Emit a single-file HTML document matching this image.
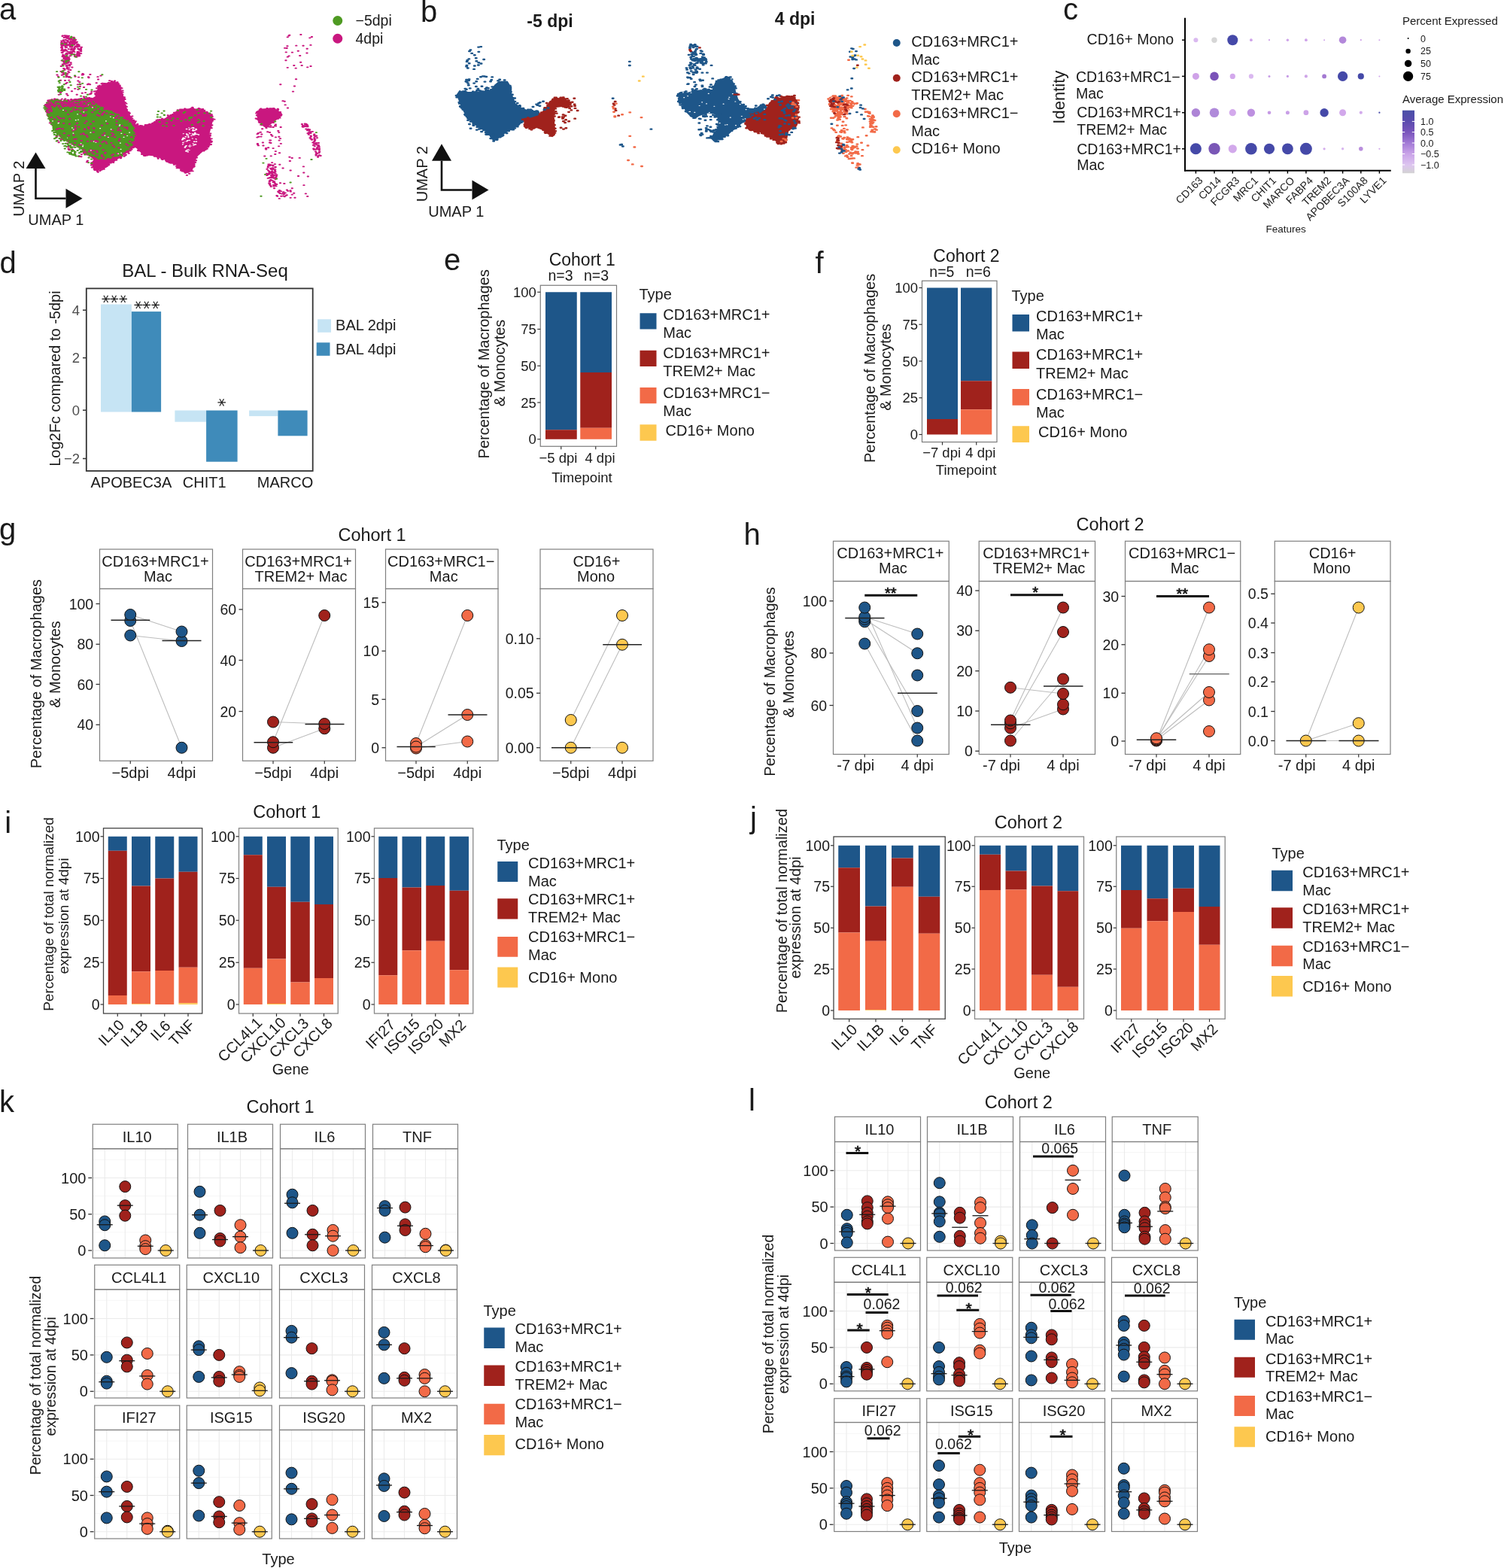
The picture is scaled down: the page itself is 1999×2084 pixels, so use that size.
<!DOCTYPE html>
<html><head><meta charset="utf-8"><title>Figure</title><style>html,body{margin:0;padding:0;background:#fff;}svg{display:block;}</style></head><body>
<svg width="1999" height="2084" viewBox="0 0 1999 2084" font-family='"Liberation Sans", Arial, Helvetica, sans-serif' fill="#1A1A1A">
<text x="-0.4" y="363.3" font-size="40">d</text>
<text x="272.5" y="367.5" font-size="24" text-anchor="middle">BAL - Bulk RNA-Seq</text>
<rect x="134" y="404.5" width="40.9" height="143" fill="#C6E4F4"/>
<rect x="174.9" y="414.1" width="39.2" height="133.4" fill="#3F8BBA"/>
<rect x="232.4" y="545.5" width="41.7" height="15.2" fill="#C6E4F4"/>
<rect x="274.1" y="545.5" width="41.5" height="68.2" fill="#3F8BBA"/>
<rect x="331.1" y="545.5" width="38.3" height="7.6" fill="#C6E4F4"/>
<rect x="369.4" y="545.5" width="39.2" height="33.8" fill="#3F8BBA"/>
<rect x="114.8" y="383.4" width="300.9" height="242.5" fill="none" stroke="#333" stroke-width="1.8"/>
<line x1="110" y1="412.2" x2="114.8" y2="412.2" stroke="#333" stroke-width="1.5"/>
<text x="106" y="418.7" font-size="18.5" text-anchor="end" fill="#4D4D4D">4</text>
<line x1="110" y1="475.6" x2="114.8" y2="475.6" stroke="#333" stroke-width="1.5"/>
<text x="106" y="482.1" font-size="18.5" text-anchor="end" fill="#4D4D4D">2</text>
<line x1="110" y1="545.2" x2="114.8" y2="545.2" stroke="#333" stroke-width="1.5"/>
<text x="106" y="551.7" font-size="18.5" text-anchor="end" fill="#4D4D4D">0</text>
<line x1="110" y1="609.5" x2="114.8" y2="609.5" stroke="#333" stroke-width="1.5"/>
<text x="106" y="616" font-size="18.5" text-anchor="end" fill="#4D4D4D">−2</text>
<text x="135.32" y="409" font-size="22.5" font-family="DejaVu Sans" transform="rotate(90 140.84 397.3)">*</text>
<text x="146.57" y="409" font-size="22.5" font-family="DejaVu Sans" transform="rotate(90 152.09 397.3)">*</text>
<text x="157.82" y="409" font-size="22.5" font-family="DejaVu Sans" transform="rotate(90 163.34 397.3)">*</text>
<text x="178.32" y="417" font-size="22.5" font-family="DejaVu Sans" transform="rotate(90 183.84 405.3)">*</text>
<text x="189.57" y="417" font-size="22.5" font-family="DejaVu Sans" transform="rotate(90 195.09 405.3)">*</text>
<text x="200.82" y="417" font-size="22.5" font-family="DejaVu Sans" transform="rotate(90 206.34 405.3)">*</text>
<text x="289.07" y="546.4" font-size="22.5" font-family="DejaVu Sans" transform="rotate(90 294.59 534.7)">*</text>
<text x="174.4" y="648.1" font-size="20" text-anchor="middle">APOBEC3A</text>
<text x="271.75" y="648.1" font-size="20" text-anchor="middle">CHIT1</text>
<text x="379" y="648.1" font-size="20" text-anchor="middle">MARCO</text>
<text transform="translate(79.6 503.1) rotate(-90)" font-size="20" text-anchor="middle">Log2Fc compared to -5dpi</text>
<rect x="422.1" y="424.3" width="17.9" height="17.5" fill="#C6E4F4"/>
<rect x="420.7" y="455.3" width="17.8" height="17.5" fill="#3F8BBA"/>
<text x="446.1" y="439" font-size="20">BAL 2dpi</text>
<text x="446.1" y="470.5" font-size="20">BAL 4dpi</text>
<text x="590" y="358.75" font-size="40">e</text>
<text x="773.75" y="352.5" font-size="23" text-anchor="middle">Cohort 1</text>
<text x="745" y="372.5" font-size="19.5" text-anchor="middle">n=3</text>
<text x="792.5" y="372.5" font-size="19.5" text-anchor="middle">n=3</text>
<rect x="725" y="388.25" width="41.75" height="183" fill="#1E5689"/>
<rect x="725" y="571.25" width="41.75" height="12.5" fill="#A0221C"/>
<rect x="771.25" y="388.25" width="41.75" height="106.75" fill="#1E5689"/>
<rect x="771.25" y="495" width="41.75" height="73.75" fill="#A0221C"/>
<rect x="771.25" y="568.75" width="41.75" height="15" fill="#F26A47"/>
<rect x="718.25" y="379.25" width="101.25" height="214" fill="none" stroke="#7A7A7A" stroke-width="1.2"/>
<line x1="714.25" y1="388.25" x2="718.25" y2="388.25" stroke="#333" stroke-width="1.2"/>
<text x="712.75" y="394.75" font-size="18.5" text-anchor="end">100</text>
<line x1="714.25" y1="437.5" x2="718.25" y2="437.5" stroke="#333" stroke-width="1.2"/>
<text x="712.75" y="444" font-size="18.5" text-anchor="end">75</text>
<line x1="714.25" y1="486.25" x2="718.25" y2="486.25" stroke="#333" stroke-width="1.2"/>
<text x="712.75" y="492.75" font-size="18.5" text-anchor="end">50</text>
<line x1="714.25" y1="535" x2="718.25" y2="535" stroke="#333" stroke-width="1.2"/>
<text x="712.75" y="541.5" font-size="18.5" text-anchor="end">25</text>
<line x1="714.25" y1="583.75" x2="718.25" y2="583.75" stroke="#333" stroke-width="1.2"/>
<text x="712.75" y="590.25" font-size="18.5" text-anchor="end">0</text>
<line x1="745.75" y1="593.25" x2="745.75" y2="597.25" stroke="#333" stroke-width="1.2"/>
<line x1="791.75" y1="593.25" x2="791.75" y2="597.25" stroke="#333" stroke-width="1.2"/>
<text x="742" y="615" font-size="18.5" text-anchor="middle">−5 dpi</text>
<text x="797.5" y="615" font-size="18.5" text-anchor="middle">4 dpi</text>
<text x="773.4" y="641.25" font-size="18.5" text-anchor="middle">Timepoint</text>
<text transform="translate(650 483.75) rotate(-90)" font-size="20" text-anchor="middle">Percentage of Macrophages</text>
<text transform="translate(671.25 482.5) rotate(-90)" font-size="20" text-anchor="middle">&amp; Monocytes</text>
<text x="849.5" y="397.5" font-size="20">Type</text>
<rect x="850.5" y="416.25" width="22" height="21.25" fill="#1E5689"/>
<rect x="850.5" y="465.75" width="22" height="21.25" fill="#A0221C"/>
<rect x="850.5" y="515" width="22" height="21.25" fill="#F26A47"/>
<rect x="850.5" y="564.25" width="22" height="21.5" fill="#FDC84F"/>
<text x="881.25" y="425" font-size="20">CD163+MRC1+</text>
<text x="881.25" y="448.75" font-size="20">Mac</text>
<text x="881.25" y="476.25" font-size="20">CD163+MRC1+</text>
<text x="881.25" y="500" font-size="20">TREM2+ Mac</text>
<text x="881.25" y="528.75" font-size="20">CD163+MRC1−</text>
<text x="881.25" y="552.5" font-size="20">Mac</text>
<text x="884.5" y="578.75" font-size="20">CD16+ Mono</text>
<text x="1083.5" y="362.5" font-size="40">f</text>
<text x="1284.4" y="347.5" font-size="23" text-anchor="middle">Cohort 2</text>
<text x="1251.9" y="368" font-size="19.5" text-anchor="middle">n=5</text>
<text x="1300.25" y="368" font-size="19.5" text-anchor="middle">n=6</text>
<rect x="1232" y="382.5" width="41" height="174.5" fill="#1E5689"/>
<rect x="1232" y="557" width="41" height="20.5" fill="#A0221C"/>
<rect x="1277" y="382.5" width="41.25" height="123.75" fill="#1E5689"/>
<rect x="1277" y="506.25" width="41.25" height="38" fill="#A0221C"/>
<rect x="1277" y="544.25" width="41.25" height="33.25" fill="#F26A47"/>
<rect x="1225.5" y="373.25" width="99.5" height="214.25" fill="none" stroke="#7A7A7A" stroke-width="1.2"/>
<line x1="1221.5" y1="382.5" x2="1225.5" y2="382.5" stroke="#333" stroke-width="1.2"/>
<text x="1220" y="389" font-size="18.5" text-anchor="end">100</text>
<line x1="1221.5" y1="431.25" x2="1225.5" y2="431.25" stroke="#333" stroke-width="1.2"/>
<text x="1220" y="437.75" font-size="18.5" text-anchor="end">75</text>
<line x1="1221.5" y1="480" x2="1225.5" y2="480" stroke="#333" stroke-width="1.2"/>
<text x="1220" y="486.5" font-size="18.5" text-anchor="end">50</text>
<line x1="1221.5" y1="528.75" x2="1225.5" y2="528.75" stroke="#333" stroke-width="1.2"/>
<text x="1220" y="535.25" font-size="18.5" text-anchor="end">25</text>
<line x1="1221.5" y1="577.5" x2="1225.5" y2="577.5" stroke="#333" stroke-width="1.2"/>
<text x="1220" y="584" font-size="18.5" text-anchor="end">0</text>
<line x1="1252.5" y1="587.5" x2="1252.5" y2="591.5" stroke="#333" stroke-width="1.2"/>
<line x1="1297.75" y1="587.5" x2="1297.75" y2="591.5" stroke="#333" stroke-width="1.2"/>
<text x="1251.6" y="607.5" font-size="18.5" text-anchor="middle">−7 dpi</text>
<text x="1303.4" y="607.5" font-size="18.5" text-anchor="middle">4 dpi</text>
<text x="1284.1" y="631.25" font-size="18.5" text-anchor="middle">Timepoint</text>
<text transform="translate(1162.5 489.4) rotate(-90)" font-size="20" text-anchor="middle">Percentage of Macrophages</text>
<text transform="translate(1183.75 488) rotate(-90)" font-size="20" text-anchor="middle">&amp; Monocytes</text>
<text x="1344.5" y="400" font-size="20">Type</text>
<rect x="1345.5" y="418" width="22.5" height="22.5" fill="#1E5689"/>
<rect x="1345.5" y="467.5" width="22.5" height="22.5" fill="#A0221C"/>
<rect x="1345.5" y="517" width="22.5" height="21.75" fill="#F26A47"/>
<rect x="1345.5" y="566.25" width="22.5" height="21.75" fill="#FDC84F"/>
<text x="1377" y="427" font-size="20">CD163+MRC1+</text>
<text x="1377" y="450.75" font-size="20">Mac</text>
<text x="1377" y="477.5" font-size="20">CD163+MRC1+</text>
<text x="1377" y="502.5" font-size="20">TREM2+ Mac</text>
<text x="1377" y="531.25" font-size="20">CD163+MRC1−</text>
<text x="1377" y="555" font-size="20">Mac</text>
<text x="1380" y="581.25" font-size="20">CD16+ Mono</text>
<text x="-1" y="717.25" font-size="40">g</text>
<text x="494.5" y="718.75" font-size="23.5" text-anchor="middle">Cohort 1</text>
<rect x="132.5" y="730" width="150" height="52.5" fill="#fff" stroke="#7F7F7F" stroke-width="1.2"/>
<rect x="132.5" y="782.5" width="150" height="228.75" fill="none" stroke="#7F7F7F" stroke-width="1.2"/>
<text x="206.5" y="753.3" font-size="20" text-anchor="middle">CD163+MRC1+</text>
<text x="210" y="773.3" font-size="20" text-anchor="middle">Mac</text>
<line x1="127.5" y1="802.5" x2="132.5" y2="802.5" stroke="#333" stroke-width="1.3"/>
<text x="124.2" y="809.7" font-size="19.5" text-anchor="end">100</text>
<line x1="127.5" y1="856.25" x2="132.5" y2="856.25" stroke="#333" stroke-width="1.3"/>
<text x="124.2" y="863.45" font-size="19.5" text-anchor="end">80</text>
<line x1="127.5" y1="909.5" x2="132.5" y2="909.5" stroke="#333" stroke-width="1.3"/>
<text x="124.2" y="916.7" font-size="19.5" text-anchor="end">60</text>
<line x1="127.5" y1="963.25" x2="132.5" y2="963.25" stroke="#333" stroke-width="1.3"/>
<text x="124.2" y="970.45" font-size="19.5" text-anchor="end">40</text>
<line x1="173.25" y1="817" x2="241.5" y2="839.5" stroke="#BDBDBD" stroke-width="1.1"/>
<line x1="173.25" y1="844.5" x2="241.5" y2="852" stroke="#BDBDBD" stroke-width="1.1"/>
<line x1="173.25" y1="825" x2="241.5" y2="993.75" stroke="#BDBDBD" stroke-width="1.1"/>
<circle cx="173.25" cy="844.5" r="7.5" fill="#1E5689" stroke="#111" stroke-width="1"/>
<circle cx="173.25" cy="825" r="7.5" fill="#1E5689" stroke="#111" stroke-width="1"/>
<circle cx="173.25" cy="817" r="7.5" fill="#1E5689" stroke="#111" stroke-width="1"/>
<circle cx="241.5" cy="993.75" r="7.5" fill="#1E5689" stroke="#111" stroke-width="1"/>
<circle cx="241.5" cy="852" r="7.5" fill="#1E5689" stroke="#111" stroke-width="1"/>
<circle cx="241.5" cy="839.5" r="7.5" fill="#1E5689" stroke="#111" stroke-width="1"/>
<line x1="147.5" y1="824.25" x2="199.25" y2="824.25" stroke="#222" stroke-width="1.5"/>
<line x1="215.5" y1="851.5" x2="267.5" y2="851.5" stroke="#222" stroke-width="1.5"/>
<line x1="173.25" y1="1011.25" x2="173.25" y2="1015.25" stroke="#333" stroke-width="1.2"/>
<text x="173.25" y="1033.75" font-size="20" text-anchor="middle">−5dpi</text>
<line x1="241.5" y1="1011.25" x2="241.5" y2="1015.25" stroke="#333" stroke-width="1.2"/>
<text x="241.5" y="1033.75" font-size="20" text-anchor="middle">4dpi</text>
<rect x="322.5" y="730" width="150" height="52.5" fill="#fff" stroke="#7F7F7F" stroke-width="1.2"/>
<rect x="322.5" y="782.5" width="150" height="228.75" fill="none" stroke="#7F7F7F" stroke-width="1.2"/>
<text x="396.5" y="753.3" font-size="20" text-anchor="middle">CD163+MRC1+</text>
<text x="400" y="773.3" font-size="20" text-anchor="middle">TREM2+ Mac</text>
<line x1="317.5" y1="810" x2="322.5" y2="810" stroke="#333" stroke-width="1.3"/>
<text x="314.2" y="817.2" font-size="19.5" text-anchor="end">60</text>
<line x1="317.5" y1="877.5" x2="322.5" y2="877.5" stroke="#333" stroke-width="1.3"/>
<text x="314.2" y="884.7" font-size="19.5" text-anchor="end">40</text>
<line x1="317.5" y1="945.5" x2="322.5" y2="945.5" stroke="#333" stroke-width="1.3"/>
<text x="314.2" y="952.7" font-size="19.5" text-anchor="end">20</text>
<line x1="363" y1="959.5" x2="431.25" y2="962" stroke="#BDBDBD" stroke-width="1.1"/>
<line x1="363" y1="993.75" x2="431.25" y2="968.25" stroke="#BDBDBD" stroke-width="1.1"/>
<line x1="363" y1="986.25" x2="431.25" y2="818" stroke="#BDBDBD" stroke-width="1.1"/>
<circle cx="363" cy="959.5" r="7.5" fill="#A0221C" stroke="#111" stroke-width="1"/>
<circle cx="363" cy="993.75" r="7.5" fill="#A0221C" stroke="#111" stroke-width="1"/>
<circle cx="363" cy="986.25" r="7.5" fill="#A0221C" stroke="#111" stroke-width="1"/>
<circle cx="431.25" cy="818" r="7.5" fill="#A0221C" stroke="#111" stroke-width="1"/>
<circle cx="431.25" cy="968.25" r="7.5" fill="#A0221C" stroke="#111" stroke-width="1"/>
<circle cx="431.25" cy="962" r="7.5" fill="#A0221C" stroke="#111" stroke-width="1"/>
<line x1="337.5" y1="986.75" x2="389.25" y2="986.75" stroke="#222" stroke-width="1.5"/>
<line x1="405.5" y1="962.5" x2="457.5" y2="962.5" stroke="#222" stroke-width="1.5"/>
<line x1="363" y1="1011.25" x2="363" y2="1015.25" stroke="#333" stroke-width="1.2"/>
<text x="363" y="1033.75" font-size="20" text-anchor="middle">−5dpi</text>
<line x1="431.25" y1="1011.25" x2="431.25" y2="1015.25" stroke="#333" stroke-width="1.2"/>
<text x="431.25" y="1033.75" font-size="20" text-anchor="middle">4dpi</text>
<rect x="512.5" y="730" width="149.5" height="52.5" fill="#fff" stroke="#7F7F7F" stroke-width="1.2"/>
<rect x="512.5" y="782.5" width="149.5" height="228.75" fill="none" stroke="#7F7F7F" stroke-width="1.2"/>
<text x="586.25" y="753.3" font-size="20" text-anchor="middle">CD163+MRC1−</text>
<text x="589.75" y="773.3" font-size="20" text-anchor="middle">Mac</text>
<line x1="507.5" y1="800.75" x2="512.5" y2="800.75" stroke="#333" stroke-width="1.3"/>
<text x="504.2" y="807.95" font-size="19.5" text-anchor="end">15</text>
<line x1="507.5" y1="865.25" x2="512.5" y2="865.25" stroke="#333" stroke-width="1.3"/>
<text x="504.2" y="872.45" font-size="19.5" text-anchor="end">10</text>
<line x1="507.5" y1="929.5" x2="512.5" y2="929.5" stroke="#333" stroke-width="1.3"/>
<text x="504.2" y="936.7" font-size="19.5" text-anchor="end">5</text>
<line x1="507.5" y1="993.75" x2="512.5" y2="993.75" stroke="#333" stroke-width="1.3"/>
<text x="504.2" y="1000.95" font-size="19.5" text-anchor="end">0</text>
<line x1="553" y1="988" x2="621.25" y2="818" stroke="#BDBDBD" stroke-width="1.1"/>
<line x1="553" y1="992.5" x2="621.25" y2="950" stroke="#BDBDBD" stroke-width="1.1"/>
<line x1="553" y1="994.5" x2="621.25" y2="985.5" stroke="#BDBDBD" stroke-width="1.1"/>
<circle cx="553" cy="988" r="7.5" fill="#F26A47" stroke="#111" stroke-width="1"/>
<circle cx="553" cy="994.5" r="7.5" fill="#F26A47" stroke="#111" stroke-width="1"/>
<circle cx="553" cy="992.5" r="7.5" fill="#F26A47" stroke="#111" stroke-width="1"/>
<circle cx="621.25" cy="818" r="7.5" fill="#F26A47" stroke="#111" stroke-width="1"/>
<circle cx="621.25" cy="985.5" r="7.5" fill="#F26A47" stroke="#111" stroke-width="1"/>
<circle cx="621.25" cy="950" r="7.5" fill="#F26A47" stroke="#111" stroke-width="1"/>
<line x1="527.5" y1="992.5" x2="578.75" y2="992.5" stroke="#222" stroke-width="1.5"/>
<line x1="595.5" y1="950" x2="647.5" y2="950" stroke="#222" stroke-width="1.5"/>
<line x1="553" y1="1011.25" x2="553" y2="1015.25" stroke="#333" stroke-width="1.2"/>
<text x="553" y="1033.75" font-size="20" text-anchor="middle">−5dpi</text>
<line x1="621.25" y1="1011.25" x2="621.25" y2="1015.25" stroke="#333" stroke-width="1.2"/>
<text x="621.25" y="1033.75" font-size="20" text-anchor="middle">4dpi</text>
<rect x="718" y="730" width="150" height="52.5" fill="#fff" stroke="#7F7F7F" stroke-width="1.2"/>
<rect x="718" y="782.5" width="150" height="228.75" fill="none" stroke="#7F7F7F" stroke-width="1.2"/>
<text x="793" y="753.3" font-size="20" text-anchor="middle">CD16+</text>
<text x="792" y="773.3" font-size="20" text-anchor="middle">Mono</text>
<line x1="713" y1="848.75" x2="718" y2="848.75" stroke="#333" stroke-width="1.3"/>
<text x="709.7" y="855.95" font-size="19.5" text-anchor="end">0.10</text>
<line x1="713" y1="921.25" x2="718" y2="921.25" stroke="#333" stroke-width="1.3"/>
<text x="709.7" y="928.45" font-size="19.5" text-anchor="end">0.05</text>
<line x1="713" y1="993.75" x2="718" y2="993.75" stroke="#333" stroke-width="1.3"/>
<text x="709.7" y="1000.95" font-size="19.5" text-anchor="end">0.00</text>
<line x1="758.75" y1="957" x2="827" y2="818" stroke="#BDBDBD" stroke-width="1.1"/>
<line x1="758.75" y1="993.75" x2="827" y2="856.75" stroke="#BDBDBD" stroke-width="1.1"/>
<line x1="758.75" y1="993.75" x2="827" y2="993.75" stroke="#BDBDBD" stroke-width="1.1"/>
<circle cx="758.75" cy="957" r="7.5" fill="#FDC84F" stroke="#111" stroke-width="1"/>
<circle cx="758.75" cy="993.75" r="7.5" fill="#FDC84F" stroke="#111" stroke-width="1"/>
<circle cx="827" cy="818" r="7.5" fill="#FDC84F" stroke="#111" stroke-width="1"/>
<circle cx="827" cy="856.75" r="7.5" fill="#FDC84F" stroke="#111" stroke-width="1"/>
<circle cx="827" cy="993.75" r="7.5" fill="#FDC84F" stroke="#111" stroke-width="1"/>
<line x1="733" y1="993.75" x2="785" y2="993.75" stroke="#222" stroke-width="1.5"/>
<line x1="801.25" y1="856.75" x2="853" y2="856.75" stroke="#222" stroke-width="1.5"/>
<line x1="758.75" y1="1011.25" x2="758.75" y2="1015.25" stroke="#333" stroke-width="1.2"/>
<text x="758.75" y="1033.75" font-size="20" text-anchor="middle">−5dpi</text>
<line x1="827" y1="1011.25" x2="827" y2="1015.25" stroke="#333" stroke-width="1.2"/>
<text x="827" y="1033.75" font-size="20" text-anchor="middle">4dpi</text>
<text transform="translate(55 895.6) rotate(-90)" font-size="20" text-anchor="middle">Percentage of Macrophages</text>
<text transform="translate(80 883) rotate(-90)" font-size="20" text-anchor="middle">&amp; Monocytes</text>
<text x="988.6" y="723.75" font-size="40">h</text>
<text x="1475.6" y="705" font-size="23.5" text-anchor="middle">Cohort 2</text>
<rect x="1107.5" y="719.25" width="153.75" height="53.25" fill="#fff" stroke="#7F7F7F" stroke-width="1.2"/>
<rect x="1107.5" y="772.5" width="153.75" height="230" fill="none" stroke="#7F7F7F" stroke-width="1.2"/>
<text x="1183.38" y="742.05" font-size="20" text-anchor="middle">CD163+MRC1+</text>
<text x="1186.88" y="762.05" font-size="20" text-anchor="middle">Mac</text>
<line x1="1102.5" y1="798.75" x2="1107.5" y2="798.75" stroke="#333" stroke-width="1.3"/>
<text x="1099.2" y="805.95" font-size="19.5" text-anchor="end">100</text>
<line x1="1102.5" y1="868" x2="1107.5" y2="868" stroke="#333" stroke-width="1.3"/>
<text x="1099.2" y="875.2" font-size="19.5" text-anchor="end">80</text>
<line x1="1102.5" y1="937.5" x2="1107.5" y2="937.5" stroke="#333" stroke-width="1.3"/>
<text x="1099.2" y="944.7" font-size="19.5" text-anchor="end">60</text>
<line x1="1149.25" y1="820" x2="1219.25" y2="842.5" stroke="#BDBDBD" stroke-width="1.1"/>
<line x1="1149.25" y1="823" x2="1219.25" y2="868.25" stroke="#BDBDBD" stroke-width="1.1"/>
<line x1="1149.25" y1="826.25" x2="1219.25" y2="945" stroke="#BDBDBD" stroke-width="1.1"/>
<line x1="1149.25" y1="807.5" x2="1219.25" y2="967.5" stroke="#BDBDBD" stroke-width="1.1"/>
<line x1="1149.25" y1="855.5" x2="1219.25" y2="984.5" stroke="#BDBDBD" stroke-width="1.1"/>
<circle cx="1149.25" cy="855.5" r="7.5" fill="#1E5689" stroke="#111" stroke-width="1"/>
<circle cx="1149.25" cy="826.25" r="7.5" fill="#1E5689" stroke="#111" stroke-width="1"/>
<circle cx="1149.25" cy="823" r="7.5" fill="#1E5689" stroke="#111" stroke-width="1"/>
<circle cx="1149.25" cy="820" r="7.5" fill="#1E5689" stroke="#111" stroke-width="1"/>
<circle cx="1149.25" cy="807.5" r="7.5" fill="#1E5689" stroke="#111" stroke-width="1"/>
<circle cx="1219.25" cy="984.5" r="7.5" fill="#1E5689" stroke="#111" stroke-width="1"/>
<circle cx="1219.25" cy="967.5" r="7.5" fill="#1E5689" stroke="#111" stroke-width="1"/>
<circle cx="1219.25" cy="945" r="7.5" fill="#1E5689" stroke="#111" stroke-width="1"/>
<circle cx="1219.25" cy="897.5" r="7.5" fill="#1E5689" stroke="#111" stroke-width="1"/>
<circle cx="1219.25" cy="868.25" r="7.5" fill="#1E5689" stroke="#111" stroke-width="1"/>
<circle cx="1219.25" cy="842.5" r="7.5" fill="#1E5689" stroke="#111" stroke-width="1"/>
<line x1="1123.25" y1="821.5" x2="1175.5" y2="821.5" stroke="#222" stroke-width="1.5"/>
<line x1="1193" y1="921.25" x2="1245.75" y2="921.25" stroke="#222" stroke-width="1.5"/>
<line x1="1149.25" y1="1002.5" x2="1149.25" y2="1006.5" stroke="#333" stroke-width="1.2"/>
<text x="1137.25" y="1023.75" font-size="20" text-anchor="middle">-7 dpi</text>
<line x1="1219.25" y1="1002.5" x2="1219.25" y2="1006.5" stroke="#333" stroke-width="1.2"/>
<text x="1219.25" y="1023.75" font-size="20" text-anchor="middle">4 dpi</text>
<line x1="1149.25" y1="791.25" x2="1219.25" y2="791.25" stroke="#111" stroke-width="3"/>
<text x="1183.75" y="794.5" font-size="20" text-anchor="middle" stroke="#111" stroke-width="0.7">**</text>
<rect x="1301.25" y="719.25" width="154.25" height="53.25" fill="#fff" stroke="#7F7F7F" stroke-width="1.2"/>
<rect x="1301.25" y="772.5" width="154.25" height="230" fill="none" stroke="#7F7F7F" stroke-width="1.2"/>
<text x="1377.38" y="742.05" font-size="20" text-anchor="middle">CD163+MRC1+</text>
<text x="1380.88" y="762.05" font-size="20" text-anchor="middle">TREM2+ Mac</text>
<line x1="1296.25" y1="785" x2="1301.25" y2="785" stroke="#333" stroke-width="1.3"/>
<text x="1292.95" y="792.2" font-size="19.5" text-anchor="end">40</text>
<line x1="1296.25" y1="838.25" x2="1301.25" y2="838.25" stroke="#333" stroke-width="1.3"/>
<text x="1292.95" y="845.45" font-size="19.5" text-anchor="end">30</text>
<line x1="1296.25" y1="891.75" x2="1301.25" y2="891.75" stroke="#333" stroke-width="1.3"/>
<text x="1292.95" y="898.95" font-size="19.5" text-anchor="end">20</text>
<line x1="1296.25" y1="945" x2="1301.25" y2="945" stroke="#333" stroke-width="1.3"/>
<text x="1292.95" y="952.2" font-size="19.5" text-anchor="end">10</text>
<line x1="1296.25" y1="998.25" x2="1301.25" y2="998.25" stroke="#333" stroke-width="1.3"/>
<text x="1292.95" y="1005.45" font-size="19.5" text-anchor="end">0</text>
<line x1="1343" y1="913.75" x2="1413" y2="922" stroke="#BDBDBD" stroke-width="1.1"/>
<line x1="1343" y1="957.5" x2="1413" y2="807.5" stroke="#BDBDBD" stroke-width="1.1"/>
<line x1="1343" y1="961.25" x2="1413" y2="840" stroke="#BDBDBD" stroke-width="1.1"/>
<line x1="1343" y1="967.5" x2="1413" y2="942.5" stroke="#BDBDBD" stroke-width="1.1"/>
<line x1="1343" y1="984.5" x2="1413" y2="902.5" stroke="#BDBDBD" stroke-width="1.1"/>
<circle cx="1343" cy="984.5" r="7.5" fill="#A0221C" stroke="#111" stroke-width="1"/>
<circle cx="1343" cy="967.5" r="7.5" fill="#A0221C" stroke="#111" stroke-width="1"/>
<circle cx="1343" cy="961.25" r="7.5" fill="#A0221C" stroke="#111" stroke-width="1"/>
<circle cx="1343" cy="957.5" r="7.5" fill="#A0221C" stroke="#111" stroke-width="1"/>
<circle cx="1343" cy="913.75" r="7.5" fill="#A0221C" stroke="#111" stroke-width="1"/>
<circle cx="1413" cy="942.5" r="7.5" fill="#A0221C" stroke="#111" stroke-width="1"/>
<circle cx="1413" cy="936.25" r="7.5" fill="#A0221C" stroke="#111" stroke-width="1"/>
<circle cx="1413" cy="922" r="7.5" fill="#A0221C" stroke="#111" stroke-width="1"/>
<circle cx="1413" cy="902.5" r="7.5" fill="#A0221C" stroke="#111" stroke-width="1"/>
<circle cx="1413" cy="840" r="7.5" fill="#A0221C" stroke="#111" stroke-width="1"/>
<circle cx="1413" cy="807.5" r="7.5" fill="#A0221C" stroke="#111" stroke-width="1"/>
<line x1="1317" y1="963.25" x2="1369.5" y2="963.25" stroke="#222" stroke-width="1.5"/>
<line x1="1387" y1="912" x2="1439.5" y2="912" stroke="#222" stroke-width="1.5"/>
<line x1="1343" y1="1002.5" x2="1343" y2="1006.5" stroke="#333" stroke-width="1.2"/>
<text x="1331" y="1023.75" font-size="20" text-anchor="middle">-7 dpi</text>
<line x1="1413" y1="1002.5" x2="1413" y2="1006.5" stroke="#333" stroke-width="1.2"/>
<text x="1413" y="1023.75" font-size="20" text-anchor="middle">4 dpi</text>
<line x1="1343" y1="790.75" x2="1413" y2="790.75" stroke="#111" stroke-width="3"/>
<text x="1376.25" y="794" font-size="20" text-anchor="middle" stroke="#111" stroke-width="0.7">*</text>
<rect x="1495.5" y="719.25" width="153.25" height="53.25" fill="#fff" stroke="#7F7F7F" stroke-width="1.2"/>
<rect x="1495.5" y="772.5" width="153.25" height="230" fill="none" stroke="#7F7F7F" stroke-width="1.2"/>
<text x="1571.12" y="742.05" font-size="20" text-anchor="middle">CD163+MRC1−</text>
<text x="1574.62" y="762.05" font-size="20" text-anchor="middle">Mac</text>
<line x1="1490.5" y1="792.5" x2="1495.5" y2="792.5" stroke="#333" stroke-width="1.3"/>
<text x="1487.2" y="799.7" font-size="19.5" text-anchor="end">30</text>
<line x1="1490.5" y1="856.75" x2="1495.5" y2="856.75" stroke="#333" stroke-width="1.3"/>
<text x="1487.2" y="863.95" font-size="19.5" text-anchor="end">20</text>
<line x1="1490.5" y1="921.25" x2="1495.5" y2="921.25" stroke="#333" stroke-width="1.3"/>
<text x="1487.2" y="928.45" font-size="19.5" text-anchor="end">10</text>
<line x1="1490.5" y1="985" x2="1495.5" y2="985" stroke="#333" stroke-width="1.3"/>
<text x="1487.2" y="992.2" font-size="19.5" text-anchor="end">0</text>
<line x1="1537" y1="984.5" x2="1607" y2="807.5" stroke="#BDBDBD" stroke-width="1.1"/>
<line x1="1537" y1="983.5" x2="1607" y2="863.25" stroke="#BDBDBD" stroke-width="1.1"/>
<line x1="1537" y1="982.5" x2="1607" y2="872" stroke="#BDBDBD" stroke-width="1.1"/>
<line x1="1537" y1="981.25" x2="1607" y2="920" stroke="#BDBDBD" stroke-width="1.1"/>
<line x1="1537" y1="983.5" x2="1607" y2="930.5" stroke="#BDBDBD" stroke-width="1.1"/>
<circle cx="1537" cy="984.5" r="7.5" fill="#F26A47" stroke="#111" stroke-width="1"/>
<circle cx="1537" cy="983.5" r="7.5" fill="#F26A47" stroke="#111" stroke-width="1"/>
<circle cx="1537" cy="982.5" r="7.5" fill="#F26A47" stroke="#111" stroke-width="1"/>
<circle cx="1537" cy="981.25" r="7.5" fill="#F26A47" stroke="#111" stroke-width="1"/>
<circle cx="1607" cy="972" r="7.5" fill="#F26A47" stroke="#111" stroke-width="1"/>
<circle cx="1607" cy="930.5" r="7.5" fill="#F26A47" stroke="#111" stroke-width="1"/>
<circle cx="1607" cy="920" r="7.5" fill="#F26A47" stroke="#111" stroke-width="1"/>
<circle cx="1607" cy="872" r="7.5" fill="#F26A47" stroke="#111" stroke-width="1"/>
<circle cx="1607" cy="863.25" r="7.5" fill="#F26A47" stroke="#111" stroke-width="1"/>
<circle cx="1607" cy="807.5" r="7.5" fill="#F26A47" stroke="#111" stroke-width="1"/>
<line x1="1510.75" y1="983.25" x2="1563.25" y2="983.25" stroke="#222" stroke-width="1.5"/>
<line x1="1580.75" y1="895.75" x2="1633.75" y2="895.75" stroke="#777" stroke-width="1.5"/>
<line x1="1537" y1="1002.5" x2="1537" y2="1006.5" stroke="#333" stroke-width="1.2"/>
<text x="1525" y="1023.75" font-size="20" text-anchor="middle">-7 dpi</text>
<line x1="1607" y1="1002.5" x2="1607" y2="1006.5" stroke="#333" stroke-width="1.2"/>
<text x="1607" y="1023.75" font-size="20" text-anchor="middle">4 dpi</text>
<line x1="1537" y1="792.5" x2="1607" y2="792.5" stroke="#111" stroke-width="3"/>
<text x="1571.25" y="796" font-size="20" text-anchor="middle" stroke="#111" stroke-width="0.7">**</text>
<rect x="1694.25" y="719.25" width="153.75" height="53.25" fill="#fff" stroke="#7F7F7F" stroke-width="1.2"/>
<rect x="1694.25" y="772.5" width="153.75" height="230" fill="none" stroke="#7F7F7F" stroke-width="1.2"/>
<text x="1771.12" y="742.05" font-size="20" text-anchor="middle">CD16+</text>
<text x="1770.12" y="762.05" font-size="20" text-anchor="middle">Mono</text>
<line x1="1689.25" y1="789.25" x2="1694.25" y2="789.25" stroke="#333" stroke-width="1.3"/>
<text x="1685.95" y="796.45" font-size="19.5" text-anchor="end">0.5</text>
<line x1="1689.25" y1="828" x2="1694.25" y2="828" stroke="#333" stroke-width="1.3"/>
<text x="1685.95" y="835.2" font-size="19.5" text-anchor="end">0.4</text>
<line x1="1689.25" y1="867.5" x2="1694.25" y2="867.5" stroke="#333" stroke-width="1.3"/>
<text x="1685.95" y="874.7" font-size="19.5" text-anchor="end">0.3</text>
<line x1="1689.25" y1="906.25" x2="1694.25" y2="906.25" stroke="#333" stroke-width="1.3"/>
<text x="1685.95" y="913.45" font-size="19.5" text-anchor="end">0.2</text>
<line x1="1689.25" y1="945.5" x2="1694.25" y2="945.5" stroke="#333" stroke-width="1.3"/>
<text x="1685.95" y="952.7" font-size="19.5" text-anchor="end">0.1</text>
<line x1="1689.25" y1="984.5" x2="1694.25" y2="984.5" stroke="#333" stroke-width="1.3"/>
<text x="1685.95" y="991.7" font-size="19.5" text-anchor="end">0.0</text>
<line x1="1735.75" y1="984.5" x2="1805.75" y2="807.5" stroke="#BDBDBD" stroke-width="1.1"/>
<line x1="1735.75" y1="984.5" x2="1805.75" y2="961.25" stroke="#BDBDBD" stroke-width="1.1"/>
<line x1="1735.75" y1="984.5" x2="1805.75" y2="984.5" stroke="#BDBDBD" stroke-width="1.1"/>
<circle cx="1735.75" cy="984.5" r="7.5" fill="#FDC84F" stroke="#111" stroke-width="1"/>
<circle cx="1805.75" cy="984.5" r="7.5" fill="#FDC84F" stroke="#111" stroke-width="1"/>
<circle cx="1805.75" cy="961.25" r="7.5" fill="#FDC84F" stroke="#111" stroke-width="1"/>
<circle cx="1805.75" cy="807.5" r="7.5" fill="#FDC84F" stroke="#111" stroke-width="1"/>
<line x1="1709.5" y1="984.5" x2="1762.5" y2="984.5" stroke="#222" stroke-width="1.5"/>
<line x1="1779.5" y1="984.5" x2="1832.5" y2="984.5" stroke="#222" stroke-width="1.5"/>
<line x1="1735.75" y1="1002.5" x2="1735.75" y2="1006.5" stroke="#333" stroke-width="1.2"/>
<text x="1723.75" y="1023.75" font-size="20" text-anchor="middle">-7 dpi</text>
<line x1="1805.75" y1="1002.5" x2="1805.75" y2="1006.5" stroke="#333" stroke-width="1.2"/>
<text x="1805.75" y="1023.75" font-size="20" text-anchor="middle">4 dpi</text>
<text transform="translate(1030 906) rotate(-90)" font-size="20" text-anchor="middle">Percentage of Macrophages</text>
<text transform="translate(1055 896) rotate(-90)" font-size="20" text-anchor="middle">&amp; Monocytes</text>
<text x="6.3" y="1106.6" font-size="40">i</text>
<text x="381.25" y="1087" font-size="23.5" text-anchor="middle">Cohort 1</text>
<rect x="143.75" y="1111.75" width="25" height="19" fill="#1E5689"/>
<rect x="143.75" y="1130.75" width="25" height="192.25" fill="#A0221C"/>
<rect x="143.75" y="1323" width="25" height="12" fill="#F26A47"/>
<rect x="175" y="1111.75" width="25" height="65.75" fill="#1E5689"/>
<rect x="175" y="1177.5" width="25" height="113.75" fill="#A0221C"/>
<rect x="175" y="1291.25" width="25" height="43.05" fill="#F26A47"/>
<rect x="175" y="1334.3" width="25" height="0.7" fill="#FDC84F"/>
<rect x="206.25" y="1111.75" width="25" height="55.75" fill="#1E5689"/>
<rect x="206.25" y="1167.5" width="25" height="122.5" fill="#A0221C"/>
<rect x="206.25" y="1290" width="25" height="45" fill="#F26A47"/>
<rect x="237.5" y="1111.75" width="25" height="47" fill="#1E5689"/>
<rect x="237.5" y="1158.75" width="25" height="127" fill="#A0221C"/>
<rect x="237.5" y="1285.75" width="25" height="47.55" fill="#F26A47"/>
<rect x="237.5" y="1333.3" width="25" height="1.7" fill="#FDC84F"/>
<rect x="137.5" y="1100.75" width="131.25" height="246.25" fill="none" stroke="#444" stroke-width="1.3"/>
<line x1="133.5" y1="1111.75" x2="137.5" y2="1111.75" stroke="#333" stroke-width="1.2"/>
<text x="132.5" y="1118.55" font-size="19.5" text-anchor="end">100</text>
<line x1="133.5" y1="1167.5" x2="137.5" y2="1167.5" stroke="#333" stroke-width="1.2"/>
<text x="132.5" y="1174.3" font-size="19.5" text-anchor="end">75</text>
<line x1="133.5" y1="1223.25" x2="137.5" y2="1223.25" stroke="#333" stroke-width="1.2"/>
<text x="132.5" y="1230.05" font-size="19.5" text-anchor="end">50</text>
<line x1="133.5" y1="1279.25" x2="137.5" y2="1279.25" stroke="#333" stroke-width="1.2"/>
<text x="132.5" y="1286.05" font-size="19.5" text-anchor="end">25</text>
<line x1="133.5" y1="1335" x2="137.5" y2="1335" stroke="#333" stroke-width="1.2"/>
<text x="132.5" y="1341.8" font-size="19.5" text-anchor="end">0</text>
<line x1="156.25" y1="1347" x2="156.25" y2="1351" stroke="#333" stroke-width="1.2"/>
<text transform="translate(166.43 1363.69) rotate(-45)" font-size="20" text-anchor="end">IL10</text>
<line x1="187.5" y1="1347" x2="187.5" y2="1351" stroke="#333" stroke-width="1.2"/>
<text transform="translate(197.89 1363.49) rotate(-45)" font-size="20" text-anchor="end">IL1B</text>
<line x1="218.75" y1="1347" x2="218.75" y2="1351" stroke="#333" stroke-width="1.2"/>
<text transform="translate(227.91 1364.72) rotate(-45)" font-size="20" text-anchor="end">IL6</text>
<line x1="250" y1="1347" x2="250" y2="1351" stroke="#333" stroke-width="1.2"/>
<text transform="translate(260.18 1363.7) rotate(-45)" font-size="20" text-anchor="end">TNF</text>
<rect x="323.75" y="1111.75" width="25" height="24.5" fill="#1E5689"/>
<rect x="323.75" y="1136.25" width="25" height="150.5" fill="#A0221C"/>
<rect x="323.75" y="1286.75" width="25" height="48.25" fill="#F26A47"/>
<rect x="355" y="1111.75" width="25" height="67" fill="#1E5689"/>
<rect x="355" y="1178.75" width="25" height="95.75" fill="#A0221C"/>
<rect x="355" y="1274.5" width="25" height="59.5" fill="#F26A47"/>
<rect x="355" y="1334" width="25" height="1" fill="#FDC84F"/>
<rect x="386.25" y="1111.75" width="25.5" height="87" fill="#1E5689"/>
<rect x="386.25" y="1198.75" width="25.5" height="106.75" fill="#A0221C"/>
<rect x="386.25" y="1305.5" width="25.5" height="29.5" fill="#F26A47"/>
<rect x="418" y="1111.75" width="25" height="90.25" fill="#1E5689"/>
<rect x="418" y="1202" width="25" height="98" fill="#A0221C"/>
<rect x="418" y="1300" width="25" height="35" fill="#F26A47"/>
<rect x="317.5" y="1100.75" width="131.75" height="246.25" fill="none" stroke="#888" stroke-width="1.3"/>
<line x1="313.5" y1="1111.75" x2="317.5" y2="1111.75" stroke="#333" stroke-width="1.2"/>
<text x="312.5" y="1118.55" font-size="19.5" text-anchor="end">100</text>
<line x1="313.5" y1="1167.5" x2="317.5" y2="1167.5" stroke="#333" stroke-width="1.2"/>
<text x="312.5" y="1174.3" font-size="19.5" text-anchor="end">75</text>
<line x1="313.5" y1="1223.25" x2="317.5" y2="1223.25" stroke="#333" stroke-width="1.2"/>
<text x="312.5" y="1230.05" font-size="19.5" text-anchor="end">50</text>
<line x1="313.5" y1="1279.25" x2="317.5" y2="1279.25" stroke="#333" stroke-width="1.2"/>
<text x="312.5" y="1286.05" font-size="19.5" text-anchor="end">25</text>
<line x1="313.5" y1="1335" x2="317.5" y2="1335" stroke="#333" stroke-width="1.2"/>
<text x="312.5" y="1341.8" font-size="19.5" text-anchor="end">0</text>
<line x1="336.25" y1="1347" x2="336.25" y2="1351" stroke="#333" stroke-width="1.2"/>
<text transform="translate(349.6 1360.53) rotate(-45)" font-size="20" text-anchor="end">CCL4L1</text>
<line x1="367.5" y1="1347" x2="367.5" y2="1351" stroke="#333" stroke-width="1.2"/>
<text transform="translate(381.06 1360.32) rotate(-45)" font-size="20" text-anchor="end">CXCL10</text>
<line x1="399" y1="1347" x2="399" y2="1351" stroke="#333" stroke-width="1.2"/>
<text transform="translate(411.53 1361.35) rotate(-45)" font-size="20" text-anchor="end">CXCL3</text>
<line x1="430.5" y1="1347" x2="430.5" y2="1351" stroke="#333" stroke-width="1.2"/>
<text transform="translate(443.03 1361.35) rotate(-45)" font-size="20" text-anchor="end">CXCL8</text>
<rect x="503.25" y="1111.75" width="25" height="55.25" fill="#1E5689"/>
<rect x="503.25" y="1167" width="25" height="129.25" fill="#A0221C"/>
<rect x="503.25" y="1296.25" width="25" height="38.75" fill="#F26A47"/>
<rect x="534.5" y="1111.75" width="25.5" height="67.75" fill="#1E5689"/>
<rect x="534.5" y="1179.5" width="25.5" height="83.75" fill="#A0221C"/>
<rect x="534.5" y="1263.25" width="25.5" height="71.75" fill="#F26A47"/>
<rect x="566.25" y="1111.75" width="25" height="65.25" fill="#1E5689"/>
<rect x="566.25" y="1177" width="25" height="73.75" fill="#A0221C"/>
<rect x="566.25" y="1250.75" width="25" height="84.25" fill="#F26A47"/>
<rect x="597.5" y="1111.75" width="25.5" height="72" fill="#1E5689"/>
<rect x="597.5" y="1183.75" width="25.5" height="105.5" fill="#A0221C"/>
<rect x="597.5" y="1289.25" width="25.5" height="45.75" fill="#F26A47"/>
<rect x="497.5" y="1100.75" width="131.25" height="246.25" fill="none" stroke="#888" stroke-width="1.3"/>
<line x1="493.5" y1="1111.75" x2="497.5" y2="1111.75" stroke="#333" stroke-width="1.2"/>
<text x="492.5" y="1118.55" font-size="19.5" text-anchor="end">100</text>
<line x1="493.5" y1="1167.5" x2="497.5" y2="1167.5" stroke="#333" stroke-width="1.2"/>
<text x="492.5" y="1174.3" font-size="19.5" text-anchor="end">75</text>
<line x1="493.5" y1="1223.25" x2="497.5" y2="1223.25" stroke="#333" stroke-width="1.2"/>
<text x="492.5" y="1230.05" font-size="19.5" text-anchor="end">50</text>
<line x1="493.5" y1="1279.25" x2="497.5" y2="1279.25" stroke="#333" stroke-width="1.2"/>
<text x="492.5" y="1286.05" font-size="19.5" text-anchor="end">25</text>
<line x1="493.5" y1="1335" x2="497.5" y2="1335" stroke="#333" stroke-width="1.2"/>
<text x="492.5" y="1341.8" font-size="19.5" text-anchor="end">0</text>
<line x1="515.75" y1="1347" x2="515.75" y2="1351" stroke="#333" stroke-width="1.2"/>
<text transform="translate(526.55 1363.08) rotate(-45)" font-size="20" text-anchor="end">IFI27</text>
<line x1="547.25" y1="1347" x2="547.25" y2="1351" stroke="#333" stroke-width="1.2"/>
<text transform="translate(559.07 1362.06) rotate(-45)" font-size="20" text-anchor="end">ISG15</text>
<line x1="578.75" y1="1347" x2="578.75" y2="1351" stroke="#333" stroke-width="1.2"/>
<text transform="translate(590.57 1362.06) rotate(-45)" font-size="20" text-anchor="end">ISG20</text>
<line x1="610.25" y1="1347" x2="610.25" y2="1351" stroke="#333" stroke-width="1.2"/>
<text transform="translate(620.64 1363.49) rotate(-45)" font-size="20" text-anchor="end">MX2</text>
<text x="386.25" y="1428" font-size="20" text-anchor="middle">Gene</text>
<text transform="translate(71.25 1215) rotate(-90)" font-size="19" text-anchor="middle">Percentage of total normalized</text>
<text transform="translate(91.25 1217.5) rotate(-90)" font-size="19" text-anchor="middle">expression at 4dpi</text>
<text x="660.5" y="1129.5" font-size="20">Type</text>
<rect x="661.25" y="1145" width="27" height="27" fill="#1E5689"/>
<rect x="661.25" y="1194.25" width="27" height="27.25" fill="#A0221C"/>
<rect x="661.25" y="1245" width="27" height="26.75" fill="#F26A47"/>
<rect x="661.25" y="1285.5" width="27" height="27" fill="#FDC84F"/>
<text x="702" y="1153.75" font-size="20">CD163+MRC1+</text>
<text x="702" y="1178" font-size="20">Mac</text>
<text x="702" y="1202" font-size="20">CD163+MRC1+</text>
<text x="702" y="1226.25" font-size="20">TREM2+ Mac</text>
<text x="702" y="1252" font-size="20">CD163+MRC1−</text>
<text x="702" y="1276.25" font-size="20">Mac</text>
<text x="702" y="1305.5" font-size="20">CD16+ Mono</text>
<text x="997" y="1101" font-size="40">j</text>
<text x="1366.9" y="1101.25" font-size="23.5" text-anchor="middle">Cohort 2</text>
<rect x="1114.25" y="1123.75" width="28.75" height="29.5" fill="#1E5689"/>
<rect x="1114.25" y="1153.25" width="28.75" height="86.25" fill="#A0221C"/>
<rect x="1114.25" y="1239.5" width="28.75" height="103.5" fill="#F26A47"/>
<rect x="1150" y="1123.75" width="28" height="80.75" fill="#1E5689"/>
<rect x="1150" y="1204.5" width="28" height="46.25" fill="#A0221C"/>
<rect x="1150" y="1250.75" width="28" height="91.55" fill="#F26A47"/>
<rect x="1150" y="1342.3" width="28" height="0.7" fill="#FDC84F"/>
<rect x="1185" y="1123.75" width="28.75" height="16.75" fill="#1E5689"/>
<rect x="1185" y="1140.5" width="28.75" height="38.25" fill="#A0221C"/>
<rect x="1185" y="1178.75" width="28.75" height="164.25" fill="#F26A47"/>
<rect x="1220.75" y="1123.75" width="28.5" height="68" fill="#1E5689"/>
<rect x="1220.75" y="1191.75" width="28.5" height="49" fill="#A0221C"/>
<rect x="1220.75" y="1240.75" width="28.5" height="102.25" fill="#F26A47"/>
<rect x="1108" y="1112" width="148.25" height="242.25" fill="none" stroke="#444" stroke-width="1.3"/>
<line x1="1104" y1="1123.75" x2="1108" y2="1123.75" stroke="#333" stroke-width="1.2"/>
<text x="1103" y="1130.55" font-size="19.5" text-anchor="end">100</text>
<line x1="1104" y1="1178.25" x2="1108" y2="1178.25" stroke="#333" stroke-width="1.2"/>
<text x="1103" y="1185.05" font-size="19.5" text-anchor="end">75</text>
<line x1="1104" y1="1233.25" x2="1108" y2="1233.25" stroke="#333" stroke-width="1.2"/>
<text x="1103" y="1240.05" font-size="19.5" text-anchor="end">50</text>
<line x1="1104" y1="1288" x2="1108" y2="1288" stroke="#333" stroke-width="1.2"/>
<text x="1103" y="1294.8" font-size="19.5" text-anchor="end">25</text>
<line x1="1104" y1="1343" x2="1108" y2="1343" stroke="#333" stroke-width="1.2"/>
<text x="1103" y="1349.8" font-size="19.5" text-anchor="end">0</text>
<line x1="1128.62" y1="1354.25" x2="1128.62" y2="1358.25" stroke="#333" stroke-width="1.2"/>
<text transform="translate(1140.66 1369.55) rotate(-45)" font-size="20" text-anchor="end">IL10</text>
<line x1="1164" y1="1354.25" x2="1164" y2="1358.25" stroke="#333" stroke-width="1.2"/>
<text transform="translate(1176.34 1369.24) rotate(-45)" font-size="20" text-anchor="end">IL1B</text>
<line x1="1199.38" y1="1354.25" x2="1199.38" y2="1358.25" stroke="#333" stroke-width="1.2"/>
<text transform="translate(1209.89 1371.07) rotate(-45)" font-size="20" text-anchor="end">IL6</text>
<line x1="1235" y1="1354.25" x2="1235" y2="1358.25" stroke="#333" stroke-width="1.2"/>
<text transform="translate(1247.03 1369.55) rotate(-45)" font-size="20" text-anchor="end">TNF</text>
<rect x="1302" y="1123.75" width="28" height="12" fill="#1E5689"/>
<rect x="1302" y="1135.75" width="28" height="47.25" fill="#A0221C"/>
<rect x="1302" y="1183" width="28" height="160" fill="#F26A47"/>
<rect x="1336.5" y="1123.75" width="28" height="33.75" fill="#1E5689"/>
<rect x="1336.5" y="1157.5" width="28" height="25" fill="#A0221C"/>
<rect x="1336.5" y="1182.5" width="28" height="160.5" fill="#F26A47"/>
<rect x="1371" y="1123.75" width="28" height="53.75" fill="#1E5689"/>
<rect x="1371" y="1177.5" width="28" height="118.25" fill="#A0221C"/>
<rect x="1371" y="1295.75" width="28" height="47.25" fill="#F26A47"/>
<rect x="1405.5" y="1123.75" width="27.75" height="60.5" fill="#1E5689"/>
<rect x="1405.5" y="1184.25" width="27.75" height="127.5" fill="#A0221C"/>
<rect x="1405.5" y="1311.75" width="27.75" height="31.25" fill="#F26A47"/>
<rect x="1295.5" y="1112" width="145" height="242.25" fill="none" stroke="#888" stroke-width="1.3"/>
<line x1="1291.5" y1="1123.75" x2="1295.5" y2="1123.75" stroke="#333" stroke-width="1.2"/>
<text x="1290.5" y="1130.55" font-size="19.5" text-anchor="end">100</text>
<line x1="1291.5" y1="1178.25" x2="1295.5" y2="1178.25" stroke="#333" stroke-width="1.2"/>
<text x="1290.5" y="1185.05" font-size="19.5" text-anchor="end">75</text>
<line x1="1291.5" y1="1233.25" x2="1295.5" y2="1233.25" stroke="#333" stroke-width="1.2"/>
<text x="1290.5" y="1240.05" font-size="19.5" text-anchor="end">50</text>
<line x1="1291.5" y1="1288" x2="1295.5" y2="1288" stroke="#333" stroke-width="1.2"/>
<text x="1290.5" y="1294.8" font-size="19.5" text-anchor="end">25</text>
<line x1="1291.5" y1="1343" x2="1295.5" y2="1343" stroke="#333" stroke-width="1.2"/>
<text x="1290.5" y="1349.8" font-size="19.5" text-anchor="end">0</text>
<line x1="1316" y1="1354.25" x2="1316" y2="1358.25" stroke="#333" stroke-width="1.2"/>
<text transform="translate(1332.76 1364.82) rotate(-45)" font-size="20" text-anchor="end">CCL4L1</text>
<line x1="1350.5" y1="1354.25" x2="1350.5" y2="1358.25" stroke="#333" stroke-width="1.2"/>
<text transform="translate(1367.57 1364.52) rotate(-45)" font-size="20" text-anchor="end">CXCL10</text>
<line x1="1385" y1="1354.25" x2="1385" y2="1358.25" stroke="#333" stroke-width="1.2"/>
<text transform="translate(1400.54 1366.04) rotate(-45)" font-size="20" text-anchor="end">CXCL3</text>
<line x1="1419.38" y1="1354.25" x2="1419.38" y2="1358.25" stroke="#333" stroke-width="1.2"/>
<text transform="translate(1434.92 1366.04) rotate(-45)" font-size="20" text-anchor="end">CXCL8</text>
<rect x="1490" y="1123.75" width="27.5" height="59.25" fill="#1E5689"/>
<rect x="1490" y="1183" width="27.5" height="50.75" fill="#A0221C"/>
<rect x="1490" y="1233.75" width="27.5" height="109.25" fill="#F26A47"/>
<rect x="1524.5" y="1123.75" width="28" height="70.5" fill="#1E5689"/>
<rect x="1524.5" y="1194.25" width="28" height="30" fill="#A0221C"/>
<rect x="1524.5" y="1224.25" width="28" height="118.75" fill="#F26A47"/>
<rect x="1559" y="1123.75" width="28" height="57" fill="#1E5689"/>
<rect x="1559" y="1180.75" width="28" height="31.25" fill="#A0221C"/>
<rect x="1559" y="1212" width="28" height="131" fill="#F26A47"/>
<rect x="1593.5" y="1123.75" width="28" height="81.25" fill="#1E5689"/>
<rect x="1593.5" y="1205" width="28" height="50.75" fill="#A0221C"/>
<rect x="1593.5" y="1255.75" width="28" height="87.25" fill="#F26A47"/>
<rect x="1483.75" y="1112" width="144.5" height="242.25" fill="none" stroke="#888" stroke-width="1.3"/>
<line x1="1479.75" y1="1123.75" x2="1483.75" y2="1123.75" stroke="#333" stroke-width="1.2"/>
<text x="1478.75" y="1130.55" font-size="19.5" text-anchor="end">100</text>
<line x1="1479.75" y1="1178.25" x2="1483.75" y2="1178.25" stroke="#333" stroke-width="1.2"/>
<text x="1478.75" y="1185.05" font-size="19.5" text-anchor="end">75</text>
<line x1="1479.75" y1="1233.25" x2="1483.75" y2="1233.25" stroke="#333" stroke-width="1.2"/>
<text x="1478.75" y="1240.05" font-size="19.5" text-anchor="end">50</text>
<line x1="1479.75" y1="1288" x2="1483.75" y2="1288" stroke="#333" stroke-width="1.2"/>
<text x="1478.75" y="1294.8" font-size="19.5" text-anchor="end">25</text>
<line x1="1479.75" y1="1343" x2="1483.75" y2="1343" stroke="#333" stroke-width="1.2"/>
<text x="1478.75" y="1349.8" font-size="19.5" text-anchor="end">0</text>
<line x1="1503.75" y1="1354.25" x2="1503.75" y2="1358.25" stroke="#333" stroke-width="1.2"/>
<text transform="translate(1516.7 1368.64) rotate(-45)" font-size="20" text-anchor="end">IFI27</text>
<line x1="1538.5" y1="1354.25" x2="1538.5" y2="1358.25" stroke="#333" stroke-width="1.2"/>
<text transform="translate(1552.98 1367.11) rotate(-45)" font-size="20" text-anchor="end">ISG15</text>
<line x1="1573" y1="1354.25" x2="1573" y2="1358.25" stroke="#333" stroke-width="1.2"/>
<text transform="translate(1587.48 1367.11) rotate(-45)" font-size="20" text-anchor="end">ISG20</text>
<line x1="1607.5" y1="1354.25" x2="1607.5" y2="1358.25" stroke="#333" stroke-width="1.2"/>
<text transform="translate(1619.84 1369.25) rotate(-45)" font-size="20" text-anchor="end">MX2</text>
<text x="1371.75" y="1433" font-size="20" text-anchor="middle">Gene</text>
<text transform="translate(1046.25 1210.6) rotate(-90)" font-size="20" text-anchor="middle">Percentage of total normalized</text>
<text transform="translate(1063.75 1219.4) rotate(-90)" font-size="20" text-anchor="middle">expression at 4dpi</text>
<text x="1690.5" y="1140.5" font-size="20">Type</text>
<rect x="1690" y="1156.75" width="28" height="27.5" fill="#1E5689"/>
<rect x="1690" y="1206.25" width="28" height="27.5" fill="#A0221C"/>
<rect x="1690" y="1256.75" width="28" height="27.5" fill="#F26A47"/>
<rect x="1690" y="1297" width="28" height="27.5" fill="#FDC84F"/>
<text x="1731.25" y="1165.5" font-size="20">CD163+MRC1+</text>
<text x="1731.25" y="1189.5" font-size="20">Mac</text>
<text x="1731.25" y="1214.5" font-size="20">CD163+MRC1+</text>
<text x="1731.25" y="1238.75" font-size="20">TREM2+ Mac</text>
<text x="1731.25" y="1264.5" font-size="20">CD163+MRC1−</text>
<text x="1731.25" y="1288.25" font-size="20">Mac</text>
<text x="1731.25" y="1317.5" font-size="20">CD16+ Mono</text>
<text x="-1" y="1477.5" font-size="40">k</text>
<text x="372.5" y="1478.75" font-size="23.5" text-anchor="middle">Cohort 1</text>
<line x1="123.25" y1="1637.88" x2="236.25" y2="1637.88" stroke="#F4F4F4" stroke-width="0.8"/>
<line x1="123.25" y1="1589.62" x2="236.25" y2="1589.62" stroke="#F4F4F4" stroke-width="0.8"/>
<line x1="123.25" y1="1541.38" x2="236.25" y2="1541.38" stroke="#F4F4F4" stroke-width="0.8"/>
<line x1="123.25" y1="1662" x2="236.25" y2="1662" stroke="#EBEBEB" stroke-width="1.1"/>
<line x1="123.25" y1="1613.75" x2="236.25" y2="1613.75" stroke="#EBEBEB" stroke-width="1.1"/>
<line x1="123.25" y1="1565.5" x2="236.25" y2="1565.5" stroke="#EBEBEB" stroke-width="1.1"/>
<line x1="139.25" y1="1526.75" x2="139.25" y2="1672" stroke="#EBEBEB" stroke-width="1.1"/>
<line x1="166.25" y1="1526.75" x2="166.25" y2="1672" stroke="#EBEBEB" stroke-width="1.1"/>
<line x1="193.25" y1="1526.75" x2="193.25" y2="1672" stroke="#EBEBEB" stroke-width="1.1"/>
<line x1="220.25" y1="1526.75" x2="220.25" y2="1672" stroke="#EBEBEB" stroke-width="1.1"/>
<rect x="123.25" y="1494.25" width="113" height="32.5" fill="#fff" stroke="#7F7F7F" stroke-width="1.2"/>
<text x="182.25" y="1517.5" font-size="20" text-anchor="middle">IL10</text>
<circle cx="139.25" cy="1623.4" r="7.5" fill="#1E5689" stroke="#111" stroke-width="1"/>
<circle cx="139.25" cy="1628.22" r="7.5" fill="#1E5689" stroke="#111" stroke-width="1"/>
<circle cx="139.25" cy="1655.24" r="7.5" fill="#1E5689" stroke="#111" stroke-width="1"/>
<circle cx="166.25" cy="1577.08" r="7.5" fill="#A0221C" stroke="#111" stroke-width="1"/>
<circle cx="166.25" cy="1602.17" r="7.5" fill="#A0221C" stroke="#111" stroke-width="1"/>
<circle cx="166.25" cy="1615.68" r="7.5" fill="#A0221C" stroke="#111" stroke-width="1"/>
<circle cx="193.25" cy="1648.49" r="7.5" fill="#F26A47" stroke="#111" stroke-width="1"/>
<circle cx="193.25" cy="1656.21" r="7.5" fill="#F26A47" stroke="#111" stroke-width="1"/>
<circle cx="193.25" cy="1660.07" r="7.5" fill="#F26A47" stroke="#111" stroke-width="1"/>
<circle cx="220.25" cy="1662" r="7.5" fill="#FDC84F" stroke="#111" stroke-width="1"/>
<line x1="128.75" y1="1627.74" x2="149.75" y2="1627.74" stroke="#1a1a1a" stroke-width="1.3"/>
<line x1="155.75" y1="1602.17" x2="176.75" y2="1602.17" stroke="#1a1a1a" stroke-width="1.3"/>
<line x1="182.75" y1="1656.21" x2="203.75" y2="1656.21" stroke="#1a1a1a" stroke-width="1.3"/>
<line x1="209.75" y1="1662" x2="230.75" y2="1662" stroke="#1a1a1a" stroke-width="1.3"/>
<rect x="123.25" y="1526.75" width="113" height="145.25" fill="none" stroke="#7F7F7F" stroke-width="1.2"/>
<line x1="117.25" y1="1565.5" x2="122.05" y2="1565.5" stroke="#333" stroke-width="1.3"/>
<text x="114.45" y="1572.5" font-size="20" text-anchor="end">100</text>
<line x1="117.25" y1="1613.75" x2="122.05" y2="1613.75" stroke="#333" stroke-width="1.3"/>
<text x="114.45" y="1620.75" font-size="20" text-anchor="end">50</text>
<line x1="117.25" y1="1662" x2="122.05" y2="1662" stroke="#333" stroke-width="1.3"/>
<text x="114.45" y="1669" font-size="20" text-anchor="end">0</text>
<line x1="249.5" y1="1637.88" x2="362.5" y2="1637.88" stroke="#F4F4F4" stroke-width="0.8"/>
<line x1="249.5" y1="1589.62" x2="362.5" y2="1589.62" stroke="#F4F4F4" stroke-width="0.8"/>
<line x1="249.5" y1="1541.38" x2="362.5" y2="1541.38" stroke="#F4F4F4" stroke-width="0.8"/>
<line x1="249.5" y1="1662" x2="362.5" y2="1662" stroke="#EBEBEB" stroke-width="1.1"/>
<line x1="249.5" y1="1613.75" x2="362.5" y2="1613.75" stroke="#EBEBEB" stroke-width="1.1"/>
<line x1="249.5" y1="1565.5" x2="362.5" y2="1565.5" stroke="#EBEBEB" stroke-width="1.1"/>
<line x1="265.5" y1="1526.75" x2="265.5" y2="1672" stroke="#EBEBEB" stroke-width="1.1"/>
<line x1="292.5" y1="1526.75" x2="292.5" y2="1672" stroke="#EBEBEB" stroke-width="1.1"/>
<line x1="319.5" y1="1526.75" x2="319.5" y2="1672" stroke="#EBEBEB" stroke-width="1.1"/>
<line x1="346.5" y1="1526.75" x2="346.5" y2="1672" stroke="#EBEBEB" stroke-width="1.1"/>
<rect x="249.5" y="1494.25" width="113" height="32.5" fill="#fff" stroke="#7F7F7F" stroke-width="1.2"/>
<text x="308.5" y="1517.5" font-size="20" text-anchor="middle">IL1B</text>
<circle cx="265.5" cy="1583.84" r="7.5" fill="#1E5689" stroke="#111" stroke-width="1"/>
<circle cx="265.5" cy="1614.71" r="7.5" fill="#1E5689" stroke="#111" stroke-width="1"/>
<circle cx="265.5" cy="1638.84" r="7.5" fill="#1E5689" stroke="#111" stroke-width="1"/>
<circle cx="292.5" cy="1608.92" r="7.5" fill="#A0221C" stroke="#111" stroke-width="1"/>
<circle cx="292.5" cy="1646.08" r="7.5" fill="#A0221C" stroke="#111" stroke-width="1"/>
<circle cx="292.5" cy="1649.45" r="7.5" fill="#A0221C" stroke="#111" stroke-width="1"/>
<circle cx="319.5" cy="1628.22" r="7.5" fill="#F26A47" stroke="#111" stroke-width="1"/>
<circle cx="319.5" cy="1643.66" r="7.5" fill="#F26A47" stroke="#111" stroke-width="1"/>
<circle cx="319.5" cy="1658.14" r="7.5" fill="#F26A47" stroke="#111" stroke-width="1"/>
<circle cx="346.5" cy="1662" r="7.5" fill="#FDC84F" stroke="#111" stroke-width="1"/>
<line x1="255" y1="1614.71" x2="276" y2="1614.71" stroke="#1a1a1a" stroke-width="1.3"/>
<line x1="282" y1="1647.53" x2="303" y2="1647.53" stroke="#1a1a1a" stroke-width="1.3"/>
<line x1="309" y1="1643.66" x2="330" y2="1643.66" stroke="#1a1a1a" stroke-width="1.3"/>
<line x1="336" y1="1662" x2="357" y2="1662" stroke="#1a1a1a" stroke-width="1.3"/>
<rect x="249.5" y="1526.75" width="113" height="145.25" fill="none" stroke="#7F7F7F" stroke-width="1.2"/>
<line x1="372.5" y1="1637.88" x2="485.5" y2="1637.88" stroke="#F4F4F4" stroke-width="0.8"/>
<line x1="372.5" y1="1589.62" x2="485.5" y2="1589.62" stroke="#F4F4F4" stroke-width="0.8"/>
<line x1="372.5" y1="1541.38" x2="485.5" y2="1541.38" stroke="#F4F4F4" stroke-width="0.8"/>
<line x1="372.5" y1="1662" x2="485.5" y2="1662" stroke="#EBEBEB" stroke-width="1.1"/>
<line x1="372.5" y1="1613.75" x2="485.5" y2="1613.75" stroke="#EBEBEB" stroke-width="1.1"/>
<line x1="372.5" y1="1565.5" x2="485.5" y2="1565.5" stroke="#EBEBEB" stroke-width="1.1"/>
<line x1="388.5" y1="1526.75" x2="388.5" y2="1672" stroke="#EBEBEB" stroke-width="1.1"/>
<line x1="415.5" y1="1526.75" x2="415.5" y2="1672" stroke="#EBEBEB" stroke-width="1.1"/>
<line x1="442.5" y1="1526.75" x2="442.5" y2="1672" stroke="#EBEBEB" stroke-width="1.1"/>
<line x1="469.5" y1="1526.75" x2="469.5" y2="1672" stroke="#EBEBEB" stroke-width="1.1"/>
<rect x="372.5" y="1494.25" width="113" height="32.5" fill="#fff" stroke="#7F7F7F" stroke-width="1.2"/>
<text x="431.5" y="1517.5" font-size="20" text-anchor="middle">IL6</text>
<circle cx="388.5" cy="1587.69" r="7.5" fill="#1E5689" stroke="#111" stroke-width="1"/>
<circle cx="388.5" cy="1598.31" r="7.5" fill="#1E5689" stroke="#111" stroke-width="1"/>
<circle cx="388.5" cy="1638.84" r="7.5" fill="#1E5689" stroke="#111" stroke-width="1"/>
<circle cx="415.5" cy="1608.92" r="7.5" fill="#A0221C" stroke="#111" stroke-width="1"/>
<circle cx="415.5" cy="1640.77" r="7.5" fill="#A0221C" stroke="#111" stroke-width="1"/>
<circle cx="415.5" cy="1655.24" r="7.5" fill="#A0221C" stroke="#111" stroke-width="1"/>
<circle cx="442.5" cy="1634.98" r="7.5" fill="#F26A47" stroke="#111" stroke-width="1"/>
<circle cx="442.5" cy="1642.7" r="7.5" fill="#F26A47" stroke="#111" stroke-width="1"/>
<circle cx="442.5" cy="1662" r="7.5" fill="#F26A47" stroke="#111" stroke-width="1"/>
<circle cx="469.5" cy="1662" r="7.5" fill="#FDC84F" stroke="#111" stroke-width="1"/>
<line x1="378" y1="1599.28" x2="399" y2="1599.28" stroke="#1a1a1a" stroke-width="1.3"/>
<line x1="405" y1="1640.77" x2="426" y2="1640.77" stroke="#1a1a1a" stroke-width="1.3"/>
<line x1="432" y1="1642.7" x2="453" y2="1642.7" stroke="#1a1a1a" stroke-width="1.3"/>
<line x1="459" y1="1662" x2="480" y2="1662" stroke="#1a1a1a" stroke-width="1.3"/>
<rect x="372.5" y="1526.75" width="113" height="145.25" fill="none" stroke="#7F7F7F" stroke-width="1.2"/>
<line x1="495.5" y1="1637.88" x2="608.5" y2="1637.88" stroke="#F4F4F4" stroke-width="0.8"/>
<line x1="495.5" y1="1589.62" x2="608.5" y2="1589.62" stroke="#F4F4F4" stroke-width="0.8"/>
<line x1="495.5" y1="1541.38" x2="608.5" y2="1541.38" stroke="#F4F4F4" stroke-width="0.8"/>
<line x1="495.5" y1="1662" x2="608.5" y2="1662" stroke="#EBEBEB" stroke-width="1.1"/>
<line x1="495.5" y1="1613.75" x2="608.5" y2="1613.75" stroke="#EBEBEB" stroke-width="1.1"/>
<line x1="495.5" y1="1565.5" x2="608.5" y2="1565.5" stroke="#EBEBEB" stroke-width="1.1"/>
<line x1="511.5" y1="1526.75" x2="511.5" y2="1672" stroke="#EBEBEB" stroke-width="1.1"/>
<line x1="538.5" y1="1526.75" x2="538.5" y2="1672" stroke="#EBEBEB" stroke-width="1.1"/>
<line x1="565.5" y1="1526.75" x2="565.5" y2="1672" stroke="#EBEBEB" stroke-width="1.1"/>
<line x1="592.5" y1="1526.75" x2="592.5" y2="1672" stroke="#EBEBEB" stroke-width="1.1"/>
<rect x="495.5" y="1494.25" width="113" height="32.5" fill="#fff" stroke="#7F7F7F" stroke-width="1.2"/>
<text x="554.5" y="1517.5" font-size="20" text-anchor="middle">TNF</text>
<circle cx="511.5" cy="1603.13" r="7.5" fill="#1E5689" stroke="#111" stroke-width="1"/>
<circle cx="511.5" cy="1608.92" r="7.5" fill="#1E5689" stroke="#111" stroke-width="1"/>
<circle cx="511.5" cy="1644.63" r="7.5" fill="#1E5689" stroke="#111" stroke-width="1"/>
<circle cx="538.5" cy="1604.58" r="7.5" fill="#A0221C" stroke="#111" stroke-width="1"/>
<circle cx="538.5" cy="1627.26" r="7.5" fill="#A0221C" stroke="#111" stroke-width="1"/>
<circle cx="538.5" cy="1634.98" r="7.5" fill="#A0221C" stroke="#111" stroke-width="1"/>
<circle cx="565.5" cy="1639.81" r="7.5" fill="#F26A47" stroke="#111" stroke-width="1"/>
<circle cx="565.5" cy="1654.96" r="7.5" fill="#F26A47" stroke="#111" stroke-width="1"/>
<circle cx="565.5" cy="1657.17" r="7.5" fill="#F26A47" stroke="#111" stroke-width="1"/>
<circle cx="592.5" cy="1661.52" r="7.5" fill="#FDC84F" stroke="#111" stroke-width="1"/>
<circle cx="592.5" cy="1662" r="7.5" fill="#FDC84F" stroke="#111" stroke-width="1"/>
<line x1="501" y1="1605.55" x2="522" y2="1605.55" stroke="#1a1a1a" stroke-width="1.3"/>
<line x1="528" y1="1629.19" x2="549" y2="1629.19" stroke="#1a1a1a" stroke-width="1.3"/>
<line x1="555" y1="1655.53" x2="576" y2="1655.53" stroke="#1a1a1a" stroke-width="1.3"/>
<line x1="582" y1="1662" x2="603" y2="1662" stroke="#1a1a1a" stroke-width="1.3"/>
<rect x="495.5" y="1526.75" width="113" height="145.25" fill="none" stroke="#7F7F7F" stroke-width="1.2"/>
<line x1="125.75" y1="1825.06" x2="238.75" y2="1825.06" stroke="#F4F4F4" stroke-width="0.8"/>
<line x1="125.75" y1="1776.69" x2="238.75" y2="1776.69" stroke="#F4F4F4" stroke-width="0.8"/>
<line x1="125.75" y1="1728.31" x2="238.75" y2="1728.31" stroke="#F4F4F4" stroke-width="0.8"/>
<line x1="125.75" y1="1849.25" x2="238.75" y2="1849.25" stroke="#EBEBEB" stroke-width="1.1"/>
<line x1="125.75" y1="1800.88" x2="238.75" y2="1800.88" stroke="#EBEBEB" stroke-width="1.1"/>
<line x1="125.75" y1="1752.5" x2="238.75" y2="1752.5" stroke="#EBEBEB" stroke-width="1.1"/>
<line x1="141.75" y1="1713.75" x2="141.75" y2="1858" stroke="#EBEBEB" stroke-width="1.1"/>
<line x1="168.75" y1="1713.75" x2="168.75" y2="1858" stroke="#EBEBEB" stroke-width="1.1"/>
<line x1="195.75" y1="1713.75" x2="195.75" y2="1858" stroke="#EBEBEB" stroke-width="1.1"/>
<line x1="222.75" y1="1713.75" x2="222.75" y2="1858" stroke="#EBEBEB" stroke-width="1.1"/>
<rect x="125.75" y="1681.25" width="113" height="32.5" fill="#fff" stroke="#7F7F7F" stroke-width="1.2"/>
<text x="184.75" y="1704.5" font-size="20" text-anchor="middle">CCL4L1</text>
<circle cx="141.75" cy="1803.78" r="7.5" fill="#1E5689" stroke="#111" stroke-width="1"/>
<circle cx="141.75" cy="1835.7" r="7.5" fill="#1E5689" stroke="#111" stroke-width="1"/>
<circle cx="141.75" cy="1838.61" r="7.5" fill="#1E5689" stroke="#111" stroke-width="1"/>
<circle cx="168.75" cy="1784.43" r="7.5" fill="#A0221C" stroke="#111" stroke-width="1"/>
<circle cx="168.75" cy="1807.65" r="7.5" fill="#A0221C" stroke="#111" stroke-width="1"/>
<circle cx="168.75" cy="1816.36" r="7.5" fill="#A0221C" stroke="#111" stroke-width="1"/>
<circle cx="195.75" cy="1798.94" r="7.5" fill="#F26A47" stroke="#111" stroke-width="1"/>
<circle cx="195.75" cy="1827.96" r="7.5" fill="#F26A47" stroke="#111" stroke-width="1"/>
<circle cx="195.75" cy="1839.58" r="7.5" fill="#F26A47" stroke="#111" stroke-width="1"/>
<circle cx="222.75" cy="1849.25" r="7.5" fill="#FDC84F" stroke="#111" stroke-width="1"/>
<line x1="131.25" y1="1836.67" x2="152.25" y2="1836.67" stroke="#1a1a1a" stroke-width="1.3"/>
<line x1="158.25" y1="1808.62" x2="179.25" y2="1808.62" stroke="#1a1a1a" stroke-width="1.3"/>
<line x1="185.25" y1="1828.93" x2="206.25" y2="1828.93" stroke="#1a1a1a" stroke-width="1.3"/>
<line x1="212.25" y1="1849.25" x2="233.25" y2="1849.25" stroke="#1a1a1a" stroke-width="1.3"/>
<rect x="125.75" y="1713.75" width="113" height="144.25" fill="none" stroke="#7F7F7F" stroke-width="1.2"/>
<line x1="119.75" y1="1752.5" x2="124.55" y2="1752.5" stroke="#333" stroke-width="1.3"/>
<text x="116.95" y="1759.5" font-size="20" text-anchor="end">100</text>
<line x1="119.75" y1="1800.88" x2="124.55" y2="1800.88" stroke="#333" stroke-width="1.3"/>
<text x="116.95" y="1807.88" font-size="20" text-anchor="end">50</text>
<line x1="119.75" y1="1849.25" x2="124.55" y2="1849.25" stroke="#333" stroke-width="1.3"/>
<text x="116.95" y="1856.25" font-size="20" text-anchor="end">0</text>
<line x1="248.25" y1="1825.06" x2="361.25" y2="1825.06" stroke="#F4F4F4" stroke-width="0.8"/>
<line x1="248.25" y1="1776.69" x2="361.25" y2="1776.69" stroke="#F4F4F4" stroke-width="0.8"/>
<line x1="248.25" y1="1728.31" x2="361.25" y2="1728.31" stroke="#F4F4F4" stroke-width="0.8"/>
<line x1="248.25" y1="1849.25" x2="361.25" y2="1849.25" stroke="#EBEBEB" stroke-width="1.1"/>
<line x1="248.25" y1="1800.88" x2="361.25" y2="1800.88" stroke="#EBEBEB" stroke-width="1.1"/>
<line x1="248.25" y1="1752.5" x2="361.25" y2="1752.5" stroke="#EBEBEB" stroke-width="1.1"/>
<line x1="264.25" y1="1713.75" x2="264.25" y2="1858" stroke="#EBEBEB" stroke-width="1.1"/>
<line x1="291.25" y1="1713.75" x2="291.25" y2="1858" stroke="#EBEBEB" stroke-width="1.1"/>
<line x1="318.25" y1="1713.75" x2="318.25" y2="1858" stroke="#EBEBEB" stroke-width="1.1"/>
<line x1="345.25" y1="1713.75" x2="345.25" y2="1858" stroke="#EBEBEB" stroke-width="1.1"/>
<rect x="248.25" y="1681.25" width="113" height="32.5" fill="#fff" stroke="#7F7F7F" stroke-width="1.2"/>
<text x="307.25" y="1704.5" font-size="20" text-anchor="middle">CXCL10</text>
<circle cx="264.25" cy="1789.27" r="7.5" fill="#1E5689" stroke="#111" stroke-width="1"/>
<circle cx="264.25" cy="1794.1" r="7.5" fill="#1E5689" stroke="#111" stroke-width="1"/>
<circle cx="264.25" cy="1829.9" r="7.5" fill="#1E5689" stroke="#111" stroke-width="1"/>
<circle cx="291.25" cy="1800.88" r="7.5" fill="#A0221C" stroke="#111" stroke-width="1"/>
<circle cx="291.25" cy="1829.9" r="7.5" fill="#A0221C" stroke="#111" stroke-width="1"/>
<circle cx="291.25" cy="1835.7" r="7.5" fill="#A0221C" stroke="#111" stroke-width="1"/>
<circle cx="318.25" cy="1823.13" r="7.5" fill="#F26A47" stroke="#111" stroke-width="1"/>
<circle cx="318.25" cy="1827.96" r="7.5" fill="#F26A47" stroke="#111" stroke-width="1"/>
<circle cx="318.25" cy="1829.9" r="7.5" fill="#F26A47" stroke="#111" stroke-width="1"/>
<circle cx="345.25" cy="1844.41" r="7.5" fill="#FDC84F" stroke="#111" stroke-width="1"/>
<circle cx="345.25" cy="1848.28" r="7.5" fill="#FDC84F" stroke="#111" stroke-width="1"/>
<line x1="253.75" y1="1794.1" x2="274.75" y2="1794.1" stroke="#1a1a1a" stroke-width="1.3"/>
<line x1="280.75" y1="1830.87" x2="301.75" y2="1830.87" stroke="#1a1a1a" stroke-width="1.3"/>
<line x1="307.75" y1="1827" x2="328.75" y2="1827" stroke="#1a1a1a" stroke-width="1.3"/>
<line x1="334.75" y1="1848.28" x2="355.75" y2="1848.28" stroke="#1a1a1a" stroke-width="1.3"/>
<rect x="248.25" y="1713.75" width="113" height="144.25" fill="none" stroke="#7F7F7F" stroke-width="1.2"/>
<line x1="371.5" y1="1825.06" x2="484.5" y2="1825.06" stroke="#F4F4F4" stroke-width="0.8"/>
<line x1="371.5" y1="1776.69" x2="484.5" y2="1776.69" stroke="#F4F4F4" stroke-width="0.8"/>
<line x1="371.5" y1="1728.31" x2="484.5" y2="1728.31" stroke="#F4F4F4" stroke-width="0.8"/>
<line x1="371.5" y1="1849.25" x2="484.5" y2="1849.25" stroke="#EBEBEB" stroke-width="1.1"/>
<line x1="371.5" y1="1800.88" x2="484.5" y2="1800.88" stroke="#EBEBEB" stroke-width="1.1"/>
<line x1="371.5" y1="1752.5" x2="484.5" y2="1752.5" stroke="#EBEBEB" stroke-width="1.1"/>
<line x1="387.5" y1="1713.75" x2="387.5" y2="1858" stroke="#EBEBEB" stroke-width="1.1"/>
<line x1="414.5" y1="1713.75" x2="414.5" y2="1858" stroke="#EBEBEB" stroke-width="1.1"/>
<line x1="441.5" y1="1713.75" x2="441.5" y2="1858" stroke="#EBEBEB" stroke-width="1.1"/>
<line x1="468.5" y1="1713.75" x2="468.5" y2="1858" stroke="#EBEBEB" stroke-width="1.1"/>
<rect x="371.5" y="1681.25" width="113" height="32.5" fill="#fff" stroke="#7F7F7F" stroke-width="1.2"/>
<text x="430.5" y="1704.5" font-size="20" text-anchor="middle">CXCL3</text>
<circle cx="387.5" cy="1768.95" r="7.5" fill="#1E5689" stroke="#111" stroke-width="1"/>
<circle cx="387.5" cy="1777.65" r="7.5" fill="#1E5689" stroke="#111" stroke-width="1"/>
<circle cx="387.5" cy="1825.06" r="7.5" fill="#1E5689" stroke="#111" stroke-width="1"/>
<circle cx="414.5" cy="1792.17" r="7.5" fill="#A0221C" stroke="#111" stroke-width="1"/>
<circle cx="414.5" cy="1835.7" r="7.5" fill="#A0221C" stroke="#111" stroke-width="1"/>
<circle cx="414.5" cy="1839.58" r="7.5" fill="#A0221C" stroke="#111" stroke-width="1"/>
<circle cx="441.5" cy="1834.25" r="7.5" fill="#F26A47" stroke="#111" stroke-width="1"/>
<circle cx="441.5" cy="1835.7" r="7.5" fill="#F26A47" stroke="#111" stroke-width="1"/>
<circle cx="441.5" cy="1847.32" r="7.5" fill="#F26A47" stroke="#111" stroke-width="1"/>
<circle cx="468.5" cy="1849.25" r="7.5" fill="#FDC84F" stroke="#111" stroke-width="1"/>
<line x1="377" y1="1777.65" x2="398" y2="1777.65" stroke="#1a1a1a" stroke-width="1.3"/>
<line x1="404" y1="1835.7" x2="425" y2="1835.7" stroke="#1a1a1a" stroke-width="1.3"/>
<line x1="431" y1="1834.74" x2="452" y2="1834.74" stroke="#1a1a1a" stroke-width="1.3"/>
<line x1="458" y1="1849.25" x2="479" y2="1849.25" stroke="#1a1a1a" stroke-width="1.3"/>
<rect x="371.5" y="1713.75" width="113" height="144.25" fill="none" stroke="#7F7F7F" stroke-width="1.2"/>
<line x1="494.5" y1="1825.06" x2="607.5" y2="1825.06" stroke="#F4F4F4" stroke-width="0.8"/>
<line x1="494.5" y1="1776.69" x2="607.5" y2="1776.69" stroke="#F4F4F4" stroke-width="0.8"/>
<line x1="494.5" y1="1728.31" x2="607.5" y2="1728.31" stroke="#F4F4F4" stroke-width="0.8"/>
<line x1="494.5" y1="1849.25" x2="607.5" y2="1849.25" stroke="#EBEBEB" stroke-width="1.1"/>
<line x1="494.5" y1="1800.88" x2="607.5" y2="1800.88" stroke="#EBEBEB" stroke-width="1.1"/>
<line x1="494.5" y1="1752.5" x2="607.5" y2="1752.5" stroke="#EBEBEB" stroke-width="1.1"/>
<line x1="510.5" y1="1713.75" x2="510.5" y2="1858" stroke="#EBEBEB" stroke-width="1.1"/>
<line x1="537.5" y1="1713.75" x2="537.5" y2="1858" stroke="#EBEBEB" stroke-width="1.1"/>
<line x1="564.5" y1="1713.75" x2="564.5" y2="1858" stroke="#EBEBEB" stroke-width="1.1"/>
<line x1="591.5" y1="1713.75" x2="591.5" y2="1858" stroke="#EBEBEB" stroke-width="1.1"/>
<rect x="494.5" y="1681.25" width="113" height="32.5" fill="#fff" stroke="#7F7F7F" stroke-width="1.2"/>
<text x="553.5" y="1704.5" font-size="20" text-anchor="middle">CXCL8</text>
<circle cx="510.5" cy="1770.88" r="7.5" fill="#1E5689" stroke="#111" stroke-width="1"/>
<circle cx="510.5" cy="1787.33" r="7.5" fill="#1E5689" stroke="#111" stroke-width="1"/>
<circle cx="510.5" cy="1831.84" r="7.5" fill="#1E5689" stroke="#111" stroke-width="1"/>
<circle cx="537.5" cy="1792.17" r="7.5" fill="#A0221C" stroke="#111" stroke-width="1"/>
<circle cx="537.5" cy="1830.87" r="7.5" fill="#A0221C" stroke="#111" stroke-width="1"/>
<circle cx="537.5" cy="1834.74" r="7.5" fill="#A0221C" stroke="#111" stroke-width="1"/>
<circle cx="564.5" cy="1827" r="7.5" fill="#F26A47" stroke="#111" stroke-width="1"/>
<circle cx="564.5" cy="1831.84" r="7.5" fill="#F26A47" stroke="#111" stroke-width="1"/>
<circle cx="564.5" cy="1849.25" r="7.5" fill="#F26A47" stroke="#111" stroke-width="1"/>
<circle cx="591.5" cy="1849.25" r="7.5" fill="#FDC84F" stroke="#111" stroke-width="1"/>
<line x1="500" y1="1787.33" x2="521" y2="1787.33" stroke="#1a1a1a" stroke-width="1.3"/>
<line x1="527" y1="1831.84" x2="548" y2="1831.84" stroke="#1a1a1a" stroke-width="1.3"/>
<line x1="554" y1="1831.84" x2="575" y2="1831.84" stroke="#1a1a1a" stroke-width="1.3"/>
<line x1="581" y1="1849.25" x2="602" y2="1849.25" stroke="#1a1a1a" stroke-width="1.3"/>
<rect x="494.5" y="1713.75" width="113" height="144.25" fill="none" stroke="#7F7F7F" stroke-width="1.2"/>
<line x1="125.75" y1="2011.62" x2="238.75" y2="2011.62" stroke="#F4F4F4" stroke-width="0.8"/>
<line x1="125.75" y1="1963.38" x2="238.75" y2="1963.38" stroke="#F4F4F4" stroke-width="0.8"/>
<line x1="125.75" y1="1915.12" x2="238.75" y2="1915.12" stroke="#F4F4F4" stroke-width="0.8"/>
<line x1="125.75" y1="2035.75" x2="238.75" y2="2035.75" stroke="#EBEBEB" stroke-width="1.1"/>
<line x1="125.75" y1="1987.5" x2="238.75" y2="1987.5" stroke="#EBEBEB" stroke-width="1.1"/>
<line x1="125.75" y1="1939.25" x2="238.75" y2="1939.25" stroke="#EBEBEB" stroke-width="1.1"/>
<line x1="141.75" y1="1900.5" x2="141.75" y2="2045" stroke="#EBEBEB" stroke-width="1.1"/>
<line x1="168.75" y1="1900.5" x2="168.75" y2="2045" stroke="#EBEBEB" stroke-width="1.1"/>
<line x1="195.75" y1="1900.5" x2="195.75" y2="2045" stroke="#EBEBEB" stroke-width="1.1"/>
<line x1="222.75" y1="1900.5" x2="222.75" y2="2045" stroke="#EBEBEB" stroke-width="1.1"/>
<rect x="125.75" y="1868" width="113" height="32.5" fill="#fff" stroke="#7F7F7F" stroke-width="1.2"/>
<text x="184.75" y="1891.25" font-size="20" text-anchor="middle">IFI27</text>
<circle cx="141.75" cy="1962.41" r="7.5" fill="#1E5689" stroke="#111" stroke-width="1"/>
<circle cx="141.75" cy="1982.67" r="7.5" fill="#1E5689" stroke="#111" stroke-width="1"/>
<circle cx="141.75" cy="2017.41" r="7.5" fill="#1E5689" stroke="#111" stroke-width="1"/>
<circle cx="168.75" cy="1975.92" r="7.5" fill="#A0221C" stroke="#111" stroke-width="1"/>
<circle cx="168.75" cy="2001.97" r="7.5" fill="#A0221C" stroke="#111" stroke-width="1"/>
<circle cx="168.75" cy="2016.45" r="7.5" fill="#A0221C" stroke="#111" stroke-width="1"/>
<circle cx="195.75" cy="2017.41" r="7.5" fill="#F26A47" stroke="#111" stroke-width="1"/>
<circle cx="195.75" cy="2025.13" r="7.5" fill="#F26A47" stroke="#111" stroke-width="1"/>
<circle cx="195.75" cy="2031.89" r="7.5" fill="#F26A47" stroke="#111" stroke-width="1"/>
<circle cx="222.75" cy="2034.79" r="7.5" fill="#FDC84F" stroke="#111" stroke-width="1"/>
<circle cx="222.75" cy="2035.75" r="7.5" fill="#FDC84F" stroke="#111" stroke-width="1"/>
<line x1="131.25" y1="1982.67" x2="152.25" y2="1982.67" stroke="#1a1a1a" stroke-width="1.3"/>
<line x1="158.25" y1="2001.97" x2="179.25" y2="2001.97" stroke="#1a1a1a" stroke-width="1.3"/>
<line x1="185.25" y1="2025.13" x2="206.25" y2="2025.13" stroke="#1a1a1a" stroke-width="1.3"/>
<line x1="212.25" y1="2035.75" x2="233.25" y2="2035.75" stroke="#1a1a1a" stroke-width="1.3"/>
<rect x="125.75" y="1900.5" width="113" height="144.5" fill="none" stroke="#7F7F7F" stroke-width="1.2"/>
<line x1="119.75" y1="1939.25" x2="124.55" y2="1939.25" stroke="#333" stroke-width="1.3"/>
<text x="116.95" y="1946.25" font-size="20" text-anchor="end">100</text>
<line x1="119.75" y1="1987.5" x2="124.55" y2="1987.5" stroke="#333" stroke-width="1.3"/>
<text x="116.95" y="1994.5" font-size="20" text-anchor="end">50</text>
<line x1="119.75" y1="2035.75" x2="124.55" y2="2035.75" stroke="#333" stroke-width="1.3"/>
<text x="116.95" y="2042.75" font-size="20" text-anchor="end">0</text>
<line x1="248.25" y1="2011.62" x2="361.25" y2="2011.62" stroke="#F4F4F4" stroke-width="0.8"/>
<line x1="248.25" y1="1963.38" x2="361.25" y2="1963.38" stroke="#F4F4F4" stroke-width="0.8"/>
<line x1="248.25" y1="1915.12" x2="361.25" y2="1915.12" stroke="#F4F4F4" stroke-width="0.8"/>
<line x1="248.25" y1="2035.75" x2="361.25" y2="2035.75" stroke="#EBEBEB" stroke-width="1.1"/>
<line x1="248.25" y1="1987.5" x2="361.25" y2="1987.5" stroke="#EBEBEB" stroke-width="1.1"/>
<line x1="248.25" y1="1939.25" x2="361.25" y2="1939.25" stroke="#EBEBEB" stroke-width="1.1"/>
<line x1="264.25" y1="1900.5" x2="264.25" y2="2045" stroke="#EBEBEB" stroke-width="1.1"/>
<line x1="291.25" y1="1900.5" x2="291.25" y2="2045" stroke="#EBEBEB" stroke-width="1.1"/>
<line x1="318.25" y1="1900.5" x2="318.25" y2="2045" stroke="#EBEBEB" stroke-width="1.1"/>
<line x1="345.25" y1="1900.5" x2="345.25" y2="2045" stroke="#EBEBEB" stroke-width="1.1"/>
<rect x="248.25" y="1868" width="113" height="32.5" fill="#fff" stroke="#7F7F7F" stroke-width="1.2"/>
<text x="307.25" y="1891.25" font-size="20" text-anchor="middle">ISG15</text>
<circle cx="264.25" cy="1954.69" r="7.5" fill="#1E5689" stroke="#111" stroke-width="1"/>
<circle cx="264.25" cy="1971.1" r="7.5" fill="#1E5689" stroke="#111" stroke-width="1"/>
<circle cx="264.25" cy="2014.52" r="7.5" fill="#1E5689" stroke="#111" stroke-width="1"/>
<circle cx="291.25" cy="1996.18" r="7.5" fill="#A0221C" stroke="#111" stroke-width="1"/>
<circle cx="291.25" cy="2015.48" r="7.5" fill="#A0221C" stroke="#111" stroke-width="1"/>
<circle cx="291.25" cy="2023.2" r="7.5" fill="#A0221C" stroke="#111" stroke-width="1"/>
<circle cx="318.25" cy="2001.01" r="7.5" fill="#F26A47" stroke="#111" stroke-width="1"/>
<circle cx="318.25" cy="2024.17" r="7.5" fill="#F26A47" stroke="#111" stroke-width="1"/>
<circle cx="318.25" cy="2032.86" r="7.5" fill="#F26A47" stroke="#111" stroke-width="1"/>
<circle cx="345.25" cy="2035.75" r="7.5" fill="#FDC84F" stroke="#111" stroke-width="1"/>
<line x1="253.75" y1="1971.1" x2="274.75" y2="1971.1" stroke="#1a1a1a" stroke-width="1.3"/>
<line x1="280.75" y1="2015.48" x2="301.75" y2="2015.48" stroke="#1a1a1a" stroke-width="1.3"/>
<line x1="307.75" y1="2024.17" x2="328.75" y2="2024.17" stroke="#1a1a1a" stroke-width="1.3"/>
<line x1="334.75" y1="2035.75" x2="355.75" y2="2035.75" stroke="#1a1a1a" stroke-width="1.3"/>
<rect x="248.25" y="1900.5" width="113" height="144.5" fill="none" stroke="#7F7F7F" stroke-width="1.2"/>
<line x1="371.5" y1="2011.62" x2="484.5" y2="2011.62" stroke="#F4F4F4" stroke-width="0.8"/>
<line x1="371.5" y1="1963.38" x2="484.5" y2="1963.38" stroke="#F4F4F4" stroke-width="0.8"/>
<line x1="371.5" y1="1915.12" x2="484.5" y2="1915.12" stroke="#F4F4F4" stroke-width="0.8"/>
<line x1="371.5" y1="2035.75" x2="484.5" y2="2035.75" stroke="#EBEBEB" stroke-width="1.1"/>
<line x1="371.5" y1="1987.5" x2="484.5" y2="1987.5" stroke="#EBEBEB" stroke-width="1.1"/>
<line x1="371.5" y1="1939.25" x2="484.5" y2="1939.25" stroke="#EBEBEB" stroke-width="1.1"/>
<line x1="387.5" y1="1900.5" x2="387.5" y2="2045" stroke="#EBEBEB" stroke-width="1.1"/>
<line x1="414.5" y1="1900.5" x2="414.5" y2="2045" stroke="#EBEBEB" stroke-width="1.1"/>
<line x1="441.5" y1="1900.5" x2="441.5" y2="2045" stroke="#EBEBEB" stroke-width="1.1"/>
<line x1="468.5" y1="1900.5" x2="468.5" y2="2045" stroke="#EBEBEB" stroke-width="1.1"/>
<rect x="371.5" y="1868" width="113" height="32.5" fill="#fff" stroke="#7F7F7F" stroke-width="1.2"/>
<text x="430.5" y="1891.25" font-size="20" text-anchor="middle">ISG20</text>
<circle cx="387.5" cy="1957.59" r="7.5" fill="#1E5689" stroke="#111" stroke-width="1"/>
<circle cx="387.5" cy="1978.82" r="7.5" fill="#1E5689" stroke="#111" stroke-width="1"/>
<circle cx="387.5" cy="2019.35" r="7.5" fill="#1E5689" stroke="#111" stroke-width="1"/>
<circle cx="414.5" cy="1999.08" r="7.5" fill="#A0221C" stroke="#111" stroke-width="1"/>
<circle cx="414.5" cy="2018.38" r="7.5" fill="#A0221C" stroke="#111" stroke-width="1"/>
<circle cx="414.5" cy="2022.24" r="7.5" fill="#A0221C" stroke="#111" stroke-width="1"/>
<circle cx="441.5" cy="1993.29" r="7.5" fill="#F26A47" stroke="#111" stroke-width="1"/>
<circle cx="441.5" cy="2013.56" r="7.5" fill="#F26A47" stroke="#111" stroke-width="1"/>
<circle cx="441.5" cy="2030.92" r="7.5" fill="#F26A47" stroke="#111" stroke-width="1"/>
<circle cx="468.5" cy="2035.75" r="7.5" fill="#FDC84F" stroke="#111" stroke-width="1"/>
<line x1="377" y1="1978.82" x2="398" y2="1978.82" stroke="#1a1a1a" stroke-width="1.3"/>
<line x1="404" y1="2018.38" x2="425" y2="2018.38" stroke="#1a1a1a" stroke-width="1.3"/>
<line x1="431" y1="2013.56" x2="452" y2="2013.56" stroke="#1a1a1a" stroke-width="1.3"/>
<line x1="458" y1="2035.75" x2="479" y2="2035.75" stroke="#1a1a1a" stroke-width="1.3"/>
<rect x="371.5" y="1900.5" width="113" height="144.5" fill="none" stroke="#7F7F7F" stroke-width="1.2"/>
<line x1="494.5" y1="2011.62" x2="607.5" y2="2011.62" stroke="#F4F4F4" stroke-width="0.8"/>
<line x1="494.5" y1="1963.38" x2="607.5" y2="1963.38" stroke="#F4F4F4" stroke-width="0.8"/>
<line x1="494.5" y1="1915.12" x2="607.5" y2="1915.12" stroke="#F4F4F4" stroke-width="0.8"/>
<line x1="494.5" y1="2035.75" x2="607.5" y2="2035.75" stroke="#EBEBEB" stroke-width="1.1"/>
<line x1="494.5" y1="1987.5" x2="607.5" y2="1987.5" stroke="#EBEBEB" stroke-width="1.1"/>
<line x1="494.5" y1="1939.25" x2="607.5" y2="1939.25" stroke="#EBEBEB" stroke-width="1.1"/>
<line x1="510.5" y1="1900.5" x2="510.5" y2="2045" stroke="#EBEBEB" stroke-width="1.1"/>
<line x1="537.5" y1="1900.5" x2="537.5" y2="2045" stroke="#EBEBEB" stroke-width="1.1"/>
<line x1="564.5" y1="1900.5" x2="564.5" y2="2045" stroke="#EBEBEB" stroke-width="1.1"/>
<line x1="591.5" y1="1900.5" x2="591.5" y2="2045" stroke="#EBEBEB" stroke-width="1.1"/>
<rect x="494.5" y="1868" width="113" height="32.5" fill="#fff" stroke="#7F7F7F" stroke-width="1.2"/>
<text x="553.5" y="1891.25" font-size="20" text-anchor="middle">MX2</text>
<circle cx="510.5" cy="1965.31" r="7.5" fill="#1E5689" stroke="#111" stroke-width="1"/>
<circle cx="510.5" cy="1974.95" r="7.5" fill="#1E5689" stroke="#111" stroke-width="1"/>
<circle cx="510.5" cy="2015" r="7.5" fill="#1E5689" stroke="#111" stroke-width="1"/>
<circle cx="537.5" cy="1983.64" r="7.5" fill="#A0221C" stroke="#111" stroke-width="1"/>
<circle cx="537.5" cy="2008.73" r="7.5" fill="#A0221C" stroke="#111" stroke-width="1"/>
<circle cx="537.5" cy="2013.56" r="7.5" fill="#A0221C" stroke="#111" stroke-width="1"/>
<circle cx="564.5" cy="2012.01" r="7.5" fill="#F26A47" stroke="#111" stroke-width="1"/>
<circle cx="564.5" cy="2026.78" r="7.5" fill="#F26A47" stroke="#111" stroke-width="1"/>
<circle cx="564.5" cy="2031.21" r="7.5" fill="#F26A47" stroke="#111" stroke-width="1"/>
<circle cx="591.5" cy="2035.75" r="7.5" fill="#FDC84F" stroke="#111" stroke-width="1"/>
<line x1="500" y1="1973.99" x2="521" y2="1973.99" stroke="#1a1a1a" stroke-width="1.3"/>
<line x1="527" y1="2009.69" x2="548" y2="2009.69" stroke="#1a1a1a" stroke-width="1.3"/>
<line x1="554" y1="2027.55" x2="575" y2="2027.55" stroke="#1a1a1a" stroke-width="1.3"/>
<line x1="581" y1="2035.75" x2="602" y2="2035.75" stroke="#1a1a1a" stroke-width="1.3"/>
<rect x="494.5" y="1900.5" width="113" height="144.5" fill="none" stroke="#7F7F7F" stroke-width="1.2"/>
<text x="370" y="2078.75" font-size="20" text-anchor="middle">Type</text>
<text transform="translate(53.75 1828) rotate(-90)" font-size="19.5" text-anchor="middle">Percentage of total normalized</text>
<text transform="translate(74.25 1829.4) rotate(-90)" font-size="19.5" text-anchor="middle">expression at 4dpi</text>
<text x="642.5" y="1748.75" font-size="20">Type</text>
<rect x="643.25" y="1764.5" width="27.5" height="27.5" fill="#1E5689"/>
<rect x="643.25" y="1814.5" width="27.5" height="27.5" fill="#A0221C"/>
<rect x="643.25" y="1865.75" width="27.5" height="27.5" fill="#F26A47"/>
<rect x="643.25" y="1907" width="27.5" height="27.25" fill="#FDC84F"/>
<text x="684.5" y="1772.5" font-size="20">CD163+MRC1+</text>
<text x="684.5" y="1797" font-size="20">Mac</text>
<text x="684.5" y="1822.5" font-size="20">CD163+MRC1+</text>
<text x="684.5" y="1846.75" font-size="20">TREM2+ Mac</text>
<text x="684.5" y="1873.25" font-size="20">CD163+MRC1−</text>
<text x="684.5" y="1897" font-size="20">Mac</text>
<text x="684.5" y="1926.25" font-size="20">CD16+ Mono</text>
<text x="995" y="1476.25" font-size="40">l</text>
<text x="1353.75" y="1472.5" font-size="23.5" text-anchor="middle">Cohort 2</text>
<line x1="1109.5" y1="1628.31" x2="1223.5" y2="1628.31" stroke="#F4F4F4" stroke-width="0.8"/>
<line x1="1109.5" y1="1579.94" x2="1223.5" y2="1579.94" stroke="#F4F4F4" stroke-width="0.8"/>
<line x1="1109.5" y1="1531.56" x2="1223.5" y2="1531.56" stroke="#F4F4F4" stroke-width="0.8"/>
<line x1="1109.5" y1="1652.5" x2="1223.5" y2="1652.5" stroke="#EBEBEB" stroke-width="1.1"/>
<line x1="1109.5" y1="1604.12" x2="1223.5" y2="1604.12" stroke="#EBEBEB" stroke-width="1.1"/>
<line x1="1109.5" y1="1555.75" x2="1223.5" y2="1555.75" stroke="#EBEBEB" stroke-width="1.1"/>
<line x1="1125.75" y1="1517.5" x2="1125.75" y2="1662" stroke="#EBEBEB" stroke-width="1.1"/>
<line x1="1152.75" y1="1517.5" x2="1152.75" y2="1662" stroke="#EBEBEB" stroke-width="1.1"/>
<line x1="1180" y1="1517.5" x2="1180" y2="1662" stroke="#EBEBEB" stroke-width="1.1"/>
<line x1="1207" y1="1517.5" x2="1207" y2="1662" stroke="#EBEBEB" stroke-width="1.1"/>
<rect x="1109.5" y="1484.25" width="114" height="33.25" fill="#fff" stroke="#7F7F7F" stroke-width="1.2"/>
<text x="1169" y="1507.88" font-size="20" text-anchor="middle">IL10</text>
<circle cx="1125.75" cy="1614.77" r="7.5" fill="#1E5689" stroke="#111" stroke-width="1"/>
<circle cx="1125.75" cy="1633.15" r="7.5" fill="#1E5689" stroke="#111" stroke-width="1"/>
<circle cx="1125.75" cy="1636.05" r="7.5" fill="#1E5689" stroke="#111" stroke-width="1"/>
<circle cx="1125.75" cy="1638.95" r="7.5" fill="#1E5689" stroke="#111" stroke-width="1"/>
<circle cx="1125.75" cy="1651.53" r="7.5" fill="#1E5689" stroke="#111" stroke-width="1"/>
<circle cx="1152.75" cy="1596.38" r="7.5" fill="#A0221C" stroke="#111" stroke-width="1"/>
<circle cx="1152.75" cy="1605.09" r="7.5" fill="#A0221C" stroke="#111" stroke-width="1"/>
<circle cx="1152.75" cy="1611.87" r="7.5" fill="#A0221C" stroke="#111" stroke-width="1"/>
<circle cx="1152.75" cy="1616.7" r="7.5" fill="#A0221C" stroke="#111" stroke-width="1"/>
<circle cx="1152.75" cy="1623.47" r="7.5" fill="#A0221C" stroke="#111" stroke-width="1"/>
<circle cx="1152.75" cy="1626.38" r="7.5" fill="#A0221C" stroke="#111" stroke-width="1"/>
<circle cx="1180" cy="1597.35" r="7.5" fill="#F26A47" stroke="#111" stroke-width="1"/>
<circle cx="1180" cy="1601.22" r="7.5" fill="#F26A47" stroke="#111" stroke-width="1"/>
<circle cx="1180" cy="1605.09" r="7.5" fill="#F26A47" stroke="#111" stroke-width="1"/>
<circle cx="1180" cy="1619.61" r="7.5" fill="#F26A47" stroke="#111" stroke-width="1"/>
<circle cx="1180" cy="1650.57" r="7.5" fill="#F26A47" stroke="#111" stroke-width="1"/>
<circle cx="1207" cy="1652.5" r="7.5" fill="#FDC84F" stroke="#111" stroke-width="1"/>
<line x1="1115.25" y1="1637.02" x2="1136.25" y2="1637.02" stroke="#1a1a1a" stroke-width="1.3"/>
<line x1="1142.25" y1="1614.28" x2="1163.25" y2="1614.28" stroke="#1a1a1a" stroke-width="1.3"/>
<line x1="1169.5" y1="1603.16" x2="1190.5" y2="1603.16" stroke="#1a1a1a" stroke-width="1.3"/>
<line x1="1196.5" y1="1652.5" x2="1217.5" y2="1652.5" stroke="#1a1a1a" stroke-width="1.3"/>
<rect x="1109.5" y="1517.5" width="114" height="144.5" fill="none" stroke="#7F7F7F" stroke-width="1.2"/>
<line x1="1103.5" y1="1555.75" x2="1108.3" y2="1555.75" stroke="#333" stroke-width="1.3"/>
<text x="1100.7" y="1562.75" font-size="20" text-anchor="end">100</text>
<line x1="1103.5" y1="1604.12" x2="1108.3" y2="1604.12" stroke="#333" stroke-width="1.3"/>
<text x="1100.7" y="1611.12" font-size="20" text-anchor="end">50</text>
<line x1="1103.5" y1="1652.5" x2="1108.3" y2="1652.5" stroke="#333" stroke-width="1.3"/>
<text x="1100.7" y="1659.5" font-size="20" text-anchor="end">0</text>
<line x1="1124.5" y1="1532.5" x2="1154.25" y2="1532.5" stroke="#111" stroke-width="3"/>
<text x="1140" y="1537.35" font-size="21" text-anchor="middle" stroke="#111" stroke-width="0.7">*</text>
<line x1="1232.5" y1="1628.31" x2="1346.5" y2="1628.31" stroke="#F4F4F4" stroke-width="0.8"/>
<line x1="1232.5" y1="1579.94" x2="1346.5" y2="1579.94" stroke="#F4F4F4" stroke-width="0.8"/>
<line x1="1232.5" y1="1531.56" x2="1346.5" y2="1531.56" stroke="#F4F4F4" stroke-width="0.8"/>
<line x1="1232.5" y1="1652.5" x2="1346.5" y2="1652.5" stroke="#EBEBEB" stroke-width="1.1"/>
<line x1="1232.5" y1="1604.12" x2="1346.5" y2="1604.12" stroke="#EBEBEB" stroke-width="1.1"/>
<line x1="1232.5" y1="1555.75" x2="1346.5" y2="1555.75" stroke="#EBEBEB" stroke-width="1.1"/>
<line x1="1248.75" y1="1517.5" x2="1248.75" y2="1662" stroke="#EBEBEB" stroke-width="1.1"/>
<line x1="1275.75" y1="1517.5" x2="1275.75" y2="1662" stroke="#EBEBEB" stroke-width="1.1"/>
<line x1="1303" y1="1517.5" x2="1303" y2="1662" stroke="#EBEBEB" stroke-width="1.1"/>
<line x1="1330" y1="1517.5" x2="1330" y2="1662" stroke="#EBEBEB" stroke-width="1.1"/>
<rect x="1232.5" y="1484.25" width="114" height="33.25" fill="#fff" stroke="#7F7F7F" stroke-width="1.2"/>
<text x="1292" y="1507.88" font-size="20" text-anchor="middle">IL1B</text>
<circle cx="1248.75" cy="1572.2" r="7.5" fill="#1E5689" stroke="#111" stroke-width="1"/>
<circle cx="1248.75" cy="1597.35" r="7.5" fill="#1E5689" stroke="#111" stroke-width="1"/>
<circle cx="1248.75" cy="1611.87" r="7.5" fill="#1E5689" stroke="#111" stroke-width="1"/>
<circle cx="1248.75" cy="1613.8" r="7.5" fill="#1E5689" stroke="#111" stroke-width="1"/>
<circle cx="1248.75" cy="1623.47" r="7.5" fill="#1E5689" stroke="#111" stroke-width="1"/>
<circle cx="1248.75" cy="1643.79" r="7.5" fill="#1E5689" stroke="#111" stroke-width="1"/>
<circle cx="1275.75" cy="1611.87" r="7.5" fill="#A0221C" stroke="#111" stroke-width="1"/>
<circle cx="1275.75" cy="1618.64" r="7.5" fill="#A0221C" stroke="#111" stroke-width="1"/>
<circle cx="1275.75" cy="1642.83" r="7.5" fill="#A0221C" stroke="#111" stroke-width="1"/>
<circle cx="1275.75" cy="1649.6" r="7.5" fill="#A0221C" stroke="#111" stroke-width="1"/>
<circle cx="1303" cy="1598.32" r="7.5" fill="#F26A47" stroke="#111" stroke-width="1"/>
<circle cx="1303" cy="1605.09" r="7.5" fill="#F26A47" stroke="#111" stroke-width="1"/>
<circle cx="1303" cy="1625.41" r="7.5" fill="#F26A47" stroke="#111" stroke-width="1"/>
<circle cx="1303" cy="1638.95" r="7.5" fill="#F26A47" stroke="#111" stroke-width="1"/>
<circle cx="1303" cy="1645.73" r="7.5" fill="#F26A47" stroke="#111" stroke-width="1"/>
<circle cx="1330" cy="1649.6" r="7.5" fill="#FDC84F" stroke="#111" stroke-width="1"/>
<circle cx="1330" cy="1652.5" r="7.5" fill="#FDC84F" stroke="#111" stroke-width="1"/>
<line x1="1238.25" y1="1612.83" x2="1259.25" y2="1612.83" stroke="#1a1a1a" stroke-width="1.3"/>
<line x1="1265.25" y1="1631.21" x2="1286.25" y2="1631.21" stroke="#1a1a1a" stroke-width="1.3"/>
<line x1="1292.5" y1="1615.73" x2="1313.5" y2="1615.73" stroke="#1a1a1a" stroke-width="1.3"/>
<line x1="1319.5" y1="1652.5" x2="1340.5" y2="1652.5" stroke="#1a1a1a" stroke-width="1.3"/>
<rect x="1232.5" y="1517.5" width="114" height="144.5" fill="none" stroke="#7F7F7F" stroke-width="1.2"/>
<line x1="1355.5" y1="1628.31" x2="1469.5" y2="1628.31" stroke="#F4F4F4" stroke-width="0.8"/>
<line x1="1355.5" y1="1579.94" x2="1469.5" y2="1579.94" stroke="#F4F4F4" stroke-width="0.8"/>
<line x1="1355.5" y1="1531.56" x2="1469.5" y2="1531.56" stroke="#F4F4F4" stroke-width="0.8"/>
<line x1="1355.5" y1="1652.5" x2="1469.5" y2="1652.5" stroke="#EBEBEB" stroke-width="1.1"/>
<line x1="1355.5" y1="1604.12" x2="1469.5" y2="1604.12" stroke="#EBEBEB" stroke-width="1.1"/>
<line x1="1355.5" y1="1555.75" x2="1469.5" y2="1555.75" stroke="#EBEBEB" stroke-width="1.1"/>
<line x1="1371.75" y1="1517.5" x2="1371.75" y2="1662" stroke="#EBEBEB" stroke-width="1.1"/>
<line x1="1398.75" y1="1517.5" x2="1398.75" y2="1662" stroke="#EBEBEB" stroke-width="1.1"/>
<line x1="1426" y1="1517.5" x2="1426" y2="1662" stroke="#EBEBEB" stroke-width="1.1"/>
<line x1="1453" y1="1517.5" x2="1453" y2="1662" stroke="#EBEBEB" stroke-width="1.1"/>
<rect x="1355.5" y="1484.25" width="114" height="33.25" fill="#fff" stroke="#7F7F7F" stroke-width="1.2"/>
<text x="1415" y="1507.88" font-size="20" text-anchor="middle">IL6</text>
<circle cx="1371.75" cy="1628.31" r="7.5" fill="#1E5689" stroke="#111" stroke-width="1"/>
<circle cx="1371.75" cy="1641.86" r="7.5" fill="#1E5689" stroke="#111" stroke-width="1"/>
<circle cx="1371.75" cy="1652.5" r="7.5" fill="#1E5689" stroke="#111" stroke-width="1"/>
<circle cx="1398.75" cy="1605.09" r="7.5" fill="#A0221C" stroke="#111" stroke-width="1"/>
<circle cx="1398.75" cy="1652.5" r="7.5" fill="#A0221C" stroke="#111" stroke-width="1"/>
<circle cx="1426" cy="1555.75" r="7.5" fill="#F26A47" stroke="#111" stroke-width="1"/>
<circle cx="1426" cy="1579.94" r="7.5" fill="#F26A47" stroke="#111" stroke-width="1"/>
<circle cx="1426" cy="1614.77" r="7.5" fill="#F26A47" stroke="#111" stroke-width="1"/>
<circle cx="1453" cy="1652.5" r="7.5" fill="#FDC84F" stroke="#111" stroke-width="1"/>
<line x1="1361.25" y1="1646.69" x2="1382.25" y2="1646.69" stroke="#1a1a1a" stroke-width="1.3"/>
<line x1="1388.25" y1="1652.5" x2="1409.25" y2="1652.5" stroke="#1a1a1a" stroke-width="1.3"/>
<line x1="1415.5" y1="1568.33" x2="1436.5" y2="1568.33" stroke="#1a1a1a" stroke-width="1.3"/>
<line x1="1442.5" y1="1652.5" x2="1463.5" y2="1652.5" stroke="#1a1a1a" stroke-width="1.3"/>
<rect x="1355.5" y="1517.5" width="114" height="144.5" fill="none" stroke="#7F7F7F" stroke-width="1.2"/>
<line x1="1373" y1="1537" x2="1427" y2="1537" stroke="#111" stroke-width="3"/>
<text x="1408.75" y="1533" font-size="19.5" text-anchor="middle">0.065</text>
<line x1="1478.25" y1="1628.31" x2="1592.25" y2="1628.31" stroke="#F4F4F4" stroke-width="0.8"/>
<line x1="1478.25" y1="1579.94" x2="1592.25" y2="1579.94" stroke="#F4F4F4" stroke-width="0.8"/>
<line x1="1478.25" y1="1531.56" x2="1592.25" y2="1531.56" stroke="#F4F4F4" stroke-width="0.8"/>
<line x1="1478.25" y1="1652.5" x2="1592.25" y2="1652.5" stroke="#EBEBEB" stroke-width="1.1"/>
<line x1="1478.25" y1="1604.12" x2="1592.25" y2="1604.12" stroke="#EBEBEB" stroke-width="1.1"/>
<line x1="1478.25" y1="1555.75" x2="1592.25" y2="1555.75" stroke="#EBEBEB" stroke-width="1.1"/>
<line x1="1494.5" y1="1517.5" x2="1494.5" y2="1662" stroke="#EBEBEB" stroke-width="1.1"/>
<line x1="1521.5" y1="1517.5" x2="1521.5" y2="1662" stroke="#EBEBEB" stroke-width="1.1"/>
<line x1="1548.75" y1="1517.5" x2="1548.75" y2="1662" stroke="#EBEBEB" stroke-width="1.1"/>
<line x1="1575.75" y1="1517.5" x2="1575.75" y2="1662" stroke="#EBEBEB" stroke-width="1.1"/>
<rect x="1478.25" y="1484.25" width="114" height="33.25" fill="#fff" stroke="#7F7F7F" stroke-width="1.2"/>
<text x="1537.75" y="1507.88" font-size="20" text-anchor="middle">TNF</text>
<circle cx="1494.5" cy="1562.52" r="7.5" fill="#1E5689" stroke="#111" stroke-width="1"/>
<circle cx="1494.5" cy="1614.77" r="7.5" fill="#1E5689" stroke="#111" stroke-width="1"/>
<circle cx="1494.5" cy="1623.47" r="7.5" fill="#1E5689" stroke="#111" stroke-width="1"/>
<circle cx="1494.5" cy="1626.38" r="7.5" fill="#1E5689" stroke="#111" stroke-width="1"/>
<circle cx="1494.5" cy="1628.31" r="7.5" fill="#1E5689" stroke="#111" stroke-width="1"/>
<circle cx="1494.5" cy="1631.21" r="7.5" fill="#1E5689" stroke="#111" stroke-width="1"/>
<circle cx="1521.5" cy="1611.87" r="7.5" fill="#A0221C" stroke="#111" stroke-width="1"/>
<circle cx="1521.5" cy="1623.47" r="7.5" fill="#A0221C" stroke="#111" stroke-width="1"/>
<circle cx="1521.5" cy="1628.31" r="7.5" fill="#A0221C" stroke="#111" stroke-width="1"/>
<circle cx="1521.5" cy="1632.18" r="7.5" fill="#A0221C" stroke="#111" stroke-width="1"/>
<circle cx="1521.5" cy="1643.79" r="7.5" fill="#A0221C" stroke="#111" stroke-width="1"/>
<circle cx="1521.5" cy="1646.69" r="7.5" fill="#A0221C" stroke="#111" stroke-width="1"/>
<circle cx="1548.75" cy="1579.94" r="7.5" fill="#F26A47" stroke="#111" stroke-width="1"/>
<circle cx="1548.75" cy="1591.55" r="7.5" fill="#F26A47" stroke="#111" stroke-width="1"/>
<circle cx="1548.75" cy="1604.12" r="7.5" fill="#F26A47" stroke="#111" stroke-width="1"/>
<circle cx="1548.75" cy="1606.06" r="7.5" fill="#F26A47" stroke="#111" stroke-width="1"/>
<circle cx="1548.75" cy="1635.09" r="7.5" fill="#F26A47" stroke="#111" stroke-width="1"/>
<circle cx="1548.75" cy="1646.69" r="7.5" fill="#F26A47" stroke="#111" stroke-width="1"/>
<circle cx="1575.75" cy="1652.5" r="7.5" fill="#FDC84F" stroke="#111" stroke-width="1"/>
<line x1="1484" y1="1625.41" x2="1505" y2="1625.41" stroke="#1a1a1a" stroke-width="1.3"/>
<line x1="1511" y1="1630.25" x2="1532" y2="1630.25" stroke="#1a1a1a" stroke-width="1.3"/>
<line x1="1538.25" y1="1609.93" x2="1559.25" y2="1609.93" stroke="#1a1a1a" stroke-width="1.3"/>
<line x1="1565.25" y1="1652.5" x2="1586.25" y2="1652.5" stroke="#1a1a1a" stroke-width="1.3"/>
<rect x="1478.25" y="1517.5" width="114" height="144.5" fill="none" stroke="#7F7F7F" stroke-width="1.2"/>
<line x1="1108.75" y1="1815.06" x2="1222.75" y2="1815.06" stroke="#F4F4F4" stroke-width="0.8"/>
<line x1="1108.75" y1="1766.69" x2="1222.75" y2="1766.69" stroke="#F4F4F4" stroke-width="0.8"/>
<line x1="1108.75" y1="1718.31" x2="1222.75" y2="1718.31" stroke="#F4F4F4" stroke-width="0.8"/>
<line x1="1108.75" y1="1839.25" x2="1222.75" y2="1839.25" stroke="#EBEBEB" stroke-width="1.1"/>
<line x1="1108.75" y1="1790.88" x2="1222.75" y2="1790.88" stroke="#EBEBEB" stroke-width="1.1"/>
<line x1="1108.75" y1="1742.5" x2="1222.75" y2="1742.5" stroke="#EBEBEB" stroke-width="1.1"/>
<line x1="1125" y1="1704.25" x2="1125" y2="1848.75" stroke="#EBEBEB" stroke-width="1.1"/>
<line x1="1152" y1="1704.25" x2="1152" y2="1848.75" stroke="#EBEBEB" stroke-width="1.1"/>
<line x1="1179.25" y1="1704.25" x2="1179.25" y2="1848.75" stroke="#EBEBEB" stroke-width="1.1"/>
<line x1="1206.25" y1="1704.25" x2="1206.25" y2="1848.75" stroke="#EBEBEB" stroke-width="1.1"/>
<rect x="1108.75" y="1671.25" width="114" height="33" fill="#fff" stroke="#7F7F7F" stroke-width="1.2"/>
<text x="1168.25" y="1694.75" font-size="20" text-anchor="middle">CCL4L1</text>
<circle cx="1125" cy="1817" r="7.5" fill="#1E5689" stroke="#111" stroke-width="1"/>
<circle cx="1125" cy="1824.74" r="7.5" fill="#1E5689" stroke="#111" stroke-width="1"/>
<circle cx="1125" cy="1829.58" r="7.5" fill="#1E5689" stroke="#111" stroke-width="1"/>
<circle cx="1125" cy="1831.51" r="7.5" fill="#1E5689" stroke="#111" stroke-width="1"/>
<circle cx="1125" cy="1836.35" r="7.5" fill="#1E5689" stroke="#111" stroke-width="1"/>
<circle cx="1152" cy="1790.88" r="7.5" fill="#A0221C" stroke="#111" stroke-width="1"/>
<circle cx="1152" cy="1817.96" r="7.5" fill="#A0221C" stroke="#111" stroke-width="1"/>
<circle cx="1152" cy="1820.87" r="7.5" fill="#A0221C" stroke="#111" stroke-width="1"/>
<circle cx="1152" cy="1823.77" r="7.5" fill="#A0221C" stroke="#111" stroke-width="1"/>
<circle cx="1152" cy="1826.67" r="7.5" fill="#A0221C" stroke="#111" stroke-width="1"/>
<circle cx="1179.25" cy="1761.85" r="7.5" fill="#F26A47" stroke="#111" stroke-width="1"/>
<circle cx="1179.25" cy="1764.75" r="7.5" fill="#F26A47" stroke="#111" stroke-width="1"/>
<circle cx="1179.25" cy="1768.62" r="7.5" fill="#F26A47" stroke="#111" stroke-width="1"/>
<circle cx="1179.25" cy="1772.49" r="7.5" fill="#F26A47" stroke="#111" stroke-width="1"/>
<circle cx="1179.25" cy="1810.22" r="7.5" fill="#F26A47" stroke="#111" stroke-width="1"/>
<circle cx="1206.25" cy="1839.25" r="7.5" fill="#FDC84F" stroke="#111" stroke-width="1"/>
<line x1="1114.5" y1="1829.58" x2="1135.5" y2="1829.58" stroke="#1a1a1a" stroke-width="1.3"/>
<line x1="1141.5" y1="1819.9" x2="1162.5" y2="1819.9" stroke="#1a1a1a" stroke-width="1.3"/>
<line x1="1168.75" y1="1768.62" x2="1189.75" y2="1768.62" stroke="#1a1a1a" stroke-width="1.3"/>
<line x1="1195.75" y1="1839.25" x2="1216.75" y2="1839.25" stroke="#1a1a1a" stroke-width="1.3"/>
<rect x="1108.75" y="1704.25" width="114" height="144.5" fill="none" stroke="#7F7F7F" stroke-width="1.2"/>
<line x1="1102.75" y1="1742.5" x2="1107.55" y2="1742.5" stroke="#333" stroke-width="1.3"/>
<text x="1099.95" y="1749.5" font-size="20" text-anchor="end">100</text>
<line x1="1102.75" y1="1790.88" x2="1107.55" y2="1790.88" stroke="#333" stroke-width="1.3"/>
<text x="1099.95" y="1797.88" font-size="20" text-anchor="end">50</text>
<line x1="1102.75" y1="1839.25" x2="1107.55" y2="1839.25" stroke="#333" stroke-width="1.3"/>
<text x="1099.95" y="1846.25" font-size="20" text-anchor="end">0</text>
<line x1="1125.75" y1="1720.5" x2="1180.75" y2="1720.5" stroke="#111" stroke-width="3"/>
<text x="1153.75" y="1725.35" font-size="21" text-anchor="middle" stroke="#111" stroke-width="0.7">*</text>
<line x1="1150.5" y1="1744.5" x2="1180.5" y2="1744.5" stroke="#111" stroke-width="3"/>
<text x="1172" y="1740" font-size="19.5" text-anchor="middle">0.062</text>
<line x1="1126.25" y1="1768" x2="1155.75" y2="1768" stroke="#111" stroke-width="3"/>
<text x="1142.5" y="1772.85" font-size="21" text-anchor="middle" stroke="#111" stroke-width="0.7">*</text>
<line x1="1231.75" y1="1815.06" x2="1345.75" y2="1815.06" stroke="#F4F4F4" stroke-width="0.8"/>
<line x1="1231.75" y1="1766.69" x2="1345.75" y2="1766.69" stroke="#F4F4F4" stroke-width="0.8"/>
<line x1="1231.75" y1="1718.31" x2="1345.75" y2="1718.31" stroke="#F4F4F4" stroke-width="0.8"/>
<line x1="1231.75" y1="1839.25" x2="1345.75" y2="1839.25" stroke="#EBEBEB" stroke-width="1.1"/>
<line x1="1231.75" y1="1790.88" x2="1345.75" y2="1790.88" stroke="#EBEBEB" stroke-width="1.1"/>
<line x1="1231.75" y1="1742.5" x2="1345.75" y2="1742.5" stroke="#EBEBEB" stroke-width="1.1"/>
<line x1="1248" y1="1704.25" x2="1248" y2="1848.75" stroke="#EBEBEB" stroke-width="1.1"/>
<line x1="1275" y1="1704.25" x2="1275" y2="1848.75" stroke="#EBEBEB" stroke-width="1.1"/>
<line x1="1302.25" y1="1704.25" x2="1302.25" y2="1848.75" stroke="#EBEBEB" stroke-width="1.1"/>
<line x1="1329.25" y1="1704.25" x2="1329.25" y2="1848.75" stroke="#EBEBEB" stroke-width="1.1"/>
<rect x="1231.75" y="1671.25" width="114" height="33" fill="#fff" stroke="#7F7F7F" stroke-width="1.2"/>
<text x="1291.25" y="1694.75" font-size="20" text-anchor="middle">CXCL10</text>
<circle cx="1248" cy="1790.88" r="7.5" fill="#1E5689" stroke="#111" stroke-width="1"/>
<circle cx="1248" cy="1816.03" r="7.5" fill="#1E5689" stroke="#111" stroke-width="1"/>
<circle cx="1248" cy="1823.77" r="7.5" fill="#1E5689" stroke="#111" stroke-width="1"/>
<circle cx="1248" cy="1829.58" r="7.5" fill="#1E5689" stroke="#111" stroke-width="1"/>
<circle cx="1248" cy="1833.44" r="7.5" fill="#1E5689" stroke="#111" stroke-width="1"/>
<circle cx="1275" cy="1811.19" r="7.5" fill="#A0221C" stroke="#111" stroke-width="1"/>
<circle cx="1275" cy="1816.03" r="7.5" fill="#A0221C" stroke="#111" stroke-width="1"/>
<circle cx="1275" cy="1826.67" r="7.5" fill="#A0221C" stroke="#111" stroke-width="1"/>
<circle cx="1275" cy="1831.51" r="7.5" fill="#A0221C" stroke="#111" stroke-width="1"/>
<circle cx="1275" cy="1835.38" r="7.5" fill="#A0221C" stroke="#111" stroke-width="1"/>
<circle cx="1302.25" cy="1759.91" r="7.5" fill="#F26A47" stroke="#111" stroke-width="1"/>
<circle cx="1302.25" cy="1765.72" r="7.5" fill="#F26A47" stroke="#111" stroke-width="1"/>
<circle cx="1302.25" cy="1771.53" r="7.5" fill="#F26A47" stroke="#111" stroke-width="1"/>
<circle cx="1302.25" cy="1794.74" r="7.5" fill="#F26A47" stroke="#111" stroke-width="1"/>
<circle cx="1302.25" cy="1798.62" r="7.5" fill="#F26A47" stroke="#111" stroke-width="1"/>
<circle cx="1329.25" cy="1839.25" r="7.5" fill="#FDC84F" stroke="#111" stroke-width="1"/>
<line x1="1237.5" y1="1825.7" x2="1258.5" y2="1825.7" stroke="#1a1a1a" stroke-width="1.3"/>
<line x1="1264.5" y1="1827.64" x2="1285.5" y2="1827.64" stroke="#1a1a1a" stroke-width="1.3"/>
<line x1="1291.75" y1="1769.59" x2="1312.75" y2="1769.59" stroke="#1a1a1a" stroke-width="1.3"/>
<line x1="1318.75" y1="1839.25" x2="1339.75" y2="1839.25" stroke="#1a1a1a" stroke-width="1.3"/>
<rect x="1231.75" y="1704.25" width="114" height="144.5" fill="none" stroke="#7F7F7F" stroke-width="1.2"/>
<line x1="1245.5" y1="1722" x2="1300" y2="1722" stroke="#111" stroke-width="3"/>
<text x="1281.25" y="1717.5" font-size="19.5" text-anchor="middle">0.062</text>
<line x1="1271.25" y1="1741.25" x2="1301.25" y2="1741.25" stroke="#111" stroke-width="3"/>
<text x="1287.5" y="1746.35" font-size="21" text-anchor="middle" stroke="#111" stroke-width="0.7">*</text>
<line x1="1354.5" y1="1815.06" x2="1468.5" y2="1815.06" stroke="#F4F4F4" stroke-width="0.8"/>
<line x1="1354.5" y1="1766.69" x2="1468.5" y2="1766.69" stroke="#F4F4F4" stroke-width="0.8"/>
<line x1="1354.5" y1="1718.31" x2="1468.5" y2="1718.31" stroke="#F4F4F4" stroke-width="0.8"/>
<line x1="1354.5" y1="1839.25" x2="1468.5" y2="1839.25" stroke="#EBEBEB" stroke-width="1.1"/>
<line x1="1354.5" y1="1790.88" x2="1468.5" y2="1790.88" stroke="#EBEBEB" stroke-width="1.1"/>
<line x1="1354.5" y1="1742.5" x2="1468.5" y2="1742.5" stroke="#EBEBEB" stroke-width="1.1"/>
<line x1="1370.75" y1="1704.25" x2="1370.75" y2="1848.75" stroke="#EBEBEB" stroke-width="1.1"/>
<line x1="1397.75" y1="1704.25" x2="1397.75" y2="1848.75" stroke="#EBEBEB" stroke-width="1.1"/>
<line x1="1425" y1="1704.25" x2="1425" y2="1848.75" stroke="#EBEBEB" stroke-width="1.1"/>
<line x1="1452" y1="1704.25" x2="1452" y2="1848.75" stroke="#EBEBEB" stroke-width="1.1"/>
<rect x="1354.5" y="1671.25" width="114" height="33" fill="#fff" stroke="#7F7F7F" stroke-width="1.2"/>
<text x="1414" y="1694.75" font-size="20" text-anchor="middle">CXCL3</text>
<circle cx="1370.75" cy="1764.75" r="7.5" fill="#1E5689" stroke="#111" stroke-width="1"/>
<circle cx="1370.75" cy="1774.43" r="7.5" fill="#1E5689" stroke="#111" stroke-width="1"/>
<circle cx="1370.75" cy="1778.3" r="7.5" fill="#1E5689" stroke="#111" stroke-width="1"/>
<circle cx="1370.75" cy="1802.48" r="7.5" fill="#1E5689" stroke="#111" stroke-width="1"/>
<circle cx="1370.75" cy="1834.41" r="7.5" fill="#1E5689" stroke="#111" stroke-width="1"/>
<circle cx="1397.75" cy="1774.43" r="7.5" fill="#A0221C" stroke="#111" stroke-width="1"/>
<circle cx="1397.75" cy="1780.23" r="7.5" fill="#A0221C" stroke="#111" stroke-width="1"/>
<circle cx="1397.75" cy="1804.42" r="7.5" fill="#A0221C" stroke="#111" stroke-width="1"/>
<circle cx="1397.75" cy="1810.22" r="7.5" fill="#A0221C" stroke="#111" stroke-width="1"/>
<circle cx="1397.75" cy="1831.51" r="7.5" fill="#A0221C" stroke="#111" stroke-width="1"/>
<circle cx="1425" cy="1813.13" r="7.5" fill="#F26A47" stroke="#111" stroke-width="1"/>
<circle cx="1425" cy="1823.77" r="7.5" fill="#F26A47" stroke="#111" stroke-width="1"/>
<circle cx="1425" cy="1831.51" r="7.5" fill="#F26A47" stroke="#111" stroke-width="1"/>
<circle cx="1425" cy="1837.32" r="7.5" fill="#F26A47" stroke="#111" stroke-width="1"/>
<circle cx="1452" cy="1839.25" r="7.5" fill="#FDC84F" stroke="#111" stroke-width="1"/>
<line x1="1360.25" y1="1777.33" x2="1381.25" y2="1777.33" stroke="#1a1a1a" stroke-width="1.3"/>
<line x1="1387.25" y1="1807.32" x2="1408.25" y2="1807.32" stroke="#1a1a1a" stroke-width="1.3"/>
<line x1="1414.5" y1="1834.41" x2="1435.5" y2="1834.41" stroke="#1a1a1a" stroke-width="1.3"/>
<line x1="1441.5" y1="1839.25" x2="1462.5" y2="1839.25" stroke="#1a1a1a" stroke-width="1.3"/>
<rect x="1354.5" y="1704.25" width="114" height="144.5" fill="none" stroke="#7F7F7F" stroke-width="1.2"/>
<line x1="1369.5" y1="1721.25" x2="1423.75" y2="1721.25" stroke="#111" stroke-width="3"/>
<text x="1405" y="1717.5" font-size="19.5" text-anchor="middle">0.062</text>
<line x1="1396.25" y1="1742.5" x2="1424.5" y2="1742.5" stroke="#111" stroke-width="3"/>
<text x="1418" y="1739.5" font-size="19.5" text-anchor="middle">0.062</text>
<line x1="1477.5" y1="1815.06" x2="1591.5" y2="1815.06" stroke="#F4F4F4" stroke-width="0.8"/>
<line x1="1477.5" y1="1766.69" x2="1591.5" y2="1766.69" stroke="#F4F4F4" stroke-width="0.8"/>
<line x1="1477.5" y1="1718.31" x2="1591.5" y2="1718.31" stroke="#F4F4F4" stroke-width="0.8"/>
<line x1="1477.5" y1="1839.25" x2="1591.5" y2="1839.25" stroke="#EBEBEB" stroke-width="1.1"/>
<line x1="1477.5" y1="1790.88" x2="1591.5" y2="1790.88" stroke="#EBEBEB" stroke-width="1.1"/>
<line x1="1477.5" y1="1742.5" x2="1591.5" y2="1742.5" stroke="#EBEBEB" stroke-width="1.1"/>
<line x1="1493.75" y1="1704.25" x2="1493.75" y2="1848.75" stroke="#EBEBEB" stroke-width="1.1"/>
<line x1="1520.75" y1="1704.25" x2="1520.75" y2="1848.75" stroke="#EBEBEB" stroke-width="1.1"/>
<line x1="1548" y1="1704.25" x2="1548" y2="1848.75" stroke="#EBEBEB" stroke-width="1.1"/>
<line x1="1575" y1="1704.25" x2="1575" y2="1848.75" stroke="#EBEBEB" stroke-width="1.1"/>
<rect x="1477.5" y="1671.25" width="114" height="33" fill="#fff" stroke="#7F7F7F" stroke-width="1.2"/>
<text x="1537" y="1694.75" font-size="20" text-anchor="middle">CXCL8</text>
<circle cx="1493.75" cy="1756.05" r="7.5" fill="#1E5689" stroke="#111" stroke-width="1"/>
<circle cx="1493.75" cy="1761.85" r="7.5" fill="#1E5689" stroke="#111" stroke-width="1"/>
<circle cx="1493.75" cy="1784.1" r="7.5" fill="#1E5689" stroke="#111" stroke-width="1"/>
<circle cx="1493.75" cy="1787.97" r="7.5" fill="#1E5689" stroke="#111" stroke-width="1"/>
<circle cx="1493.75" cy="1792.81" r="7.5" fill="#1E5689" stroke="#111" stroke-width="1"/>
<circle cx="1493.75" cy="1800.55" r="7.5" fill="#1E5689" stroke="#111" stroke-width="1"/>
<circle cx="1493.75" cy="1829.58" r="7.5" fill="#1E5689" stroke="#111" stroke-width="1"/>
<circle cx="1520.75" cy="1761.85" r="7.5" fill="#A0221C" stroke="#111" stroke-width="1"/>
<circle cx="1520.75" cy="1790.88" r="7.5" fill="#A0221C" stroke="#111" stroke-width="1"/>
<circle cx="1520.75" cy="1803.45" r="7.5" fill="#A0221C" stroke="#111" stroke-width="1"/>
<circle cx="1520.75" cy="1808.29" r="7.5" fill="#A0221C" stroke="#111" stroke-width="1"/>
<circle cx="1520.75" cy="1812.16" r="7.5" fill="#A0221C" stroke="#111" stroke-width="1"/>
<circle cx="1520.75" cy="1834.41" r="7.5" fill="#A0221C" stroke="#111" stroke-width="1"/>
<circle cx="1520.75" cy="1837.32" r="7.5" fill="#A0221C" stroke="#111" stroke-width="1"/>
<circle cx="1548" cy="1804.42" r="7.5" fill="#F26A47" stroke="#111" stroke-width="1"/>
<circle cx="1548" cy="1821.84" r="7.5" fill="#F26A47" stroke="#111" stroke-width="1"/>
<circle cx="1548" cy="1826.67" r="7.5" fill="#F26A47" stroke="#111" stroke-width="1"/>
<circle cx="1548" cy="1839.25" r="7.5" fill="#F26A47" stroke="#111" stroke-width="1"/>
<circle cx="1575" cy="1839.25" r="7.5" fill="#FDC84F" stroke="#111" stroke-width="1"/>
<line x1="1483.25" y1="1787.97" x2="1504.25" y2="1787.97" stroke="#1a1a1a" stroke-width="1.3"/>
<line x1="1510.25" y1="1810.22" x2="1531.25" y2="1810.22" stroke="#1a1a1a" stroke-width="1.3"/>
<line x1="1537.5" y1="1826.67" x2="1558.5" y2="1826.67" stroke="#1a1a1a" stroke-width="1.3"/>
<line x1="1564.5" y1="1839.25" x2="1585.5" y2="1839.25" stroke="#1a1a1a" stroke-width="1.3"/>
<rect x="1477.5" y="1704.25" width="114" height="144.5" fill="none" stroke="#7F7F7F" stroke-width="1.2"/>
<line x1="1495" y1="1722" x2="1548.75" y2="1722" stroke="#111" stroke-width="3"/>
<text x="1531.25" y="1718.75" font-size="19.5" text-anchor="middle">0.062</text>
<line x1="1108.75" y1="2002.06" x2="1222.75" y2="2002.06" stroke="#F4F4F4" stroke-width="0.8"/>
<line x1="1108.75" y1="1953.69" x2="1222.75" y2="1953.69" stroke="#F4F4F4" stroke-width="0.8"/>
<line x1="1108.75" y1="1905.31" x2="1222.75" y2="1905.31" stroke="#F4F4F4" stroke-width="0.8"/>
<line x1="1108.75" y1="2026.25" x2="1222.75" y2="2026.25" stroke="#EBEBEB" stroke-width="1.1"/>
<line x1="1108.75" y1="1977.88" x2="1222.75" y2="1977.88" stroke="#EBEBEB" stroke-width="1.1"/>
<line x1="1108.75" y1="1929.5" x2="1222.75" y2="1929.5" stroke="#EBEBEB" stroke-width="1.1"/>
<line x1="1125" y1="1890.5" x2="1125" y2="2035.5" stroke="#EBEBEB" stroke-width="1.1"/>
<line x1="1152" y1="1890.5" x2="1152" y2="2035.5" stroke="#EBEBEB" stroke-width="1.1"/>
<line x1="1179.25" y1="1890.5" x2="1179.25" y2="2035.5" stroke="#EBEBEB" stroke-width="1.1"/>
<line x1="1206.25" y1="1890.5" x2="1206.25" y2="2035.5" stroke="#EBEBEB" stroke-width="1.1"/>
<rect x="1108.75" y="1858.75" width="114" height="31.75" fill="#fff" stroke="#7F7F7F" stroke-width="1.2"/>
<text x="1168.25" y="1881.62" font-size="20" text-anchor="middle">IFI27</text>
<circle cx="1125" cy="1974.97" r="7.5" fill="#1E5689" stroke="#111" stroke-width="1"/>
<circle cx="1125" cy="1983.68" r="7.5" fill="#1E5689" stroke="#111" stroke-width="1"/>
<circle cx="1125" cy="1996.26" r="7.5" fill="#1E5689" stroke="#111" stroke-width="1"/>
<circle cx="1125" cy="1999.16" r="7.5" fill="#1E5689" stroke="#111" stroke-width="1"/>
<circle cx="1125" cy="2002.06" r="7.5" fill="#1E5689" stroke="#111" stroke-width="1"/>
<circle cx="1125" cy="2011.74" r="7.5" fill="#1E5689" stroke="#111" stroke-width="1"/>
<circle cx="1152" cy="1992.39" r="7.5" fill="#A0221C" stroke="#111" stroke-width="1"/>
<circle cx="1152" cy="1998.19" r="7.5" fill="#A0221C" stroke="#111" stroke-width="1"/>
<circle cx="1152" cy="2002.06" r="7.5" fill="#A0221C" stroke="#111" stroke-width="1"/>
<circle cx="1152" cy="2005.93" r="7.5" fill="#A0221C" stroke="#111" stroke-width="1"/>
<circle cx="1152" cy="2009.8" r="7.5" fill="#A0221C" stroke="#111" stroke-width="1"/>
<circle cx="1152" cy="2013.67" r="7.5" fill="#A0221C" stroke="#111" stroke-width="1"/>
<circle cx="1179.25" cy="1971.1" r="7.5" fill="#F26A47" stroke="#111" stroke-width="1"/>
<circle cx="1179.25" cy="1977.88" r="7.5" fill="#F26A47" stroke="#111" stroke-width="1"/>
<circle cx="1179.25" cy="1982.71" r="7.5" fill="#F26A47" stroke="#111" stroke-width="1"/>
<circle cx="1179.25" cy="1987.55" r="7.5" fill="#F26A47" stroke="#111" stroke-width="1"/>
<circle cx="1179.25" cy="1993.36" r="7.5" fill="#F26A47" stroke="#111" stroke-width="1"/>
<circle cx="1179.25" cy="2001.1" r="7.5" fill="#F26A47" stroke="#111" stroke-width="1"/>
<circle cx="1206.25" cy="2026.25" r="7.5" fill="#FDC84F" stroke="#111" stroke-width="1"/>
<line x1="1114.5" y1="1998.19" x2="1135.5" y2="1998.19" stroke="#1a1a1a" stroke-width="1.3"/>
<line x1="1141.5" y1="2002.06" x2="1162.5" y2="2002.06" stroke="#1a1a1a" stroke-width="1.3"/>
<line x1="1168.75" y1="1987.55" x2="1189.75" y2="1987.55" stroke="#1a1a1a" stroke-width="1.3"/>
<line x1="1195.75" y1="2026.25" x2="1216.75" y2="2026.25" stroke="#1a1a1a" stroke-width="1.3"/>
<rect x="1108.75" y="1890.5" width="114" height="145" fill="none" stroke="#7F7F7F" stroke-width="1.2"/>
<line x1="1102.75" y1="1929.5" x2="1107.55" y2="1929.5" stroke="#333" stroke-width="1.3"/>
<text x="1099.95" y="1936.5" font-size="20" text-anchor="end">100</text>
<line x1="1102.75" y1="1977.88" x2="1107.55" y2="1977.88" stroke="#333" stroke-width="1.3"/>
<text x="1099.95" y="1984.88" font-size="20" text-anchor="end">50</text>
<line x1="1102.75" y1="2026.25" x2="1107.55" y2="2026.25" stroke="#333" stroke-width="1.3"/>
<text x="1099.95" y="2033.25" font-size="20" text-anchor="end">0</text>
<line x1="1152.5" y1="1911.75" x2="1182.5" y2="1911.75" stroke="#111" stroke-width="3"/>
<text x="1173.25" y="1907.5" font-size="19.5" text-anchor="middle">0.062</text>
<line x1="1231.75" y1="2002.06" x2="1345.75" y2="2002.06" stroke="#F4F4F4" stroke-width="0.8"/>
<line x1="1231.75" y1="1953.69" x2="1345.75" y2="1953.69" stroke="#F4F4F4" stroke-width="0.8"/>
<line x1="1231.75" y1="1905.31" x2="1345.75" y2="1905.31" stroke="#F4F4F4" stroke-width="0.8"/>
<line x1="1231.75" y1="2026.25" x2="1345.75" y2="2026.25" stroke="#EBEBEB" stroke-width="1.1"/>
<line x1="1231.75" y1="1977.88" x2="1345.75" y2="1977.88" stroke="#EBEBEB" stroke-width="1.1"/>
<line x1="1231.75" y1="1929.5" x2="1345.75" y2="1929.5" stroke="#EBEBEB" stroke-width="1.1"/>
<line x1="1248" y1="1890.5" x2="1248" y2="2035.5" stroke="#EBEBEB" stroke-width="1.1"/>
<line x1="1275" y1="1890.5" x2="1275" y2="2035.5" stroke="#EBEBEB" stroke-width="1.1"/>
<line x1="1302.25" y1="1890.5" x2="1302.25" y2="2035.5" stroke="#EBEBEB" stroke-width="1.1"/>
<line x1="1329.25" y1="1890.5" x2="1329.25" y2="2035.5" stroke="#EBEBEB" stroke-width="1.1"/>
<rect x="1231.75" y="1858.75" width="114" height="31.75" fill="#fff" stroke="#7F7F7F" stroke-width="1.2"/>
<text x="1291.25" y="1881.62" font-size="20" text-anchor="middle">ISG15</text>
<circle cx="1248" cy="1947.88" r="7.5" fill="#1E5689" stroke="#111" stroke-width="1"/>
<circle cx="1248" cy="1973.04" r="7.5" fill="#1E5689" stroke="#111" stroke-width="1"/>
<circle cx="1248" cy="1987.55" r="7.5" fill="#1E5689" stroke="#111" stroke-width="1"/>
<circle cx="1248" cy="1991.42" r="7.5" fill="#1E5689" stroke="#111" stroke-width="1"/>
<circle cx="1248" cy="1997.22" r="7.5" fill="#1E5689" stroke="#111" stroke-width="1"/>
<circle cx="1248" cy="2016.58" r="7.5" fill="#1E5689" stroke="#111" stroke-width="1"/>
<circle cx="1275" cy="2006.9" r="7.5" fill="#A0221C" stroke="#111" stroke-width="1"/>
<circle cx="1275" cy="2011.74" r="7.5" fill="#A0221C" stroke="#111" stroke-width="1"/>
<circle cx="1275" cy="2014.64" r="7.5" fill="#A0221C" stroke="#111" stroke-width="1"/>
<circle cx="1275" cy="2017.54" r="7.5" fill="#A0221C" stroke="#111" stroke-width="1"/>
<circle cx="1275" cy="2019.48" r="7.5" fill="#A0221C" stroke="#111" stroke-width="1"/>
<circle cx="1302.25" cy="1953.69" r="7.5" fill="#F26A47" stroke="#111" stroke-width="1"/>
<circle cx="1302.25" cy="1971.1" r="7.5" fill="#F26A47" stroke="#111" stroke-width="1"/>
<circle cx="1302.25" cy="1977.88" r="7.5" fill="#F26A47" stroke="#111" stroke-width="1"/>
<circle cx="1302.25" cy="1983.68" r="7.5" fill="#F26A47" stroke="#111" stroke-width="1"/>
<circle cx="1302.25" cy="1993.36" r="7.5" fill="#F26A47" stroke="#111" stroke-width="1"/>
<circle cx="1302.25" cy="2016.58" r="7.5" fill="#F26A47" stroke="#111" stroke-width="1"/>
<circle cx="1329.25" cy="2026.25" r="7.5" fill="#FDC84F" stroke="#111" stroke-width="1"/>
<line x1="1237.5" y1="1991.42" x2="1258.5" y2="1991.42" stroke="#1a1a1a" stroke-width="1.3"/>
<line x1="1264.5" y1="2014.16" x2="1285.5" y2="2014.16" stroke="#1a1a1a" stroke-width="1.3"/>
<line x1="1291.75" y1="1980.78" x2="1312.75" y2="1980.78" stroke="#1a1a1a" stroke-width="1.3"/>
<line x1="1318.75" y1="2026.25" x2="1339.75" y2="2026.25" stroke="#1a1a1a" stroke-width="1.3"/>
<rect x="1231.75" y="1890.5" width="114" height="145" fill="none" stroke="#7F7F7F" stroke-width="1.2"/>
<line x1="1273.75" y1="1909.25" x2="1303.25" y2="1909.25" stroke="#111" stroke-width="3"/>
<text x="1290" y="1913.85" font-size="21" text-anchor="middle" stroke="#111" stroke-width="0.7">*</text>
<line x1="1246.25" y1="1931.5" x2="1275.75" y2="1931.5" stroke="#111" stroke-width="3"/>
<text x="1267.5" y="1926.25" font-size="19.5" text-anchor="middle">0.062</text>
<line x1="1354.5" y1="2002.06" x2="1468.5" y2="2002.06" stroke="#F4F4F4" stroke-width="0.8"/>
<line x1="1354.5" y1="1953.69" x2="1468.5" y2="1953.69" stroke="#F4F4F4" stroke-width="0.8"/>
<line x1="1354.5" y1="1905.31" x2="1468.5" y2="1905.31" stroke="#F4F4F4" stroke-width="0.8"/>
<line x1="1354.5" y1="2026.25" x2="1468.5" y2="2026.25" stroke="#EBEBEB" stroke-width="1.1"/>
<line x1="1354.5" y1="1977.88" x2="1468.5" y2="1977.88" stroke="#EBEBEB" stroke-width="1.1"/>
<line x1="1354.5" y1="1929.5" x2="1468.5" y2="1929.5" stroke="#EBEBEB" stroke-width="1.1"/>
<line x1="1370.75" y1="1890.5" x2="1370.75" y2="2035.5" stroke="#EBEBEB" stroke-width="1.1"/>
<line x1="1397.75" y1="1890.5" x2="1397.75" y2="2035.5" stroke="#EBEBEB" stroke-width="1.1"/>
<line x1="1425" y1="1890.5" x2="1425" y2="2035.5" stroke="#EBEBEB" stroke-width="1.1"/>
<line x1="1452" y1="1890.5" x2="1452" y2="2035.5" stroke="#EBEBEB" stroke-width="1.1"/>
<rect x="1354.5" y="1858.75" width="114" height="31.75" fill="#fff" stroke="#7F7F7F" stroke-width="1.2"/>
<text x="1414" y="1881.62" font-size="20" text-anchor="middle">ISG20</text>
<circle cx="1370.75" cy="1957.56" r="7.5" fill="#1E5689" stroke="#111" stroke-width="1"/>
<circle cx="1370.75" cy="1987.55" r="7.5" fill="#1E5689" stroke="#111" stroke-width="1"/>
<circle cx="1370.75" cy="1992.39" r="7.5" fill="#1E5689" stroke="#111" stroke-width="1"/>
<circle cx="1370.75" cy="1996.26" r="7.5" fill="#1E5689" stroke="#111" stroke-width="1"/>
<circle cx="1370.75" cy="2001.1" r="7.5" fill="#1E5689" stroke="#111" stroke-width="1"/>
<circle cx="1370.75" cy="2016.58" r="7.5" fill="#1E5689" stroke="#111" stroke-width="1"/>
<circle cx="1397.75" cy="2006.9" r="7.5" fill="#A0221C" stroke="#111" stroke-width="1"/>
<circle cx="1397.75" cy="2009.8" r="7.5" fill="#A0221C" stroke="#111" stroke-width="1"/>
<circle cx="1397.75" cy="2013.67" r="7.5" fill="#A0221C" stroke="#111" stroke-width="1"/>
<circle cx="1397.75" cy="2016.58" r="7.5" fill="#A0221C" stroke="#111" stroke-width="1"/>
<circle cx="1397.75" cy="2019.48" r="7.5" fill="#A0221C" stroke="#111" stroke-width="1"/>
<circle cx="1425" cy="1960.46" r="7.5" fill="#F26A47" stroke="#111" stroke-width="1"/>
<circle cx="1425" cy="1966.27" r="7.5" fill="#F26A47" stroke="#111" stroke-width="1"/>
<circle cx="1425" cy="1973.04" r="7.5" fill="#F26A47" stroke="#111" stroke-width="1"/>
<circle cx="1425" cy="1981.74" r="7.5" fill="#F26A47" stroke="#111" stroke-width="1"/>
<circle cx="1425" cy="2005.93" r="7.5" fill="#F26A47" stroke="#111" stroke-width="1"/>
<circle cx="1452" cy="2026.25" r="7.5" fill="#FDC84F" stroke="#111" stroke-width="1"/>
<line x1="1360.25" y1="1996.26" x2="1381.25" y2="1996.26" stroke="#1a1a1a" stroke-width="1.3"/>
<line x1="1387.25" y1="2013.67" x2="1408.25" y2="2013.67" stroke="#1a1a1a" stroke-width="1.3"/>
<line x1="1414.5" y1="1972.07" x2="1435.5" y2="1972.07" stroke="#1a1a1a" stroke-width="1.3"/>
<line x1="1441.5" y1="2026.25" x2="1462.5" y2="2026.25" stroke="#1a1a1a" stroke-width="1.3"/>
<rect x="1354.5" y="1890.5" width="114" height="145" fill="none" stroke="#7F7F7F" stroke-width="1.2"/>
<line x1="1395.5" y1="1909.25" x2="1425.5" y2="1909.25" stroke="#111" stroke-width="3"/>
<text x="1412.5" y="1913.85" font-size="21" text-anchor="middle" stroke="#111" stroke-width="0.7">*</text>
<line x1="1477.5" y1="2002.06" x2="1591.5" y2="2002.06" stroke="#F4F4F4" stroke-width="0.8"/>
<line x1="1477.5" y1="1953.69" x2="1591.5" y2="1953.69" stroke="#F4F4F4" stroke-width="0.8"/>
<line x1="1477.5" y1="1905.31" x2="1591.5" y2="1905.31" stroke="#F4F4F4" stroke-width="0.8"/>
<line x1="1477.5" y1="2026.25" x2="1591.5" y2="2026.25" stroke="#EBEBEB" stroke-width="1.1"/>
<line x1="1477.5" y1="1977.88" x2="1591.5" y2="1977.88" stroke="#EBEBEB" stroke-width="1.1"/>
<line x1="1477.5" y1="1929.5" x2="1591.5" y2="1929.5" stroke="#EBEBEB" stroke-width="1.1"/>
<line x1="1493.75" y1="1890.5" x2="1493.75" y2="2035.5" stroke="#EBEBEB" stroke-width="1.1"/>
<line x1="1520.75" y1="1890.5" x2="1520.75" y2="2035.5" stroke="#EBEBEB" stroke-width="1.1"/>
<line x1="1548" y1="1890.5" x2="1548" y2="2035.5" stroke="#EBEBEB" stroke-width="1.1"/>
<line x1="1575" y1="1890.5" x2="1575" y2="2035.5" stroke="#EBEBEB" stroke-width="1.1"/>
<rect x="1477.5" y="1858.75" width="114" height="31.75" fill="#fff" stroke="#7F7F7F" stroke-width="1.2"/>
<text x="1537" y="1881.62" font-size="20" text-anchor="middle">MX2</text>
<circle cx="1493.75" cy="1951.75" r="7.5" fill="#1E5689" stroke="#111" stroke-width="1"/>
<circle cx="1493.75" cy="1974.01" r="7.5" fill="#1E5689" stroke="#111" stroke-width="1"/>
<circle cx="1493.75" cy="1976.91" r="7.5" fill="#1E5689" stroke="#111" stroke-width="1"/>
<circle cx="1493.75" cy="1987.55" r="7.5" fill="#1E5689" stroke="#111" stroke-width="1"/>
<circle cx="1493.75" cy="1997.22" r="7.5" fill="#1E5689" stroke="#111" stroke-width="1"/>
<circle cx="1493.75" cy="2011.74" r="7.5" fill="#1E5689" stroke="#111" stroke-width="1"/>
<circle cx="1520.75" cy="1991.42" r="7.5" fill="#A0221C" stroke="#111" stroke-width="1"/>
<circle cx="1520.75" cy="2004.96" r="7.5" fill="#A0221C" stroke="#111" stroke-width="1"/>
<circle cx="1520.75" cy="2008.84" r="7.5" fill="#A0221C" stroke="#111" stroke-width="1"/>
<circle cx="1520.75" cy="2011.74" r="7.5" fill="#A0221C" stroke="#111" stroke-width="1"/>
<circle cx="1548" cy="1980.78" r="7.5" fill="#F26A47" stroke="#111" stroke-width="1"/>
<circle cx="1548" cy="1983.68" r="7.5" fill="#F26A47" stroke="#111" stroke-width="1"/>
<circle cx="1548" cy="1990.45" r="7.5" fill="#F26A47" stroke="#111" stroke-width="1"/>
<circle cx="1548" cy="1995.29" r="7.5" fill="#F26A47" stroke="#111" stroke-width="1"/>
<circle cx="1548" cy="2018.51" r="7.5" fill="#F26A47" stroke="#111" stroke-width="1"/>
<circle cx="1575" cy="2026.25" r="7.5" fill="#FDC84F" stroke="#111" stroke-width="1"/>
<line x1="1483.25" y1="1982.71" x2="1504.25" y2="1982.71" stroke="#1a1a1a" stroke-width="1.3"/>
<line x1="1510.25" y1="2006.9" x2="1531.25" y2="2006.9" stroke="#1a1a1a" stroke-width="1.3"/>
<line x1="1537.5" y1="1995.29" x2="1558.5" y2="1995.29" stroke="#1a1a1a" stroke-width="1.3"/>
<line x1="1564.5" y1="2026.25" x2="1585.5" y2="2026.25" stroke="#1a1a1a" stroke-width="1.3"/>
<rect x="1477.5" y="1890.5" width="114" height="145" fill="none" stroke="#7F7F7F" stroke-width="1.2"/>
<text x="1349.4" y="2063.75" font-size="20" text-anchor="middle">Type</text>
<text transform="translate(1027.5 1773) rotate(-90)" font-size="19.5" text-anchor="middle">Percentage of total normalized</text>
<text transform="translate(1048 1773) rotate(-90)" font-size="19.5" text-anchor="middle">expression at 4dpi</text>
<text x="1640" y="1737.5" font-size="20">Type</text>
<rect x="1640.5" y="1753.75" width="27.5" height="27" fill="#1E5689"/>
<rect x="1640.5" y="1803.75" width="27.5" height="27" fill="#A0221C"/>
<rect x="1640.5" y="1855" width="27.5" height="27" fill="#F26A47"/>
<rect x="1640.5" y="1896.25" width="27.5" height="27" fill="#FDC84F"/>
<text x="1682" y="1762.5" font-size="20">CD163+MRC1+</text>
<text x="1682" y="1786.25" font-size="20">Mac</text>
<text x="1682" y="1812.5" font-size="20">CD163+MRC1+</text>
<text x="1682" y="1836.25" font-size="20">TREM2+ Mac</text>
<text x="1682" y="1862.5" font-size="20">CD163+MRC1−</text>
<text x="1682" y="1886.25" font-size="20">Mac</text>
<text x="1682" y="1916.25" font-size="20">CD16+ Mono</text>
<text x="1413" y="26.3" font-size="40">c</text>
<circle cx="1589.4" cy="53.2" r="3" fill="#DAB9F0"/>
<circle cx="1614" cy="53.2" r="3.7" fill="#D6D6D6"/>
<circle cx="1638.3" cy="53.2" r="7" fill="#4549A8"/>
<circle cx="1662.9" cy="53.2" r="1.9" fill="#CFA3EA"/>
<circle cx="1687" cy="53.2" r="1.1" fill="#CFA3EA"/>
<circle cx="1711.4" cy="53.2" r="1.7" fill="#CFA3EA"/>
<circle cx="1735.9" cy="53.2" r="1.9" fill="#CFA3EA"/>
<circle cx="1760.1" cy="53.2" r="1" fill="#CFA3EA"/>
<circle cx="1784.6" cy="53.2" r="4.8" fill="#B388DA"/>
<circle cx="1808.8" cy="53.2" r="1.1" fill="#CFA3EA"/>
<circle cx="1833.4" cy="53.2" r="1" fill="#CFA3EA"/>
<circle cx="1589.4" cy="101.4" r="4.5" fill="#CFA2E8"/>
<circle cx="1614" cy="101.4" r="5.8" fill="#7A52B8"/>
<circle cx="1638.3" cy="101.4" r="3.6" fill="#D3A8EC"/>
<circle cx="1662.9" cy="101.4" r="3.1" fill="#DAB8F0"/>
<circle cx="1687" cy="101.4" r="1.5" fill="#C79BE6"/>
<circle cx="1711.4" cy="101.4" r="1.6" fill="#C79BE6"/>
<circle cx="1735.9" cy="101.4" r="2.1" fill="#CFA5E8"/>
<circle cx="1760.1" cy="101.4" r="2.9" fill="#A47AD2"/>
<circle cx="1784.6" cy="101.4" r="6.6" fill="#4549A8"/>
<circle cx="1808.8" cy="101.4" r="4.1" fill="#4549A8"/>
<circle cx="1833.4" cy="101.4" r="1" fill="#CFA3EA"/>
<circle cx="1589.4" cy="149.7" r="5.7" fill="#AD84D6"/>
<circle cx="1614" cy="149.7" r="6.3" fill="#B08ADA"/>
<circle cx="1638.3" cy="149.7" r="4.6" fill="#D3A9EC"/>
<circle cx="1662.9" cy="149.7" r="5.2" fill="#BD90E0"/>
<circle cx="1687" cy="149.7" r="2.3" fill="#C69AE5"/>
<circle cx="1711.4" cy="149.7" r="2.5" fill="#C99FE7"/>
<circle cx="1735.9" cy="149.7" r="3.4" fill="#CDA3E8"/>
<circle cx="1760.1" cy="149.7" r="5.7" fill="#4549A8"/>
<circle cx="1784.6" cy="149.7" r="4.5" fill="#D2A8EB"/>
<circle cx="1808.8" cy="149.7" r="2.1" fill="#D3ABEC"/>
<circle cx="1833.4" cy="149.7" r="1.1" fill="#4549A8"/>
<circle cx="1589.4" cy="197.8" r="7.5" fill="#4549A8"/>
<circle cx="1614" cy="197.8" r="7.7" fill="#7A57B6"/>
<circle cx="1638.3" cy="197.8" r="5.6" fill="#D2A9EB"/>
<circle cx="1662.9" cy="197.8" r="7.8" fill="#4549A8"/>
<circle cx="1687" cy="197.8" r="7.1" fill="#4549A8"/>
<circle cx="1711.4" cy="197.8" r="7.4" fill="#4549A8"/>
<circle cx="1735.9" cy="197.8" r="8" fill="#4549A8"/>
<circle cx="1760.1" cy="197.8" r="1.6" fill="#D3ABEC"/>
<circle cx="1784.6" cy="197.8" r="1.7" fill="#D8B5EF"/>
<circle cx="1808.8" cy="197.8" r="2.8" fill="#B98EDD"/>
<circle cx="1833.4" cy="197.8" r="1.1" fill="#D3ABEC"/>
<line x1="1575" y1="23.75" x2="1575" y2="227.7" stroke="#000" stroke-width="2"/>
<line x1="1574" y1="226.7" x2="1848.8" y2="226.7" stroke="#000" stroke-width="2"/>
<line x1="1571" y1="53.2" x2="1575" y2="53.2" stroke="#000" stroke-width="1.5"/>
<line x1="1571" y1="101.4" x2="1575" y2="101.4" stroke="#000" stroke-width="1.5"/>
<line x1="1571" y1="149.7" x2="1575" y2="149.7" stroke="#000" stroke-width="1.5"/>
<line x1="1571" y1="197.8" x2="1575" y2="197.8" stroke="#000" stroke-width="1.5"/>
<line x1="1589.4" y1="226.7" x2="1589.4" y2="230.6" stroke="#000" stroke-width="1.5"/>
<line x1="1614" y1="226.7" x2="1614" y2="230.6" stroke="#000" stroke-width="1.5"/>
<line x1="1638.3" y1="226.7" x2="1638.3" y2="230.6" stroke="#000" stroke-width="1.5"/>
<line x1="1662.9" y1="226.7" x2="1662.9" y2="230.6" stroke="#000" stroke-width="1.5"/>
<line x1="1687" y1="226.7" x2="1687" y2="230.6" stroke="#000" stroke-width="1.5"/>
<line x1="1711.4" y1="226.7" x2="1711.4" y2="230.6" stroke="#000" stroke-width="1.5"/>
<line x1="1735.9" y1="226.7" x2="1735.9" y2="230.6" stroke="#000" stroke-width="1.5"/>
<line x1="1760.1" y1="226.7" x2="1760.1" y2="230.6" stroke="#000" stroke-width="1.5"/>
<line x1="1784.6" y1="226.7" x2="1784.6" y2="230.6" stroke="#000" stroke-width="1.5"/>
<line x1="1808.8" y1="226.7" x2="1808.8" y2="230.6" stroke="#000" stroke-width="1.5"/>
<line x1="1833.4" y1="226.7" x2="1833.4" y2="230.6" stroke="#000" stroke-width="1.5"/>
<text transform="translate(1599.4 240.8) rotate(-45)" font-size="14" text-anchor="end">CD163</text>
<text transform="translate(1624 240.8) rotate(-45)" font-size="14" text-anchor="end">CD14</text>
<text transform="translate(1648.3 240.8) rotate(-45)" font-size="14" text-anchor="end">FCGR3</text>
<text transform="translate(1672.9 240.8) rotate(-45)" font-size="14" text-anchor="end">MRC1</text>
<text transform="translate(1697 240.8) rotate(-45)" font-size="14" text-anchor="end">CHIT1</text>
<text transform="translate(1721.4 240.8) rotate(-45)" font-size="14" text-anchor="end">MARCO</text>
<text transform="translate(1745.9 240.8) rotate(-45)" font-size="14" text-anchor="end">FABP4</text>
<text transform="translate(1770.1 240.8) rotate(-45)" font-size="14" text-anchor="end">TREM2</text>
<text transform="translate(1794.6 240.8) rotate(-45)" font-size="14" text-anchor="end">APOBEC3A</text>
<text transform="translate(1818.8 240.8) rotate(-45)" font-size="14" text-anchor="end">S100A8</text>
<text transform="translate(1843.4 240.8) rotate(-45)" font-size="14" text-anchor="end">LYVE1</text>
<text x="1709.2" y="308.6" font-size="13.5" text-anchor="middle">Features</text>
<text x="1560" y="58.75" font-size="19.5" text-anchor="end">CD16+ Mono</text>
<text x="1430" y="108.75" font-size="19.5">CD163+MRC1−</text>
<text x="1430" y="131.25" font-size="19.5">Mac</text>
<text x="1431.25" y="156.25" font-size="19.5">CD163+MRC1+</text>
<text x="1431.25" y="178.75" font-size="19.5">TREM2+ Mac</text>
<text x="1431.25" y="205" font-size="19.5">CD163+MRC1+</text>
<text x="1431.25" y="226.25" font-size="19.5">Mac</text>
<text transform="translate(1414.6 129.2) rotate(-90)" font-size="22" text-anchor="middle">Identity</text>
<text x="1864" y="33.2" font-size="15">Percent Expressed</text>
<circle cx="1871.6" cy="51" r="1" fill="#000"/>
<text x="1888" y="55.5" font-size="12.5">0</text>
<circle cx="1871.6" cy="68" r="3.2" fill="#000"/>
<text x="1888" y="72.3" font-size="12.5">25</text>
<circle cx="1871.6" cy="84.4" r="4.7" fill="#000"/>
<text x="1888" y="88.6" font-size="12.5">50</text>
<circle cx="1871.6" cy="101.4" r="6.6" fill="#000"/>
<text x="1888" y="105.6" font-size="12.5">75</text>
<text x="1864" y="137.1" font-size="15">Average Expression</text>
<defs><linearGradient id="cb" x1="0" y1="0" x2="0" y2="1"><stop offset="0" stop-color="#4A4FA8"/><stop offset="0.17" stop-color="#5A4BAE"/><stop offset="0.35" stop-color="#7A55BC"/><stop offset="0.52" stop-color="#A27AD6"/><stop offset="0.69" stop-color="#C9A3E8"/><stop offset="0.87" stop-color="#DDC5F0"/><stop offset="1" stop-color="#D3D3D3"/></linearGradient></defs>
<rect x="1864" y="146.7" width="16" height="83.5" fill="url(#cb)"/>
<line x1="1864" y1="161.4" x2="1867.2" y2="161.4" stroke="#fff" stroke-width="1"/>
<line x1="1876.8" y1="161.4" x2="1880" y2="161.4" stroke="#fff" stroke-width="1"/>
<text x="1888" y="165.8" font-size="12.5">1.0</text>
<line x1="1864" y1="175.6" x2="1867.2" y2="175.6" stroke="#fff" stroke-width="1"/>
<line x1="1876.8" y1="175.6" x2="1880" y2="175.6" stroke="#fff" stroke-width="1"/>
<text x="1888" y="180.1" font-size="12.5">0.5</text>
<line x1="1864" y1="190" x2="1867.2" y2="190" stroke="#fff" stroke-width="1"/>
<line x1="1876.8" y1="190" x2="1880" y2="190" stroke="#fff" stroke-width="1"/>
<text x="1888" y="194.5" font-size="12.5">0.0</text>
<line x1="1864" y1="204.5" x2="1867.2" y2="204.5" stroke="#fff" stroke-width="1"/>
<line x1="1876.8" y1="204.5" x2="1880" y2="204.5" stroke="#fff" stroke-width="1"/>
<text x="1888" y="209.2" font-size="12.5">−0.5</text>
<line x1="1864" y1="219" x2="1867.2" y2="219" stroke="#fff" stroke-width="1"/>
<line x1="1876.8" y1="219" x2="1880" y2="219" stroke="#fff" stroke-width="1"/>
<text x="1888" y="223.5" font-size="12.5">−1.0</text>
<text x="-1" y="26" font-size="40">a</text>
<path d="M267.6 145.54h1.4M195.13 166.3h1.4M256.78 221.75h1.4M274.72 149.63h1.4M257.39 215.32h1.4M114.2 131.16h1.4M279.81 191.89h1.4M159.74 117.2h1.4M222.2 155.93h1.4M165.72 206.56h1.4M110.66 200.12h1.4M116.89 132.24h1.4M253.61 227.37h1.4M270.58 198.21h1.4M129.65 228.86h1.4M165.28 131.96h1.4M157.74 114.1h1.4M69.28 165.38h1.4M62.31 150.65h1.4M166.18 140.83h1.4M211.8 160.61h1.4M107.21 131.54h1.4M139.63 220.32h1.4M196.3 205.6h1.4M93.88 132.44h1.4M234.5 223.21h1.4M162.47 122.63h1.4M258.66 215.83h1.4M66.81 160.67h1.4M188.08 167.22h1.4M61.55 139.06h1.4M157.13 113.12h1.4M115.28 131.25h1.4M139.53 221.46h1.4M170.39 149.1h1.4M214 159.02h1.4M194.77 206.47h1.4M263.6 144.01h1.4M97.74 132.43h1.4M230.67 218.85h1.4M98 193.06h1.4M263.37 204.54h1.4M134.21 225.23h1.4M232.5 149.35h1.4M226.65 216.75h1.4M182.75 197.16h1.4M190.86 206.74h1.4M176.9 159.81h1.4M178.08 161.4h1.4M83.43 181.84h1.4M78.37 178.64h1.4M158.81 116.23h1.4M226.4 152.85h1.4M124.22 209.7h1.4M142.59 219.74h1.4M107.54 130.88h1.4M271 147.02h1.4M275.99 195.22h1.4M208.22 161.27h1.4M138.97 111.96h1.4M231.52 150.81h1.4M119.19 206.4h1.4M258.92 210.46h1.4M270.9 199.49h1.4M265.68 202.21h1.4M147.87 108.59h1.4M206.88 207.8h1.4M124.61 224.79h1.4M280.41 170.31h1.4M133.85 225.81h1.4M93.14 134.99h1.4M117.51 133.18h1.4M201.75 164.18h1.4M280.49 188.15h1.4M165.69 136.08h1.4M247.74 232.92h1.4M62.37 145.8h1.4M259.86 213.28h1.4M145.18 107.41h1.4M65.48 135.53h1.4M150.4 214.15h1.4M177.53 163.83h1.4M165.2 139.61h1.4M204.73 207.81h1.4M114.01 202.49h1.4M76.35 132.34h1.4M234.86 149.13h1.4M269.4 146.86h1.4M198.16 164.84h1.4M172.53 200.25h1.4M254.73 222.78h1.4M224.53 216.28h1.4M72.48 131.9h1.4M187.89 205.05h1.4M72.91 133.47h1.4M257.37 218.83h1.4M136.77 224h1.4M64.78 133.1h1.4M141.36 220.29h1.4M236.47 223.12h1.4M162.95 130h1.4M255.57 143.08h1.4M125.24 226.02h1.4M278.05 189.31h1.4M65.21 155.83h1.4M143.68 109.92h1.4M169.97 201.42h1.4M204.33 162.78h1.4M113.18 132.1h1.4M166.36 205.88h1.4M160.26 209.07h1.4M144.96 107.24h1.4M246.9 145.6h1.4M206.62 162.1h1.4M239.96 226.65h1.4M251.49 145.4h1.4M238.98 145.52h1.4M95.1 190h1.4M284.23 158.67h1.4M167.74 141.83h1.4M276.41 193.41h1.4M244.28 227.66h1.4M117.33 131.54h1.4M181.18 196.04h1.4M144.03 218.72h1.4M209.25 209.06h1.4M247.16 228.94h1.4M72.28 170.31h1.4M205.72 162.3h1.4M277.59 151.18h1.4M117.93 130.05h1.4M280.05 189.06h1.4M179.55 161.19h1.4M87.21 133.36h1.4M137.57 224.87h1.4M128.75 227.71h1.4M241.49 145.38h1.4M69.24 166.65h1.4M280.49 184.36h1.4M166.75 205.63h1.4M228.94 151.88h1.4M164.56 131h1.4M100.74 132.8h1.4M258.51 212.73h1.4M72.39 134.16h1.4M131.62 113.58h1.4M241.66 226.32h1.4M182.83 199.73h1.4M256.29 144.61h1.4M83.46 182.41h1.4M132.19 226.99h1.4M248.76 228.86h1.4M69.38 166.32h1.4M127.52 123.32h1.4M272.73 197.48h1.4M220.76 214.52h1.4M130.61 224.85h1.4M258.2 215.42h1.4M176.09 160.86h1.4M192.36 166.1h1.4M233.87 220.88h1.4M120.7 130.72h1.4M222.45 153.21h1.4M90.07 186.94h1.4M137.06 221.54h1.4M164.6 129.23h1.4M121.6 218.65h1.4M72.92 171.37h1.4M120.72 219.49h1.4M63.53 133.87h1.4M223.38 214.75h1.4M118.37 131.4h1.4M245.49 145.24h1.4M279.08 168.6h1.4M271.6 199.08h1.4M135.63 110.75h1.4M76.59 178.18h1.4M223.21 154.94h1.4M121.66 222.5h1.4M103.62 132.12h1.4M256.56 145.3h1.4M214.76 211.65h1.4M71.84 133.23h1.4M95.8 191.59h1.4M63.14 133.8h1.4M214.33 158.97h1.4M261.18 145.8h1.4M78.28 178.19h1.4M63.34 133.51h1.4M259.77 207.58h1.4M273.38 197.78h1.4M82.27 134.79h1.4M74.22 174.99h1.4M205.7 162.33h1.4M263.22 144.56h1.4M211.46 161.07h1.4M278.65 180.47h1.4M111.72 132.07h1.4M141.24 221.17h1.4M134.81 222.71h1.4M187.94 204.85h1.4M115.02 205.67h1.4M169.15 201.32h1.4M191.56 206.99h1.4M208.91 159.1h1.4M117.86 131.41h1.4M192.34 206.96h1.4M65.87 158.46h1.4M134.38 111.27h1.4M162.36 120.37h1.4M59.94 144.57h1.4M110.44 201.55h1.4M126.7 224.01h1.4M103.99 195.52h1.4M250.98 230.73h1.4M167.91 201.32h1.4M182.63 197.04h1.4M129.65 114.6h1.4M234.41 220.66h1.4M132.01 116.49h1.4M210.98 160.11h1.4M214.97 157.62h1.4M245.46 144.93h1.4M125.98 124.47h1.4M128.01 127.91h1.4M179.91 167.72h1.4M277.11 191.48h1.4M159.79 210.19h1.4M129 225.94h1.4M133.45 224.51h1.4M234.51 148.32h1.4M94.07 131.98h1.4M59.79 142.29h1.4M75.04 131.9h1.4M273.42 197.46h1.4M207.32 159.95h1.4M211.51 158.95h1.4M258.89 215.91h1.4M130.75 115.28h1.4M112.65 201.48h1.4M92.02 189.18h1.4M99.33 190.9h1.4M230.86 153.06h1.4M180.91 194.07h1.4M61.43 148.7h1.4M81.19 183.16h1.4M265.25 144.58h1.4M220.07 213.17h1.4M181.57 166.46h1.4M175.12 157.41h1.4M116.4 205.72h1.4M61.9 145.98h1.4M131.43 116.11h1.4M85.87 183.82h1.4M139.54 222.04h1.4M59.75 140.68h1.4M255.17 222.66h1.4M115.05 204.21h1.4M97.18 191.9h1.4M160.2 121.76h1.4M119.14 205.19h1.4M240.04 225.51h1.4M207.07 206.85h1.4M176.55 196.19h1.4M212.22 159.45h1.4M160.43 123.2h1.4M178.09 162.32h1.4M268.87 145.03h1.4M63.65 134.66h1.4M257.43 221.34h1.4M186.04 167.69h1.4M275.87 150.36h1.4M98.4 133.36h1.4M60.4 138.88h1.4M114.43 204.04h1.4M111.8 130.81h1.4M87.79 183.49h1.4M62.05 136.34h1.4M112.13 200.72h1.4M238.11 223.46h1.4M115.04 203.62h1.4M178.67 163.04h1.4M245 144.46h1.4M124.23 211.54h1.4M89.08 134.17h1.4M164.29 207.7h1.4M59.73 139.25h1.4M217.01 210.65h1.4M103.15 131.91h1.4M90.56 188.3h1.4M279.86 169.79h1.4M128.84 120.96h1.4M279.97 155.03h1.4M115.48 203.14h1.4M174.3 198.51h1.4M64.23 153.31h1.4M121.15 208.47h1.4M180.75 166.12h1.4M185.76 200.54h1.4M176.54 159.64h1.4M140.89 221.13h1.4M208.86 161.49h1.4M245.89 229.82h1.4M121.83 207.33h1.4M170.12 151.26h1.4M138.7 221.38h1.4M230.71 149.76h1.4M71.99 131.35h1.4M278.45 179.67h1.4M161.24 117.21h1.4M194.58 166.51h1.4M280.56 152.25h1.4M78.12 178.73h1.4M88.39 185.54h1.4M113.06 201.15h1.4M274.49 197.78h1.4M241.7 227.43h1.4M66.54 132.87h1.4M129.68 117.21h1.4M122.66 209.15h1.4M120.84 217.19h1.4M95.19 191.51h1.4M89.79 132.62h1.4M73.08 171.51h1.4M277.36 151.55h1.4M126.79 225.91h1.4M202.29 163.64h1.4M162.12 125.52h1.4M235.17 221.79h1.4M115.04 130.3h1.4M100.06 131.94h1.4M137.43 221.58h1.4M87.75 186.28h1.4M65.34 155.29h1.4M65.94 157.59h1.4M96.15 191.79h1.4M177.75 194.1h1.4M213.98 210.8h1.4M186.37 167h1.4M63.19 153.79h1.4M275.49 194.61h1.4M159.88 117.57h1.4M62.63 150.3h1.4M154.34 110.14h1.4M173.23 155.48h1.4M280.51 187.71h1.4M155.31 109.22h1.4M142.88 218.77h1.4M278.92 152.13h1.4M170.49 203.71h1.4M244.54 228.48h1.4M280.46 153.95h1.4M279.02 177.46h1.4M159.49 116.23h1.4M209.3 209.79h1.4M205.52 207.54h1.4M79.74 133.13h1.4M151.72 213.06h1.4M71.49 168.13h1.4M75.44 174.53h1.4M90.38 133.04h1.4M65.81 135.2h1.4M229.86 216.87h1.4M158.57 114.34h1.4M110.67 203.48h1.4M85.7 133.69h1.4M115.11 202.42h1.4M257.19 220.46h1.4M138.16 111.16h1.4M222.24 215.07h1.4M225.68 153.86h1.4M63.09 153.63h1.4M147.99 107.99h1.4M138.36 110.88h1.4M257.11 218.13h1.4M238.65 146.02h1.4M117.89 205.3h1.4M274.21 148.82h1.4M182.13 164.89h1.4M215.45 211.95h1.4M237.44 221.82h1.4M255.73 220.83h1.4M82.35 181.14h1.4M164.71 131.26h1.4M67.51 162.89h1.4M259.76 209.46h1.4M235.5 146.2h1.4M153.92 212.9h1.4M139.44 111.3h1.4M150.01 216.03h1.4M80.1 181.06h1.4M102.26 194.46h1.4M123.28 221.62h1.4M230.63 151.69h1.4M149.29 215.06h1.4M236.55 147.63h1.4M207.89 161.81h1.4M142.61 219.22h1.4M120.83 132.14h1.4M123.86 208.67h1.4M84.48 134.74h1.4M240.18 147.03h1.4M119.71 130.8h1.4M279.11 192.34h1.4M175.14 154.36h1.4M175.38 195.92h1.4M107.89 132.78h1.4M137.9 222.76h1.4M135.79 113.44h1.4M158.46 113.38h1.4M281.67 160.66h1.4M184.68 167.11h1.4M236.4 147.74h1.4M274.29 150.45h1.4M165.38 131.95h1.4M62.44 152.83h1.4M192.83 166.02h1.4M234.51 220.55h1.4M279.49 189.05h1.4M282.23 157.95h1.4M190.42 205.83h1.4M183.53 198.26h1.4M270.2 200.48h1.4M281.92 158.71h1.4M257.93 216.19h1.4M263.2 146.18h1.4M183.2 200.36h1.4M170.81 151.36h1.4M100.24 132.3h1.4M195.79 166.4h1.4M79.49 179.21h1.4M92.12 188.9h1.4M280.41 169.93h1.4M65.68 163.38h1.4M279.32 154h1.4M171.67 150.41h1.4M114 204.39h1.4M95.91 190.92h1.4M102.49 132.14h1.4M224.24 215.75h1.4M167.29 201.75h1.4M89.89 185.81h1.4M188.08 167.76h1.4M253.02 144.32h1.4M274.56 197.52h1.4M149.15 215.03h1.4M125.88 129.99h1.4M281.1 153.98h1.4M126.58 125.39h1.4M187.89 202.7h1.4M125.69 226.04h1.4M167.2 137.63h1.4M255.39 227.41h1.4M124.9 225.19h1.4M104.97 131.45h1.4M118.53 207.33h1.4M81.71 131.58h1.4M198.01 164.88h1.4M78.37 133.61h1.4M179.06 195.26h1.4M205.2 161.9h1.4M129.28 120.16h1.4M94.68 132.87h1.4M272.56 198.75h1.4M68.44 132.16h1.4M156.7 111.28h1.4M280.6 166.79h1.4M281.13 166.29h1.4M143.53 219.39h1.4M146.63 216.48h1.4M262.27 145.13h1.4M214.57 157.87h1.4M123.68 209.68h1.4M258.74 215.53h1.4M222.66 155.81h1.4M86.93 182.87h1.4M260.8 209.54h1.4M196.05 165.75h1.4M139.24 220.56h1.4M169.22 202.34h1.4M70.84 170.52h1.4M236.42 223.2h1.4M281.52 155.34h1.4M64.6 155.13h1.4M192.61 206.67h1.4M127.9 117.27h1.4M167.87 145.62h1.4M151.87 107.34h1.4M85.1 132.96h1.4M84.33 134.38h1.4M209.58 210.84h1.4M85.58 133.47h1.4M255.02 142.76h1.4M205.38 163.34h1.4M271.02 146.64h1.4M121.22 216.27h1.4M173.52 155.61h1.4M277.5 180.04h1.4M127.73 122.83h1.4M134.93 225.36h1.4" stroke="#C9177F" stroke-width="1.9" stroke-linecap="round" fill="none"/>
<polygon points="60.11,140.86 63.94,134.47 71.6,132.56 80.53,134.47 90.75,133.83 100.96,131.92 111.17,131.28 121.39,131.28 126.49,128.09 130.32,116.6 136.71,111.49 144.37,109.58 152.03,107.66 157.13,110.22 160.96,117.88 164.79,129.37 167.35,140.86 171.18,149.79 176.28,158.73 181.39,166.39 189.05,167.67 199.26,165.11 208.2,161.28 218.41,157.45 228.62,152.35 236.28,148.52 243.94,144.69 254.16,144.05 264.37,144.69 272.03,147.24 279.69,152.35 283.52,158.73 280.97,167.67 278.41,177.88 280.97,186.81 278.41,194.47 272.03,199.58 265.65,204.69 260.54,209.79 257.99,218.73 255.43,227.67 247.77,230.22 241.39,226.39 235.01,220.01 226.07,216.18 215.86,211.07 203.09,207.24 190.32,205.96 185.22,200.86 180.11,194.47 175.01,198.3 168.62,203.41 159.69,209.79 148.2,216.18 137.98,222.56 129.05,227.67 123.94,223.84 121.39,216.18 125.85,210.43 118.83,205.71 111.17,200.6 102.24,194.22 93.3,189.11 84.36,182.73 76.7,177.62 70.32,167.41 66.49,157.71 62.02,149.79" fill="#C9177F"/>
<path d="M251.55 182.01h1.2M254.21 191.29h1.2M248.27 199.61h1.2M256.56 178.68h1.2M253.72 169.91h1.2M260.22 172.53h1.2M249.35 179.44h1.2M256.8 170.28h1.2M253.85 180.31h1.2M246.88 193.66h1.2M259.98 171.48h1.2M249.98 182.81h1.2M257.84 192.26h1.2M261.21 178.41h1.2M255.89 191.24h1.2M246.01 194.82h1.2M258.75 177.71h1.2M260.2 179.49h1.2M247.78 187.83h1.2M254.84 184.32h1.2M252.87 199.25h1.2M250 181.58h1.2M263.32 178.9h1.2M256.63 179.14h1.2M259.34 191.91h1.2M251.19 186.61h1.2M243.18 183.37h1.2M250.84 181.97h1.2M242.62 191.97h1.2M247.16 201h1.2M242.28 185.17h1.2M245.34 187.49h1.2M250.01 199.17h1.2M242.46 184.29h1.2M247.42 171.57h1.2M248.87 186.69h1.2M251.07 169.8h1.2M258.75 178.26h1.2M260.29 188.19h1.2M250.87 195.58h1.2M252.73 192.2h1.2M260.24 184.67h1.2M255.24 177.99h1.2M257.56 188.34h1.2M245.21 196.01h1.2M251.16 172.34h1.2M246.63 200.8h1.2M256.89 179.4h1.2M250.85 194.22h1.2M247.52 178.1h1.2M257.93 178.07h1.2M253.91 193.33h1.2M244.82 184.3h1.2M252.96 193.76h1.2M252.72 176.12h1.2M249.2 201.66h1.2M256.41 193.24h1.2M241.63 185.69h1.2M252.38 178.36h1.2M242.83 189.59h1.2M246.17 181.63h1.2M255.92 172.46h1.2M243.51 177.71h1.2M256.02 169.74h1.2M258.64 176.54h1.2M257.96 173.51h1.2M255.36 191.77h1.2M255.48 173.89h1.2M251.49 176.69h1.2M248.22 179.54h1.2" stroke="#fff" stroke-width="1.5" stroke-linecap="round" fill="none"/>
<path d="M261.59 174.32h1.4M249.78 195.61h1.4M261.95 183.93h1.4M252.07 183.86h1.4M252.28 181.82h1.4M252.27 184.25h1.4M252.35 169.13h1.4M255.11 192.6h1.4M259.27 183.16h1.4M253.83 176.27h1.4M253.49 190.93h1.4M253.62 174.65h1.4M250.35 188.33h1.4M248.82 191.59h1.4M249.52 184.47h1.4M245.33 186.7h1.4M245.67 175.56h1.4M250.55 190.43h1.4M252.52 175.81h1.4M253.8 192.78h1.4M260.63 179.9h1.4M253.59 185.12h1.4M252.45 178.9h1.4M244.17 192.63h1.4M252.13 198.06h1.4M244.53 178.39h1.4M258.38 182.75h1.4M253.63 199.35h1.4M262.42 176.23h1.4M252.31 182.96h1.4" stroke="#C9177F" stroke-width="1.9" stroke-linecap="round" fill="none"/>
<path d="M175.08 187.28h1.4M150.95 206.51h1.4M176.1 175.7h1.4M130.42 211.07h1.4M165.08 159.76h1.4M76.21 171.05h1.4M73.49 133.5h1.4M74.32 171.37h1.4M117.36 134.34h1.4M72.55 133.62h1.4M166.66 199.25h1.4M114.71 201.52h1.4M84.82 136.15h1.4M129.15 140.7h1.4M75.72 178.33h1.4M176.62 177.27h1.4M146.41 208.52h1.4M171.31 165.7h1.4M176.22 186.21h1.4M144.92 147.64h1.4M113.25 201.34h1.4M100.32 133.66h1.4M159.34 205.08h1.4M140.73 146.94h1.4M125.78 139.59h1.4M65.09 134.83h1.4M146.43 207.35h1.4M130.46 140.63h1.4M106.28 134.22h1.4M102.36 135.22h1.4M132.19 208.88h1.4M59.31 145.52h1.4M167.58 163.07h1.4M108.84 198.36h1.4M156.26 155.77h1.4M65.1 157.17h1.4M175.32 171.74h1.4M170.01 198.65h1.4M138.8 207.94h1.4M109.86 132.24h1.4M72.37 170.39h1.4M141.94 147.03h1.4M137.64 147.77h1.4M64.8 136.65h1.4M59.81 141.33h1.4M176.19 180.2h1.4M116.64 204.42h1.4M97.21 190.6h1.4M152.85 151.85h1.4M173.09 165.96h1.4M65.05 154.32h1.4M176.43 175.43h1.4M176.38 182.51h1.4M72.51 170.49h1.4M123.38 136.69h1.4M176.87 182.95h1.4M61.69 140.68h1.4M160.96 203.58h1.4M105.85 196.27h1.4M172 164.65h1.4M160.29 156.05h1.4M143.79 208.95h1.4M72.27 171.64h1.4M174.74 183.65h1.4M75.18 132.41h1.4M74.21 133.11h1.4M105.46 194.49h1.4M133.57 209.04h1.4M95.9 134.5h1.4M156.04 152.13h1.4M170.83 194.39h1.4M109.02 200.96h1.4M129.99 207.87h1.4M75.72 133.39h1.4M128.47 208.39h1.4M176.13 175.33h1.4M82.07 136.53h1.4M130.42 141.96h1.4M67.23 160.98h1.4M70.33 167.05h1.4M174.23 167.2h1.4M70.89 169.09h1.4M71.35 169.25h1.4M175.57 169.05h1.4M167.78 161.15h1.4M79.3 179.78h1.4M72.01 168.5h1.4M98.07 134.2h1.4M83.91 184.81h1.4M139.37 208.33h1.4M126.47 207.81h1.4M159.77 202.7h1.4M60.34 140.29h1.4M85.24 133.57h1.4M122.25 136.19h1.4M83 135.69h1.4M75.19 171.13h1.4M165.62 199.43h1.4M171.05 164.61h1.4M162.43 201.84h1.4M109.17 135.43h1.4M59.84 141.99h1.4M152.77 151.43h1.4M149.16 206.22h1.4M67.6 164.96h1.4M116.25 204.13h1.4M72.63 170.62h1.4M150.28 150.24h1.4M116.68 205.35h1.4M106.53 135.42h1.4M130.92 141.14h1.4M147.17 147.88h1.4M85.17 181.82h1.4M102.16 192.76h1.4M71.21 169.61h1.4M61.79 143.24h1.4M71.85 134.19h1.4M123.15 204.1h1.4M140.95 207.94h1.4M170.85 164.28h1.4M133.2 208.8h1.4M72.84 170.58h1.4M76.61 136.54h1.4M155.11 207.27h1.4M148.8 150.58h1.4M116.67 204.45h1.4M70.88 171.74h1.4M72.7 134.52h1.4M117.39 204.78h1.4M165.21 200.41h1.4M171.08 164.09h1.4M133.24 210.08h1.4M176.08 185.13h1.4M174.76 172.15h1.4M72.03 135.49h1.4M156.43 203.78h1.4M62.63 152.54h1.4M79.55 134.28h1.4M63.26 151.83h1.4M132.71 145.99h1.4M126.6 138.56h1.4M135.95 143.46h1.4M134.03 143.44h1.4M76.54 136.16h1.4M100.67 192.14h1.4M169.15 160.72h1.4M103.35 195.3h1.4M109.83 134.71h1.4M133.98 208.68h1.4M110.89 134.06h1.4M59.73 141.7h1.4M113.96 199.4h1.4M156.81 206.29h1.4M94.52 188.51h1.4M58.48 140.66h1.4M127.28 138.48h1.4M123.74 205.72h1.4M123.48 135.19h1.4M60.77 139.63h1.4M122.9 136.91h1.4M176.79 186.35h1.4M84.74 183.52h1.4M98.07 135.62h1.4M147.91 149.17h1.4M161.1 202.89h1.4M138.82 211.42h1.4M171.58 193.22h1.4M170.41 195.02h1.4M89.71 135.97h1.4M78.52 175.89h1.4M174.78 186.89h1.4M98.01 135.65h1.4M173.37 193.36h1.4M174.46 191.75h1.4M70.28 166.01h1.4M129.1 140.93h1.4M81.42 181h1.4M99.62 192.84h1.4M119.32 206.43h1.4M71.28 162.32h1.4M159.73 204.68h1.4M172.94 165.27h1.4M87.2 183.22h1.4M98.24 189.87h1.4M171.16 196.23h1.4M64.67 153.26h1.4M135.81 210.03h1.4M153.21 206.53h1.4M81.87 136.91h1.4M176.45 170.25h1.4M61.78 139.08h1.4M111.29 131.97h1.4M174.92 184.41h1.4M103.3 193.49h1.4M78.3 135.1h1.4M64.15 151.5h1.4M71.01 165.4h1.4M173.4 191.98h1.4M60.64 147.69h1.4M139.75 208.98h1.4M122.84 208.15h1.4M144.61 207.05h1.4M66.99 160.25h1.4M145.11 208.53h1.4M165.18 200.28h1.4M172.39 163.94h1.4M149.83 205.88h1.4M167.74 198.98h1.4M147.69 150.01h1.4M120.75 206.53h1.4M132.57 210.41h1.4M116.99 133.74h1.4M61.72 136.81h1.4M134.23 144.74h1.4M161.37 207.06h1.4M171.23 164.74h1.4M169.66 194.62h1.4M175.56 183.74h1.4M92.57 188.48h1.4M73.47 134.77h1.4M168.29 196.69h1.4M110.26 199.13h1.4M78.31 177.93h1.4M73.69 171.09h1.4M79.97 177.1h1.4M175.23 186.96h1.4M87.76 185.71h1.4M58.05 143.39h1.4M124.29 207.66h1.4M173.82 185.92h1.4M66.76 159.4h1.4M140.19 210.16h1.4M174.13 193.01h1.4M107.4 196.47h1.4M177.16 180.43h1.4M118.13 204.08h1.4M120.41 203.87h1.4M64.02 157.78h1.4M102.8 192.79h1.4M176.05 185.71h1.4M149.95 151.91h1.4M84.03 183.33h1.4M96.02 189.57h1.4M63.96 154.73h1.4M161.53 158.63h1.4M139.33 208.3h1.4M70.15 167.77h1.4M137.15 207.64h1.4M73.35 133.52h1.4M79.21 135.39h1.4M65.26 156.69h1.4M68.74 162.4h1.4M68.22 133.24h1.4M135.49 146.83h1.4M178.52 180.35h1.4M147.65 208.03h1.4M167.87 195.97h1.4M117.08 202.41h1.4M152.28 207.89h1.4M66.05 159.75h1.4M139.38 208.34h1.4M164.39 201.45h1.4M106.16 133.68h1.4M80.88 134.8h1.4M121.78 136.06h1.4M81.64 179.01h1.4M60.53 145.07h1.4M86.25 182.83h1.4M150.66 151.03h1.4M165.87 197.24h1.4M81.21 181.46h1.4M101.87 133.92h1.4M120.09 206.82h1.4M134.01 210.44h1.4M160.74 203.1h1.4M171.37 166.13h1.4M76.71 133.66h1.4M127.17 141.16h1.4M109.67 198.38h1.4M124.77 135.32h1.4M108.43 196.98h1.4M100.14 135.67h1.4M146.33 210.03h1.4M112.07 200.11h1.4M175.22 183.69h1.4M87.38 135.43h1.4M74.27 134.35h1.4M75.92 177.4h1.4M136.95 146.89h1.4M134.24 142.71h1.4M69.01 160.2h1.4M66.08 156.34h1.4M64.82 137.86h1.4M130.4 208.92h1.4M97.24 191.75h1.4M177.01 170.81h1.4M61.56 144.42h1.4M142.08 208.94h1.4M70.93 169.45h1.4M166.45 161.89h1.4M87.77 134.3h1.4M60.86 147.83h1.4M66.53 161.61h1.4M72.27 171.91h1.4M156.81 153.39h1.4M169.27 164.25h1.4M60.38 139.96h1.4M121.35 136.68h1.4M153.93 204.68h1.4M127.72 208.97h1.4M155.98 207.4h1.4M148.71 207.16h1.4M170.65 194.75h1.4M81.77 138.03h1.4M87.81 134.16h1.4M124.12 207.56h1.4M139.54 147.44h1.4M129.77 209.38h1.4M71.68 134.83h1.4M160.49 205.3h1.4M69.37 159.19h1.4M162.44 160.5h1.4M109.19 133.27h1.4M147.5 148.52h1.4M116.79 135.84h1.4M171.45 163.18h1.4M92.58 186.84h1.4M156.23 155.91h1.4M173.02 185.34h1.4M158.71 156.17h1.4M156.14 203.92h1.4M177.51 177.32h1.4M137.74 148.02h1.4M121.12 204.01h1.4M135.7 146.6h1.4M171.37 165.36h1.4M68.9 161.32h1.4M163.65 159.11h1.4M164.7 159.09h1.4M161.99 156.08h1.4M116.78 136.06h1.4M104.88 132.94h1.4M160.78 158.22h1.4M114.27 134.18h1.4M83.93 179.83h1.4M154.88 206.85h1.4M72.33 168.35h1.4M74.11 172.15h1.4M71.38 166.63h1.4M156.09 203.83h1.4" stroke="#4E9A22" stroke-width="1.9" stroke-linecap="round" fill="none"/>
<polygon points="60.36,140.86 63.94,135.49 71.6,133.83 80.53,135.75 90.75,135.75 100.96,134.47 111.17,134.47 121.39,135.11 126.49,137.66 130.32,142.13 137.98,145.96 146.92,148.52 155.86,153.62 163.52,158.73 169.9,162.56 176.28,168.94 177.56,176.6 176.28,185.54 173.73,191.92 168.62,198.3 162.24,203.41 154.58,205.96 144.37,208.52 134.15,209.79 126.49,208.52 118.83,204.69 111.17,199.58 102.24,193.2 93.3,188.09 84.36,181.71 76.7,176.6 70.32,166.39 66.49,157.2 62.15,149.54" fill="#4E9A22"/>
<path d="M165.03 169.39h1.4M161.67 167.31h1.4M111.76 171.39h1.4M168.26 169.31h1.4M104.66 192.75h1.4M83.96 163.89h1.4M79.99 157.19h1.4M174.1 182.25h1.4M97.85 141.1h1.4M152.5 156.99h1.4M82.62 171.21h1.4M77.44 161.54h1.4M117.44 170.83h1.4M165.07 178.66h1.4M119.64 199.27h1.4M128.56 202.18h1.4M135.23 188.88h1.4M121.61 142.47h1.4M128.14 200.48h1.4M148.02 206.55h1.4M64.15 149.56h1.4M119.36 200.22h1.4M102.1 145.21h1.4M93.4 148.42h1.4M149.71 205.13h1.4M123.63 175.8h1.4M125.72 186.83h1.4M157.14 196.51h1.4M111.91 171.96h1.4M114.17 146.24h1.4M111.38 146.96h1.4M64.4 135.65h1.4M110.06 177.25h1.4M167.14 191.47h1.4M106.94 178.34h1.4M62.05 146.09h1.4M111.12 178.68h1.4M139.16 203.72h1.4M101.84 163.76h1.4M76.17 155.12h1.4M132.64 193.71h1.4M136.23 150.63h1.4M122.26 136.91h1.4M135.5 179.55h1.4M123.63 161.41h1.4M121.01 187.54h1.4M117.54 201.52h1.4M78.97 170.7h1.4M76.53 170.97h1.4M122.58 200.13h1.4M134.99 151.7h1.4M78.77 157.56h1.4M97.27 179.5h1.4M110.6 199.22h1.4M136.69 199.24h1.4M159.55 173.78h1.4M91.91 157.93h1.4M121.52 202.56h1.4M89.89 151.9h1.4M154.47 165.47h1.4M96.39 173.54h1.4M151.85 182.15h1.4M86.64 147.39h1.4M138.1 176.88h1.4M123.58 204.42h1.4M99.96 167.56h1.4M157.23 157.24h1.4M149.23 193.17h1.4M136.61 179.57h1.4M134.63 207.83h1.4M77.98 157.06h1.4M105.96 146.43h1.4M119.59 164.83h1.4M107.59 187.06h1.4M141.98 164.2h1.4M71.77 158.43h1.4M94.94 147.43h1.4M128.38 206.44h1.4M112.87 154.17h1.4M139.38 202.78h1.4M128.31 187.55h1.4M98.93 189.89h1.4M131.56 182.72h1.4M96.66 144.28h1.4M141.17 190.65h1.4M91.81 164.81h1.4M141.14 150.63h1.4M74.63 172.01h1.4M84.71 177.13h1.4M109.86 153.94h1.4M155.36 153.95h1.4M137.07 209.25h1.4M137.14 187.65h1.4M129.44 153.26h1.4M148.11 176.89h1.4M135.31 152.75h1.4M100.58 184.59h1.4M134.67 166.67h1.4M86.51 141.13h1.4M140.17 188.6h1.4M142.41 181.63h1.4M99.07 172.3h1.4M109.63 144.77h1.4M149.66 152.13h1.4M98.97 146.16h1.4M124.39 170.83h1.4M125.54 142.15h1.4M125.96 187.91h1.4M168.42 171.29h1.4M90.6 180.27h1.4M105.87 137.72h1.4M114.18 161.23h1.4M154.48 161.27h1.4M98.96 168.12h1.4M129.72 144.8h1.4M98.11 185.02h1.4M169.25 193.18h1.4M99.83 170.69h1.4M150.02 178.72h1.4M122.4 138.32h1.4M79.48 143.95h1.4M123.92 170.21h1.4M124.81 146.28h1.4M122.05 149.27h1.4M150.99 195.21h1.4M115.69 187.83h1.4M172.08 188h1.4M146.28 152.03h1.4M109.59 152.76h1.4M104.23 168.64h1.4M134.82 206.23h1.4M132.21 148.17h1.4M67.57 156.01h1.4M124.18 199.86h1.4M155.41 203.85h1.4M148.97 172.89h1.4M101.72 145.47h1.4M131.47 154.08h1.4M73.76 135.51h1.4M113.53 152.31h1.4M116.81 169h1.4M137.76 149.02h1.4M128.7 152.62h1.4M106.51 150.9h1.4M156.16 172.93h1.4M158.34 184.69h1.4M147.26 189.9h1.4M157.48 186.96h1.4M148.29 180.75h1.4M156.94 170.52h1.4M129.12 188.22h1.4M62 145.93h1.4M153.85 155.66h1.4M107.47 192.33h1.4M106.21 151.07h1.4M112.06 163.58h1.4M102.4 193.08h1.4M115.42 181.77h1.4M83.86 157.22h1.4M114.4 179.6h1.4" stroke="#C9177F" stroke-width="1.9" stroke-linecap="round" fill="none"/>
<path d="M109.93 193.01h0.8M102.69 151.84h0.8M95.48 169.93h0.8M159.54 190.21h0.8M164.14 182.47h0.8M120.44 199.94h0.8M138.99 180.15h0.8M158.94 165.8h0.8M109.63 194.65h0.8M110.88 148.8h0.8M122.62 142.86h0.8M108.29 135.07h0.8M160.17 198.4h0.8M69.59 160.84h0.8M88.85 183.29h0.8M120.02 176.18h0.8M160.96 177.41h0.8M127.04 189.23h0.8M168.78 180.52h0.8M97.01 177.04h0.8M99.47 135.13h0.8M100.33 159.7h0.8M132.77 170.66h0.8M140.49 160.93h0.8M143.5 182.49h0.8M150.49 156.59h0.8M117.45 139.37h0.8M97.32 172.01h0.8M156.92 204.28h0.8M146.48 155.25h0.8M107.12 190.95h0.8M103.53 159.1h0.8M147.27 171.91h0.8M158.39 167.05h0.8M77.56 163.42h0.8M124.25 188.11h0.8M76.98 163.81h0.8M83.63 146.29h0.8M160.77 203.32h0.8M171.72 176.21h0.8" stroke="#fff" stroke-width="1.2" stroke-linecap="round" fill="none"/>
<path d="M77.29 141.74h1.4M83.13 141.69h1.4M112.02 139.88h1.4M99.16 138.4h1.4M106.67 135.27h1.4M83.87 137.1h1.4M69.87 139.02h1.4M97.18 135.1h1.4M117.31 134.53h1.4M85.99 135.48h1.4M110.67 135.37h1.4M66.2 140.61h1.4M85.31 140.04h1.4M107.52 141.05h1.4M84.12 140.49h1.4M95.19 140.65h1.4M102.72 141.44h1.4M81.62 138.46h1.4M98.96 134.51h1.4M101.41 140.35h1.4M83.65 137.28h1.4M100.4 135.31h1.4M65.08 141.22h1.4M97.3 137.4h1.4M111.76 134.57h1.4M105.62 140.78h1.4M87.2 137.17h1.4M120.84 135.13h1.4M102.57 137.95h1.4M93.9 139.14h1.4M98.92 139.4h1.4M77.92 140.13h1.4M90.39 135.94h1.4M72.2 140.08h1.4M120.78 141.09h1.4M112.33 141.82h1.4M124.05 138.29h1.4M108.39 134.51h1.4M101.88 141.71h1.4M92.23 141.43h1.4M74.5 139.61h1.4M102.73 134.96h1.4M81.73 139.78h1.4M95.69 139.67h1.4M94.07 140.69h1.4M99.63 138.6h1.4M115.16 140.94h1.4M103.28 142.07h1.4M102.68 141.07h1.4M95.81 140.61h1.4M84.82 137.33h1.4M105.42 141.39h1.4M116.27 141.11h1.4M103.25 141.42h1.4M125.3 135.13h1.4M80.07 136.52h1.4M92.2 140.7h1.4M118.42 139.07h1.4M65.99 137.07h1.4M106.04 141.03h1.4M71.18 141.02h1.4M113.22 140.45h1.4M103.44 142.09h1.4M108.92 137.48h1.4M124.74 138.15h1.4M124 138.54h1.4M111.49 139.66h1.4M118.53 134.27h1.4M89.81 138.37h1.4M116.84 135.65h1.4M83.33 140.87h1.4M89.56 140h1.4M70.99 139.73h1.4M93.17 141.77h1.4M89.09 137h1.4M81.65 135.52h1.4M102.22 135.14h1.4M82.17 138h1.4M116.47 135.62h1.4M71.93 141.49h1.4M107.52 136.97h1.4M67.08 136.47h1.4M82.87 137.04h1.4M108.55 141.87h1.4M78.78 135.8h1.4M75.63 135.32h1.4M107.87 138.52h1.4M72.79 137.36h1.4M86.98 137.86h1.4M110.04 140.81h1.4M114.24 137.98h1.4M109.71 142.01h1.4M122.45 138.15h1.4M116.08 135.05h1.4M93.37 137.79h1.4M91.3 138.61h1.4M121.69 136.62h1.4M87.84 140.72h1.4M94.9 138.36h1.4M90.13 140.48h1.4M95.14 136.68h1.4M68.7 139.49h1.4M100.94 134.92h1.4M62.03 138.2h1.4M97.43 140.22h1.4M106.73 136.55h1.4M107.12 139.34h1.4M113.33 136.14h1.4M89.78 137.33h1.4M91.43 136.67h1.4" stroke="#C9177F" stroke-width="1.9" stroke-linecap="round" fill="none"/>
<path d="M60 139.75h1.4M63.15 139.99h1.4M64.47 141.53h1.4M65.15 139.7h1.4M64.56 144.41h1.4M67.81 146.69h1.4M67.25 143.77h1.4M63.84 142.74h1.4M63.76 143.09h1.4M68.33 138.06h1.4M64.14 141h1.4M62.41 142.6h1.4M67.44 148.16h1.4M60.9 140.8h1.4M64.78 145.86h1.4M64.8 140.39h1.4M65.47 143.15h1.4M63.55 148.74h1.4M61.82 147.93h1.4M65.56 145.79h1.4M62.55 141h1.4M65.58 144.25h1.4M63.75 138.44h1.4M65.55 140.82h1.4M64.95 141.67h1.4" stroke="#C9177F" stroke-width="1.9" stroke-linecap="round" fill="none"/>
<path d="M103.88 207.7h1.4M100.49 207.52h1.4M80.55 185.56h1.4M75.47 180.84h1.4M117.39 209.52h1.4M92.21 189.25h1.4M85.25 186.77h1.4M116.89 216.11h1.4M85.83 181.55h1.4M112.08 205.54h1.4M71.01 176.45h1.4M107.46 201.98h1.4M121.14 216.99h1.4M85.58 197.47h1.4M92.73 193.12h1.4M88.29 195.17h1.4M86.4 183.82h1.4M91.51 198.66h1.4M99.41 195.75h1.4M110.76 200.92h1.4M80.21 185.36h1.4M104.25 207.3h1.4M90.77 193.69h1.4M90.16 185.26h1.4M83.25 180.23h1.4M75.82 176.42h1.4M95.69 199.28h1.4M86.34 193.9h1.4M102.49 200.07h1.4M91.63 203.37h1.4M98.1 206.34h1.4M95.12 199.47h1.4M99.05 206.39h1.4M120.96 211.56h1.4M105.36 198.32h1.4M74.45 182.64h1.4M86.38 190.69h1.4M119.05 206.12h1.4M78.69 177.31h1.4M84.88 184.97h1.4M81.98 185.55h1.4M93.21 202.95h1.4M81.54 183.21h1.4M99.34 201.98h1.4M106.82 201.69h1.4" stroke="#4E9A22" stroke-width="1.9" stroke-linecap="round" fill="none"/>
<path d="M105.07 207.89h1.4M114.83 215.35h1.4M77.43 189.3h1.4M107.18 208.25h1.4M89.18 190.35h1.4M124.6 209.96h1.4M91.32 199.29h1.4M115.7 213.82h1.4M98.99 204.65h1.4M107.72 205.28h1.4M81.1 185.16h1.4M79.21 180.8h1.4M95.38 198.56h1.4M90.34 197.8h1.4M74.46 181.07h1.4M111.73 203.9h1.4M123.33 208.68h1.4M75.69 187.01h1.4M90.23 195.3h1.4M112.29 201.5h1.4" stroke="#C9177F" stroke-width="1.9" stroke-linecap="round" fill="none"/>
<path d="M240.18 160.84h1.4M279.9 147.62h1.4M217.57 152.76h1.4M220.9 163.47h1.4M271.21 150.35h1.4M212.36 155.63h1.4M222.01 159.12h1.4M280.13 156.07h1.4M251.17 159.72h1.4M216.02 167.14h1.4M217.73 153.03h1.4M252.77 156.91h1.4M208.76 152.35h1.4M258.68 153.18h1.4M211.56 161.94h1.4M214.45 150.42h1.4M220.74 167.58h1.4M251.74 156.04h1.4M263.32 158.91h1.4M278.2 150.52h1.4M229.31 157.18h1.4M227.2 160.32h1.4M235.77 146.89h1.4M245.16 148.63h1.4M264.4 161.62h1.4M263.25 150.18h1.4M243.54 149.93h1.4M261.52 145.96h1.4M269.35 167.21h1.4M270.37 161.06h1.4M254.12 155.83h1.4M250.77 156.95h1.4M235.49 157.75h1.4M217.38 147.55h1.4M230.26 166.85h1.4M254.69 165.95h1.4M262.5 162.69h1.4M246.11 159.24h1.4M209.8 148.07h1.4M208.64 155.45h1.4" stroke="#4E9A22" stroke-width="1.9" stroke-linecap="round" fill="none"/>
<path d="M69.03 173.93h1.4M102.65 194.02h1.4M71.77 184.28h1.4M95.66 195.37h1.4M73.06 173.18h1.4M80.14 187.16h1.4M74.61 187.45h1.4M98.92 202.59h1.4M101.46 192.9h1.4M92.23 204.8h1.4M92.26 202.77h1.4M89.25 202.42h1.4M88.75 187.67h1.4M104.78 203.28h1.4M87.12 183.21h1.4M74.9 175.17h1.4M82.74 180.59h1.4M70.39 173.06h1.4M79.99 178.65h1.4M73.47 183.18h1.4M70.25 170.06h1.4M71.73 179.05h1.4M94.86 199.91h1.4M75.36 176.78h1.4M93.76 203.45h1.4M74.6 179.83h1.4M91.92 189.06h1.4M85.03 194.12h1.4M71.92 175.52h1.4M92.88 194.25h1.4M74.97 174.16h1.4M98.3 205.73h1.4M84.6 186.75h1.4M94.48 196.66h1.4M75.18 174.32h1.4M82.99 191.09h1.4M98.33 204.38h1.4M90.19 192.86h1.4M76.68 174.17h1.4M93.39 195.87h1.4M75.56 177.85h1.4M93.07 189.5h1.4M97.98 195.56h1.4M107.4 200.84h1.4M93.31 196.56h1.4M98.92 205.87h1.4M80.15 181.62h1.4M72.72 176.02h1.4M112.62 204.58h1.4M75.88 178.63h1.4M77.9 174.69h1.4M97.68 200.51h1.4M78.28 184.06h1.4M89.18 191.32h1.4M96.33 205.91h1.4M92.16 190.22h1.4M96.68 191.22h1.4M84.82 181.41h1.4M95.02 201.03h1.4M94.93 205.21h1.4" stroke="#4E9A22" stroke-width="1.9" stroke-linecap="round" fill="none"/>
<path d="M104.51 61.51h1.4M86.15 49.38h1.4M84.71 55.15h1.4M104.24 59.75h1.4M101.9 72.41h1.4M85.09 76.37h1.4M98.06 50.76h1.4M92.44 57.94h1.4M94.16 55.41h1.4M98.93 57.92h1.4M89.35 70.88h1.4M100.76 62.38h1.4M87.31 76.65h1.4M92.23 52.39h1.4M101.78 61.35h1.4M95.71 57.77h1.4M104.12 60.57h1.4M83.99 82.2h1.4M102.62 58.76h1.4M92.76 62.45h1.4M85.79 76.83h1.4M85.81 60.66h1.4M101.75 59.61h1.4M80.93 59.79h1.4M89.67 50.97h1.4M91.41 50.35h1.4M102.8 61.8h1.4M106.73 65.71h1.4M94.13 65.05h1.4M105.35 66.18h1.4M92.09 57.91h1.4M94.72 69.39h1.4M81.72 63.48h1.4M83.36 60.62h1.4M90.11 70.65h1.4M87.15 48.38h1.4M81.6 69.75h1.4M82.84 74.99h1.4M87.47 77.16h1.4M85.71 60.28h1.4M94.8 62.83h1.4M98.81 52.87h1.4M93.34 60.29h1.4M85.92 74.88h1.4M92.95 74.3h1.4M88.02 50.68h1.4M85.6 57.18h1.4M96.2 50.35h1.4M106.8 64.46h1.4M87.88 47.52h1.4M104.45 70.24h1.4M85.76 78.15h1.4M98.55 72.37h1.4M94.02 61.94h1.4M102.28 74.23h1.4M92.94 56.34h1.4M83.13 66.35h1.4M88.99 79.57h1.4M85.05 67.46h1.4M90.69 47.79h1.4M83.57 68.36h1.4M86.23 77.71h1.4M98.6 72.79h1.4M95.69 55.95h1.4M82.02 67.12h1.4M83.21 59.23h1.4M101.74 62.64h1.4M99.51 56.55h1.4M97.91 54.57h1.4M92.15 58.07h1.4M99.04 53.84h1.4M82.97 72.93h1.4M92.27 60.28h1.4M86.42 75.18h1.4M81.47 57.71h1.4M86.16 65.69h1.4M89.27 55.31h1.4M101.63 55.76h1.4M98.17 69.13h1.4M84.11 74.85h1.4M90.84 76.57h1.4M89.11 50.15h1.4M86.01 49.17h1.4M87.43 56.81h1.4M102.48 73.05h1.4M87.06 72.67h1.4M96.08 52.99h1.4M101.1 75.84h1.4M85.79 60.7h1.4M103.24 65.16h1.4M90.87 51.77h1.4M92.47 60.96h1.4M84.32 77.55h1.4M102.73 73.36h1.4M102.85 68.73h1.4M103.65 69.03h1.4M82.3 70.18h1.4M81.51 61.65h1.4M97.01 56.43h1.4M89.05 77.53h1.4M87.72 53.61h1.4M89.31 54.06h1.4M87.19 79.24h1.4M104.41 61.89h1.4M88.49 72.68h1.4M106.98 68.33h1.4M87.78 67.43h1.4M96.63 64.98h1.4M86.63 47.51h1.4M99.73 57.58h1.4M89.31 48.59h1.4M96.5 54.22h1.4M84.87 67.04h1.4M91.34 58.89h1.4M87.77 63.17h1.4M94.97 59.1h1.4M86.01 74.78h1.4M86.38 52.88h1.4M97.11 65.43h1.4M81.03 56.88h1.4M92.73 68.99h1.4M85.96 79.05h1.4M88.04 74.98h1.4M93.3 58.98h1.4M106.92 71.14h1.4M83.11 57.55h1.4M98.45 54.84h1.4M92.24 51.4h1.4M81.1 66.95h1.4M92.07 59.97h1.4M104.42 72.26h1.4M92.22 74.33h1.4M86.54 49.54h1.4M80.95 63.39h1.4M88.25 60.77h1.4M99.68 61.36h1.4M81.96 65.41h1.4M87.02 81.72h1.4M87.78 60.91h1.4M99.56 53.18h1.4M92.6 71.55h1.4M89.43 49.8h1.4M101.93 73.84h1.4M86.94 60.27h1.4M86.68 66.79h1.4M104.45 71.99h1.4M102.18 70.98h1.4M91.87 56.56h1.4M83.45 73.07h1.4M90.25 47.93h1.4M98.4 62.82h1.4M82.45 75.15h1.4M96.35 52.8h1.4M86.45 82.4h1.4M87.75 70.75h1.4M95.28 52.81h1.4M84.43 50.06h1.4M81.98 63.51h1.4M97.31 67.97h1.4M97.14 72.06h1.4M88.74 75.64h1.4M93.4 55.01h1.4M100.97 56.51h1.4M96.1 68.18h1.4M83.79 73.36h1.4M94.16 51.01h1.4M97.91 57.1h1.4M84.16 78.34h1.4M83.59 74.1h1.4M82.63 59.76h1.4M83.82 53.11h1.4M97.42 49.74h1.4M81.21 62.88h1.4M88.32 78.47h1.4M80.99 56.62h1.4M85.07 55.44h1.4M87 72.07h1.4M103.31 64.9h1.4M93.93 65.94h1.4M107.67 62.68h1.4M92.76 52.75h1.4M91.34 78.11h1.4M99.38 75.18h1.4M96.66 67.13h1.4M81.45 56.5h1.4M95.15 61.79h1.4M99.72 52.58h1.4M97.73 65.72h1.4M102.45 70.87h1.4M99.74 57.59h1.4M97.85 59.38h1.4M104.31 74.45h1.4M88.15 58.98h1.4M87.63 57.57h1.4M83.84 75.75h1.4M91.15 79.29h1.4M81.15 58.27h1.4M105.33 71.19h1.4M93.52 68.38h1.4M102.39 68.97h1.4M86.39 79.78h1.4M94.86 71.14h1.4M98.11 64.51h1.4M98.63 64.75h1.4M81.26 62.99h1.4M89.73 76.31h1.4M89.69 59.99h1.4M106.87 67.93h1.4M90.06 55.77h1.4M81.15 54.54h1.4M86.41 75.04h1.4M82.63 47.49h1.4M105.02 73.93h1.4M94.84 58.99h1.4M90.55 65.22h1.4M86.39 62.82h1.4M106.91 66.47h1.4M95.15 65.11h1.4M98.75 74.68h1.4M92.3 69.95h1.4M88.14 79.87h1.4M103.43 64.75h1.4M89.62 68.6h1.4M104.98 66.21h1.4M83.11 54.25h1.4M83.31 60.63h1.4M82.63 74.75h1.4M85.62 47.19h1.4M82.29 48.12h1.4M91.16 78.71h1.4" stroke="#C9177F" stroke-width="1.9" stroke-linecap="round" fill="none"/>
<path d="M99.93 75.47h1.4M97.9 72.41h1.4M98 51.2h1.4M87.72 74.26h1.4M86.08 58.63h1.4M85.25 82.9h1.4M94.19 48.7h1.4M95.15 60.16h1.4M81.74 57.88h1.4M95.95 60.13h1.4M94.47 72.74h1.4M93.57 50.13h1.4" stroke="#4E9A22" stroke-width="1.9" stroke-linecap="round" fill="none"/>
<path d="M87.71 81.38h1.4M84.2 98.06h1.4M82.57 85.52h1.4M81.51 80.51h1.4M88.11 84.37h1.4M90.73 81.65h1.4M80.33 95.03h1.4M88.77 86.82h1.4M88.82 91.41h1.4M80.6 88.02h1.4M88.78 83.52h1.4M87.8 100.75h1.4M85.21 92.92h1.4M85.3 82.92h1.4M87.6 81.99h1.4M82.49 94.46h1.4M91 90.42h1.4M90.14 95.21h1.4M90.54 92.6h1.4M91.84 101.92h1.4M91.1 96.31h1.4M83.97 90.99h1.4M83.27 99.22h1.4M95.19 89.44h1.4M91.97 87.53h1.4M91.6 86.27h1.4M84.24 84.66h1.4M87.35 87.41h1.4M93.41 83.14h1.4M93.55 85.23h1.4M82 96.52h1.4M89.87 83.5h1.4M88.48 88.83h1.4M88.63 90.15h1.4M86.61 82.4h1.4M83.52 96.4h1.4M85.32 91.75h1.4M82.61 86.94h1.4M91.66 86h1.4M81.7 99.75h1.4M85.64 85.22h1.4M87.51 102.27h1.4M93.05 93.01h1.4M87.64 97.58h1.4M84.06 80.93h1.4" stroke="#C9177F" stroke-width="1.9" stroke-linecap="round" fill="none"/>
<path d="M87.09 82.66h1.4M83.14 87.45h1.4M87.41 81.06h1.4M82.29 80.27h1.4M90.34 80.47h1.4M86.38 97.01h1.4M84.31 102.12h1.4M83.41 94.19h1.4" stroke="#4E9A22" stroke-width="1.9" stroke-linecap="round" fill="none"/>
<path d="M103.13 107.52h1.4M89.33 126.82h1.4M120.57 123.9h1.4M110.86 115.96h1.4M91.02 102.92h1.4M121.11 121.76h1.4M87.94 124.72h1.4M103.82 102.58h1.4M91.04 106.64h1.4M112.86 123.11h1.4M106.06 112.23h1.4M117.15 111.36h1.4M82.42 118.25h1.4M119.71 124.92h1.4M115.77 112.25h1.4M98.98 117.87h1.4M101.52 125.73h1.4M108.57 123.71h1.4" stroke="#C9177F" stroke-width="1.9" stroke-linecap="round" fill="none"/>
<path d="M82.07 114.23h1.4M76.52 115.74h1.4M81.86 121.05h1.4M84.99 118.64h1.4M78.47 118.6h1.4M78.23 118.02h1.4M80.82 121.46h1.4M84.22 118.7h1.4M81.93 117.42h1.4M84.95 120.15h1.4M77.2 116.58h1.4M78.31 115.54h1.4M77.84 119.27h1.4M79.52 115.76h1.4M79.11 120.71h1.4M77.23 120.92h1.4M81.95 117.67h1.4M77.4 121.98h1.4M84.32 118.85h1.4M81.25 118.78h1.4M77.64 116.5h1.4M76.77 120h1.4M81.44 120.67h1.4M84.9 118.55h1.4M82.57 115.52h1.4" stroke="#4E9A22" stroke-width="1.9" stroke-linecap="round" fill="none"/>
<path d="M80.09 122.69h1.4M129.29 102.15h1.4M127.51 110.28h1.4M110.72 128.55h1.4M126.28 121.18h1.4M126.54 125.88h1.4M90.4 116.46h1.4M76.71 101.62h1.4M133.3 100.66h1.4M99.28 101.71h1.4M88.4 109.92h1.4M79.42 122.96h1.4M87.5 99.5h1.4M102.69 112.38h1.4M99.26 131.97h1.4M110.06 98.82h1.4M117.26 103.28h1.4M108.59 99.5h1.4M116.91 102.17h1.4M109.25 97.99h1.4M86.76 111.14h1.4M118.89 112.24h1.4M130.36 115.66h1.4M89.95 101.73h1.4M77.57 125.86h1.4M105.05 109.26h1.4M111.46 130.56h1.4M86.04 131.35h1.4M119.18 99.03h1.4M75.29 99.54h1.4M129.85 105.47h1.4M124.78 121.54h1.4M85.86 106.98h1.4M89.05 98.19h1.4M94.79 121.27h1.4M105.64 115.06h1.4M103.16 118.8h1.4M109.27 99.51h1.4M79.82 106.76h1.4M118.51 125.24h1.4" stroke="#C9177F" stroke-width="1.9" stroke-linecap="round" fill="none"/>
<path d="M106.87 127.65h1.4M115.72 125.78h1.4M113.72 128.59h1.4M93.61 103.37h1.4M113.87 118.92h1.4M108.63 103.35h1.4M121.32 119.51h1.4M102.84 115.62h1.4M92.23 109.01h1.4M135.15 99.21h1.4M104.87 117.71h1.4M105.39 111.73h1.4M79.81 125.2h1.4M77.54 107.98h1.4M98.84 100.35h1.4M74.91 95.14h1.4M77.25 102.86h1.4M84.56 112.32h1.4M81.56 95.26h1.4M78.35 107.23h1.4M86.34 99.33h1.4M108.94 110.84h1.4M93.53 113.18h1.4M104.16 95.29h1.4M78.5 110.12h1.4" stroke="#4E9A22" stroke-width="1.9" stroke-linecap="round" fill="none"/>
<path d="M353.75 168.02h1.4M342.31 148.09h1.4M362.65 144.58h1.4M362.61 144.64h1.4M349.76 166.58h1.4M368.56 144.78h1.4M339.54 157.54h1.4M371.74 149.35h1.4M359.13 166.9h1.4M368.87 145.69h1.4M371.81 148.83h1.4M368.8 157.85h1.4M344.1 148.54h1.4M342.03 148.61h1.4M346.1 144.34h1.4M372.55 153.76h1.4M346.95 164.11h1.4M351.93 167.97h1.4M370.16 156.31h1.4M351.12 167.63h1.4M361.14 162.06h1.4M341.65 152.91h1.4M362.51 144.6h1.4M356.09 168.21h1.4M360.62 144.19h1.4M345.38 162.71h1.4M344.49 163.13h1.4M345.2 146.69h1.4M340.7 153.13h1.4M344.63 145.87h1.4M371.33 154.49h1.4M354.43 143.83h1.4M367.91 146.22h1.4M343.57 147.4h1.4M340.05 150.45h1.4M367.16 146.18h1.4M363.12 143.85h1.4M340.64 158.01h1.4M354.58 167.09h1.4M372.58 151.22h1.4M364.32 144.97h1.4M361.96 144.74h1.4M370.1 148.83h1.4M371.26 156.67h1.4M358.17 144.26h1.4M341.6 153.73h1.4M368 147.78h1.4M352.91 168.73h1.4M342.39 148.06h1.4M368.58 155.46h1.4M371.67 153.87h1.4M354.58 167.3h1.4M343.68 162h1.4M353.35 170.03h1.4M373.25 152.43h1.4M368.15 146.4h1.4M345.59 145.05h1.4M340.97 148.81h1.4M362.52 162.21h1.4M362.71 162.95h1.4" stroke="#C9177F" stroke-width="1.9" stroke-linecap="round" fill="none"/>
<polygon points="341.74,149.15 347.61,144.46 359.34,143.87 368.73,146.22 373.43,149.74 372.25,156.2 365.21,160.89 358.17,166.76 353.47,169.11 347.61,164.41 341.74,159.72" fill="#C9177F"/>
<path d="M416.94 179.52h1.4M401.84 166.98h1.4M419.8 189.99h1.4M423.6 199.21h1.4M415.71 192.92h1.4M421.35 192.76h1.4M421.74 192.89h1.4M420.86 198.19h1.4M414.7 174.87h1.4M406.97 166.65h1.4M416.84 190.78h1.4M417.59 194.3h1.4M408.24 168.31h1.4M417.08 178.42h1.4M421.9 208.81h1.4M401.59 167.43h1.4M400.73 164.98h1.4M416.07 197.64h1.4M405 165.88h1.4M409.64 177.37h1.4M418.19 181.34h1.4M410.32 173.77h1.4M422.11 195.14h1.4M422.49 192.6h1.4M417.16 180.38h1.4M412.25 177.04h1.4M416.69 198.79h1.4M420.55 196.9h1.4M422.07 195.01h1.4M421.49 192.72h1.4M416.63 188.66h1.4M412.53 180.45h1.4M407.32 165.63h1.4M401.61 168.62h1.4M417.07 198.75h1.4M423.82 201.88h1.4M419.34 205.31h1.4M412.62 181.45h1.4M424.04 201.81h1.4M418.05 185.28h1.4M409.01 171.78h1.4M419.95 180.83h1.4M405.07 168.06h1.4M415.2 189.45h1.4M417.12 183.24h1.4M411.43 183.2h1.4M418.73 201.41h1.4M422.76 193.44h1.4M423.7 199.55h1.4M422.68 189.94h1.4M423.75 206.21h1.4M422.2 207.11h1.4M416.23 197.47h1.4M412.52 184.63h1.4M407.55 168.2h1.4M410.81 172.13h1.4M410.96 175.83h1.4M419.81 180.48h1.4M418.85 190.73h1.4M423.54 195.2h1.4M423.4 198.69h1.4M417.08 188.02h1.4M413.81 185.78h1.4M409.77 176.08h1.4M421.43 195.56h1.4M420.53 192.18h1.4M423.13 203.4h1.4M417.33 185.15h1.4M408.08 166.97h1.4M409.61 178.76h1.4M406.14 171.57h1.4M402.74 167.52h1.4M420.04 203.82h1.4M417.84 186.79h1.4M413.29 184.77h1.4M409.82 173.18h1.4M406.09 164.58h1.4M419.74 203.1h1.4M420.39 204.24h1.4M419.43 206.67h1.4M418.63 198.74h1.4M404.67 164.46h1.4M418.42 191.89h1.4M412.46 175.27h1.4M423.76 197.42h1.4M425.41 206.94h1.4M402.31 168.9h1.4M407.91 173.35h1.4M408.4 177.13h1.4M420.77 183.2h1.4" stroke="#C9177F" stroke-width="1.9" stroke-linecap="round" fill="none"/>
<path d="M364.73 243.63h1.4M357.92 240.09h1.4M360.46 230.33h1.4M365.76 245.18h1.4M365.39 246.58h1.4M355.93 226.62h1.4M366.69 234.07h1.4M358.98 230.24h1.4M361.32 231.88h1.4M356.27 218.53h1.4M353.8 230.61h1.4M362.1 233.17h1.4M362.2 219.69h1.4M366.69 244.65h1.4M366.25 236.1h1.4M359.25 239h1.4M362.07 235.64h1.4M358.96 223.6h1.4M365.37 230.64h1.4M357.63 241.22h1.4M354.29 224.82h1.4M360.88 227.54h1.4M359.98 236.42h1.4M356.93 231.43h1.4M364.99 225.53h1.4M362.7 245.89h1.4M357.46 228.69h1.4M363.24 236.82h1.4M363.59 241.18h1.4M361.57 225.34h1.4M364.08 232.77h1.4M357.3 227.91h1.4M358.79 228.85h1.4M363.96 241.91h1.4M367.11 232.37h1.4M360.52 229.17h1.4M358.92 246.42h1.4M365.38 235.89h1.4M359.98 225.08h1.4M356.77 230.5h1.4M364.78 226.75h1.4M361.42 231.79h1.4M363.17 247.67h1.4M359.55 248.1h1.4M355.78 220.64h1.4M360.91 216.12h1.4M360.35 234.57h1.4M355.42 222.43h1.4M357.92 243.76h1.4M362.89 233.79h1.4M360.95 219.45h1.4M357.58 229.73h1.4M354.07 233.06h1.4M365.21 228.28h1.4M363.89 246.19h1.4M358.44 219.06h1.4M356.98 236.49h1.4M365.59 221.89h1.4M366.14 235.33h1.4M366.32 247.35h1.4M365.06 222.6h1.4M359.81 232.89h1.4M357.34 219.83h1.4M356.76 218.92h1.4M357.27 218.38h1.4M359.22 223.69h1.4M362.42 224.31h1.4M355.57 231.46h1.4M364.03 229.71h1.4M362.43 220.54h1.4M361.73 223.13h1.4M357.56 241.02h1.4M361.96 220.36h1.4M362.44 229.61h1.4M356.96 243.5h1.4M367.09 245.05h1.4M357.83 220.35h1.4M364.69 218.08h1.4M358.18 240.3h1.4M362.49 242.27h1.4M365.41 238.18h1.4M358.26 235.87h1.4M362.35 228.88h1.4M355.58 236.91h1.4M362.84 241.81h1.4M357.99 245.44h1.4M362.27 233.57h1.4M354.99 232.34h1.4M361.31 239.92h1.4M364.94 246.59h1.4" stroke="#C9177F" stroke-width="1.9" stroke-linecap="round" fill="none"/>
<path d="M347.95 171.22h1.4M369.13 174.02h1.4M347.54 163.33h1.4M358.83 186.46h1.4M345.63 175.78h1.4M347.12 178.53h1.4M345.41 175.81h1.4M341.95 192.17h1.4M362.41 197.09h1.4M357.42 168.61h1.4M351.08 207.46h1.4M352.66 197.83h1.4M365.67 201.11h1.4M359.78 178.95h1.4M370.06 176.11h1.4M372.64 190.89h1.4M351.28 167.38h1.4M357.86 176.02h1.4M348.76 164.34h1.4M352.08 162.74h1.4M370.18 181.74h1.4M371.8 184.17h1.4M359.31 168.92h1.4M365.78 182.39h1.4M341.21 182.62h1.4M359.22 190.07h1.4M365.78 167.44h1.4M370.5 186.6h1.4M364.8 167.13h1.4M355.06 175.27h1.4M347.25 163.3h1.4M352.87 197.06h1.4M341.68 191.02h1.4M365.76 165.41h1.4M369.92 194.35h1.4M365.06 205.05h1.4M362.5 169.07h1.4M361.21 180.76h1.4M353 198.45h1.4M341.41 178.13h1.4M343.02 181.8h1.4M349.27 193.57h1.4M355.96 196.2h1.4M347.52 166.37h1.4M348.7 189.51h1.4M359.53 207.33h1.4M370.83 203.24h1.4M342.76 193.42h1.4M346.25 181.62h1.4M353.26 165.49h1.4M357.81 189.54h1.4M345.98 165.74h1.4M342.59 177.07h1.4M372.45 168.96h1.4M358.12 186.52h1.4" stroke="#C9177F" stroke-width="1.9" stroke-linecap="round" fill="none"/>
<path d="M370.58 263.92h1.4M369.06 254.43h1.4M387.58 250.28h1.4M380.5 259.25h1.4M376.82 257.44h1.4M370.82 252.88h1.4M376.14 255.17h1.4M377.55 261.23h1.4M376.62 257.96h1.4M371.2 253.83h1.4M369.54 255.44h1.4M376.13 260.39h1.4M379.66 259.73h1.4M380.77 252.47h1.4M385.46 262.83h1.4M363.85 250.25h1.4M371.17 256.54h1.4M367.27 260h1.4M387.58 258.63h1.4M371.53 257.03h1.4M374.31 257.64h1.4M367.95 260.8h1.4M372.7 254.16h1.4M373.12 260.79h1.4M378.45 256.4h1.4" stroke="#C9177F" stroke-width="1.9" stroke-linecap="round" fill="none"/>
<path d="M413.78 48.93h1.4M393.08 60.66h1.4M412.34 88.07h1.4M392.47 90.66h1.4M407.49 64.78h1.4M398.97 82.7h1.4M383.39 74.41h1.4M379.26 80.25h1.4M402.37 60.8h1.4M398 74.06h1.4M395.61 67.75h1.4M381.55 89.84h1.4M407.28 70.55h1.4M381.57 49.35h1.4M408.01 89.34h1.4M399.14 45.97h1.4M387.72 69.64h1.4M383.2 47.46h1.4M400.47 86.94h1.4M380.44 64.02h1.4M411.14 50.35h1.4M384.06 46.72h1.4M412.23 59.9h1.4M377.85 63.84h1.4M390.1 86.94h1.4M381.24 61.23h1.4M381.65 75.66h1.4M379.57 69.42h1.4" stroke="#C9177F" stroke-width="1.9" stroke-linecap="round" fill="none"/>
<path d="M389.99 256.78h1.4M403.08 229.43h1.4M371.77 243.32h1.4M381.97 253.85h1.4M384.68 214.04h1.4M391.31 262.75h1.4M405.67 257.41h1.4M397.55 209.88h1.4M385.32 253.13h1.4M377.15 243.94h1.4M408.65 234.53h1.4M387.51 209.96h1.4M402.71 221.38h1.4M375.37 223.52h1.4M384.23 208.82h1.4M408.02 260.95h1.4M385.57 254.64h1.4M385.46 226.45h1.4M375.59 255.88h1.4M371.09 218.74h1.4M395.83 233.97h1.4M403.24 246.17h1.4" stroke="#C9177F" stroke-width="1.9" stroke-linecap="round" fill="none"/>
<path d="M381.78 143.53h1.4M388.81 121.63h1.4M390.77 114.5h1.4M375.32 134.17h1.4M378.48 139.42h1.4M372.11 112.28h1.4M392.84 105.27h1.4M377.53 134.71h1.4" stroke="#C9177F" stroke-width="1.9" stroke-linecap="round" fill="none"/>
<path d="M385.42 242.53h1.4M413.31 212.02h1.4M351.87 231.89h1.4M366.92 237.66h1.4M349.24 216.58h1.4M364.95 161.53h1.4M353.31 210.86h1.4M346.27 260.72h1.4M419.66 176.1h1.4M346.82 164.68h1.4" stroke="#4E9A22" stroke-width="1.9" stroke-linecap="round" fill="none"/>
<circle cx="448.75" cy="27.5" r="6.5" fill="#4E9A22"/>
<circle cx="448.75" cy="51.25" r="6.5" fill="#C9177F"/>
<text x="472.5" y="33.75" font-size="19.5">−5dpi</text>
<text x="472.5" y="57.5" font-size="19.5">4dpi</text>
<path d="M47.5 224V263.75H87.5" stroke="#111" stroke-width="2.6" fill="none"/>
<polygon points="34.5,224 60.5,224 47.5,202.5" fill="#111"/>
<polygon points="87.5,250.75 87.5,276.75 109.5,263.75" fill="#111"/>
<text transform="translate(32 250.75) rotate(-90)" font-size="20" text-anchor="middle">UMAP 2</text>
<text x="74.4" y="298.75" font-size="20" text-anchor="middle">UMAP 1</text>
<text x="559" y="29" font-size="40">b</text>
<text x="731" y="36" font-size="23" text-anchor="middle" font-weight="bold">-5 dpi</text>
<text x="1056.6" y="32.8" font-size="23" text-anchor="middle" font-weight="bold">4 dpi</text>
<path d="M624.89 161.5h1.6M675.58 117.15h1.6M655.58 185.37h1.6M680.84 171.62h1.6M663.82 182.27h1.6M639.37 170.36h1.6M678.18 122.1h1.6M658.01 185.24h1.6M714.18 156.98h1.6M631.97 122.27h1.6M693.52 161.47h1.6M680.75 130.09h1.6M709.11 156.29h1.6M706.29 146.86h1.6M617.2 121.31h1.6M711.7 156.46h1.6M651.19 121.3h1.6M618.89 122.74h1.6M647.12 175.44h1.6M664.85 181.39h1.6M628.69 165.72h1.6M611.1 141.8h1.6M633.21 120.17h1.6M689.88 140.08h1.6M644.83 175.64h1.6M658.04 184.74h1.6M614.97 121.45h1.6M700.82 146.48h1.6M704.23 156.04h1.6M605.8 126.88h1.6M712.36 147.34h1.6M639.08 171.16h1.6M637.64 120.75h1.6M689.83 141.17h1.6M646.12 178.84h1.6M612.75 143.01h1.6M638.31 170.64h1.6M694.22 144.8h1.6M663.37 105.75h1.6M681.52 171.99h1.6M641 121.38h1.6M701.32 145.61h1.6M689.07 141.28h1.6M607.81 127.31h1.6M647.9 119.73h1.6M686.96 168.2h1.6M677.59 119.12h1.6M666.3 180.83h1.6M661.17 107.36h1.6M691.88 162.88h1.6M636.05 171.46h1.6M617.17 152.1h1.6M702.99 156.93h1.6M659.74 185.83h1.6M677.55 120.91h1.6M606.42 129.2h1.6M667.63 179.37h1.6M633.46 168.8h1.6M645.5 176.59h1.6M710.75 156.11h1.6M617.93 153.16h1.6M683.44 170.42h1.6M711.61 154.62h1.6M614.58 145.48h1.6M622.27 158.86h1.6M609.97 137.66h1.6M628.47 163.96h1.6M690.24 141.25h1.6M659.94 185.28h1.6M645.14 120.51h1.6M672.72 176.97h1.6M613.28 143.67h1.6M610.98 141.29h1.6M683.35 130.48h1.6M677 113.94h1.6M713.4 147.69h1.6M705.32 157.39h1.6M618.62 122.36h1.6M709.82 148.27h1.6M711.32 148.15h1.6M680.09 125.69h1.6M607.36 127.97h1.6M667.58 180.05h1.6M686.9 137.11h1.6M680.76 131.57h1.6M609.6 135.96h1.6M648.08 178.76h1.6M645.8 120.18h1.6M695.05 159.03h1.6M705.3 147.22h1.6M683.62 134.9h1.6M685.2 139.78h1.6M619.07 153.47h1.6M669.85 106.52h1.6M692.16 162h1.6M677.57 115.81h1.6M628.03 121.65h1.6M643.21 172.17h1.6M681.04 172.39h1.6M652.61 183.51h1.6M680.72 169.95h1.6M675.32 173.97h1.6M652.1 119.22h1.6M619.67 154.85h1.6M606.17 126.88h1.6M688.03 142.14h1.6M651.46 184.03h1.6M714.63 149.49h1.6M621.23 159.75h1.6M655.38 187.52h1.6M635.96 168.42h1.6M704.53 145.66h1.6M678.17 172.14h1.6M647.01 178.15h1.6M653.52 115.38h1.6M647.17 177.5h1.6M677.59 117.4h1.6M617.76 122.68h1.6M621.03 156.73h1.6M694.6 143.94h1.6" stroke="#1E5689" stroke-width="2.4" stroke-linecap="round" fill="none"/>
<polygon points="606.7,125.85 610.53,120.11 617.23,122.02 628.72,122.02 643.09,121.07 651.7,120.11 657.45,112.45 663.19,107.66 674.68,107.66 677.56,112.45 679.47,122.02 682.34,129.68 685.22,137.34 690,141.17 695.75,144.05 700.54,145.96 708.2,146.92 714.9,148.83 718.73,151.71 714.9,155.54 705.32,157.45 695.75,160.32 690,167.03 684.26,169.9 676.6,173.73 669.9,178.52 665.11,182.35 657.45,187.13 653.62,185.22 649.79,179.47 643.09,172.77 636.38,169.9 628.72,164.15 622.98,158.41 617.23,150.75 612.45,141.17 609.57,133.51" fill="#1E5689"/>
<path d="M631.93 77.32h1.6M623.21 68.1h1.6M630.04 87.54h1.6M635.04 86.47h1.6M635.33 62.61h1.6M638.41 62.09h1.6M622.49 78.35h1.6M619.64 87.01h1.6M638.73 84.57h1.6M626.42 70.88h1.6M642.37 79.05h1.6M619.84 81.91h1.6M632.53 81.27h1.6M635.52 68.85h1.6M620.36 80.16h1.6M624.56 66.33h1.6M635.5 83.28h1.6M629.26 91.91h1.6M621.01 90.45h1.6M619.26 88.38h1.6M630.03 73.27h1.6M622.84 84.21h1.6" stroke="#1E5689" stroke-width="2.4" stroke-linecap="round" fill="none"/>
<path d="M653.37 102.39h1.6M619.09 118.72h1.6M633.9 104.89h1.6M638.21 102.29h1.6M632.04 115.03h1.6M632.37 108.21h1.6M651.27 108.19h1.6M635.48 120.11h1.6M640.93 101.37h1.6M629.35 110.6h1.6M634.57 117.92h1.6M646.23 116.36h1.6M639.68 114.69h1.6M618.59 108.26h1.6M617.61 118.02h1.6M619.24 105.84h1.6M622.25 107.04h1.6M644.62 117.98h1.6M622.73 105.35h1.6M648.11 117.12h1.6M643.69 108.59h1.6M621.99 113.29h1.6M642.97 101.54h1.6M621.31 110.64h1.6M652.45 106.14h1.6M645.48 102.04h1.6M619.65 108.73h1.6M623.93 117.33h1.6" stroke="#1E5689" stroke-width="2.4" stroke-linecap="round" fill="none"/>
<path d="M653.88 179.73h1.6M628.63 166.82h1.6M624.76 170.74h1.6M652.53 181.01h1.6M623.19 165.04h1.6M639.26 175.03h1.6M629.5 164.87h1.6M655.24 178.94h1.6M642.23 173.02h1.6M633.01 172.58h1.6M645.29 178.6h1.6M648.11 175.57h1.6" stroke="#1E5689" stroke-width="2.4" stroke-linecap="round" fill="none"/>
<path d="M730.43 180.64h1.6M700.92 156.38h1.6M756.38 136.19h1.6M735.07 160.67h1.6M698.04 158.29h1.6M696.58 165.36h1.6M719.14 149.57h1.6M745.5 131.99h1.6M697.8 168.56h1.6M752.35 140.65h1.6M710.07 169.58h1.6M734.2 157.49h1.6M734 132.34h1.6M698.8 169.73h1.6M712.45 155.34h1.6M721.39 172.78h1.6M735.08 159.75h1.6M708.29 170.46h1.6M755.94 138.09h1.6M698.12 167.54h1.6M755.04 133.37h1.6M737.49 144.42h1.6M727.28 139.69h1.6M694.06 158.74h1.6M756.28 138.9h1.6M738.27 129.71h1.6M754.35 138.25h1.6M736.6 176.61h1.6M716.89 151.55h1.6M723.48 143.09h1.6M735.27 151.76h1.6M754.29 135.15h1.6M736.93 170.68h1.6M725.27 176.47h1.6M697.29 158.02h1.6M696.84 167.44h1.6M737.82 148.11h1.6M734 150.93h1.6M698.26 158.11h1.6M752.83 141.28h1.6M703.63 170.64h1.6M738.25 131.1h1.6M723.13 144.27h1.6M747.96 129.34h1.6M725.93 136.93h1.6M697.2 159.12h1.6M724.31 176.83h1.6M750.15 141.75h1.6M744.22 130.48h1.6M737.42 174.16h1.6M723.78 175.68h1.6M703.36 171.17h1.6M735.69 149.83h1.6M701.6 157.21h1.6M747.97 140.18h1.6M747.03 132.09h1.6M731.65 180.65h1.6M747.72 141.47h1.6M754.61 134.59h1.6M747.57 130.54h1.6M750.37 132.11h1.6M736.21 166.08h1.6M722.53 147.83h1.6M744.63 129.65h1.6M734.69 131.81h1.6M736.08 154.47h1.6M754.93 140.63h1.6M705.17 169.88h1.6M705.61 172.34h1.6M736.72 129.65h1.6" stroke="#A0221C" stroke-width="2.4" stroke-linecap="round" fill="none"/>
<polygon points="695.75,159.37 705.32,156.49 714.9,153.62 720.64,148.83 726.39,141.17 730.22,134.47 738.84,129.68 748.41,130.64 755.11,133.51 757.99,137.34 753.2,141.17 738.84,143.09 735.96,150.75 736.92,160.32 737.88,169.9 737.88,179.47 734.05,182.35 728.3,178.52 720.64,172.77 712.98,169.9 705.32,170.86 699.58,169.9 696.71,165.11" fill="#A0221C"/>
<path d="M742.35 155.36h1.6M758.5 146.39h1.6M766.82 146.98h1.6M748.98 131.1h1.6M756.35 143.88h1.6M751.28 159.25h1.6M748.41 138.43h1.6M758.63 141.2h1.6M744.76 169.75h1.6M755.23 161.4h1.6M763.29 140.7h1.6M747.21 157.57h1.6M748.34 155.51h1.6M751.53 170.29h1.6M763.69 143.89h1.6M762.81 138.6h1.6M750.68 153.76h1.6M742.1 155.88h1.6M749.89 131.41h1.6M757.33 138.14h1.6M752.21 142.82h1.6M762.52 130.81h1.6M759.82 135.8h1.6M750.57 142.53h1.6M755.25 148.84h1.6M738.92 150.63h1.6M755.44 161.09h1.6M744.35 134.24h1.6M746.54 131.81h1.6M750.28 163h1.6M748.06 161.17h1.6M754.93 141.88h1.6M747.83 152.51h1.6M753.09 131.19h1.6M763.36 157.63h1.6M746.89 155.41h1.6M755.75 135.74h1.6M747.35 140.99h1.6M748.21 171.62h1.6M743.16 134.93h1.6" stroke="#A0221C" stroke-width="2.4" stroke-linecap="round" fill="none"/>
<path d="M727.86 143.54h1.6M722.62 145.8h1.6M721.25 134.75h1.6M715.29 137.19h1.6M713.54 139.78h1.6M716.98 136.23h1.6M712.31 138.61h1.6M716.61 140.71h1.6M707.68 141.94h1.6M723.63 145.4h1.6" stroke="#1E5689" stroke-width="2.4" stroke-linecap="round" fill="none"/>
<path d="M836.04 81.84h1.6M836.04 86.98h1.6M813.83 130.82h1.6M864.61 171.63h1.6M823.79 192.45h1.6M827.06 194.49h1.6M825.42 192.04h1.6" stroke="#1E5689" stroke-width="2.4" stroke-linecap="round" fill="none"/>
<path d="M854 101.67h1.6M848.93 107.55h1.6" stroke="#FDC84F" stroke-width="2.4" stroke-linecap="round" fill="none"/>
<path d="M816.85 135.06h1.6M815.63 139.63h1.6M816.85 144.45h1.6M817.67 146.9h1.6M821.34 153.67h1.6M814.81 137.76h1.6" stroke="#A0221C" stroke-width="2.4" stroke-linecap="round" fill="none"/>
<path d="M818.08 137.59h1.6M814.81 144.29h1.6M815.22 148.78h1.6M816.44 154.49h1.6M826.24 152.29h1.6M836.44 149.35h1.6M851.71 156.12h1.6M836.44 180.86h1.6M842.57 195.47h1.6M834.24 213.02h1.6M839.96 218.41h1.6M852.2 221.02h1.6M814 141.84h1.6M816.44 155.31h1.6" stroke="#F26A47" stroke-width="2.4" stroke-linecap="round" fill="none"/>
<path d="M1011 154.28h1.6M971.8 105.4h1.6M951.93 172.38h1.6M944.5 183.26h1.6M958.01 184.75h1.6M990.19 141.31h1.6M973.73 171.48h1.6M999.63 155.96h1.6M903.08 123.86h1.6M978.67 124.72h1.6M911.21 148.36h1.6M901.02 135.01h1.6M930.65 120.81h1.6M962.05 181.85h1.6M997.15 155.25h1.6M953.44 165.84h1.6M988.57 161.14h1.6M954.43 184.64h1.6M971.74 173.73h1.6M970.08 102.4h1.6M968.15 103.07h1.6M903.31 139.35h1.6M921.38 156.9h1.6M900.88 125.06h1.6M953.08 159.18h1.6M934.33 118.85h1.6M935.81 119.57h1.6M901.84 130.83h1.6M981.37 166.58h1.6M902.97 136.74h1.6M906.5 139.01h1.6M989.52 159.68h1.6M999.05 145.17h1.6M954.61 157.37h1.6M1003.2 143.67h1.6M899.88 127.47h1.6M922.23 120.35h1.6M943.38 149.32h1.6M908.7 143.59h1.6M923.55 119.75h1.6M946.77 115.84h1.6M911.03 121.53h1.6M906.07 122.84h1.6M949 186.11h1.6M966.14 179.36h1.6M907.73 123.51h1.6M909.32 122.47h1.6M947.79 115.7h1.6M977.17 117.36h1.6M976.06 115.91h1.6M910.73 147.83h1.6M1015.02 149.24h1.6M952.91 155.35h1.6M950.38 187.97h1.6M946.47 115.99h1.6M996.52 145.01h1.6M956.76 106.3h1.6M936.47 120.41h1.6M986.55 161.99h1.6M904.6 139.52h1.6M951.74 107.9h1.6M987.41 139.05h1.6M974.24 111.55h1.6M1011.71 152.6h1.6M989.65 160.55h1.6M1010.87 139.59h1.6M906.91 144h1.6M947.28 175.46h1.6M934.25 153.4h1.6M903.18 136.37h1.6M1000.8 145.16h1.6M964.04 102.71h1.6M986.32 140.22h1.6M978.01 125.29h1.6M917.91 154.04h1.6M977.17 170.67h1.6M924.67 154.9h1.6M1004 140.52h1.6M948.88 173h1.6M947.01 152.68h1.6M935.42 118.82h1.6M906.44 141.83h1.6M954.37 106.38h1.6M937.09 118.39h1.6M975.43 170.93h1.6M992.31 144.24h1.6M904.82 123.82h1.6M941.17 118.93h1.6M976.05 114.42h1.6M977.44 124.17h1.6M920.09 120.48h1.6M903.31 135.93h1.6M950.98 153.58h1.6M1013.5 138.62h1.6M953.39 168.68h1.6M944.36 182.94h1.6M993.21 144.24h1.6M957.38 105.68h1.6M923.19 156.5h1.6M904.37 123.23h1.6M964.63 102.2h1.6M991.06 157.97h1.6M966.51 180.26h1.6M982.95 135.22h1.6M956.6 185.16h1.6M962.17 181.65h1.6M978.95 126.07h1.6M900 126.89h1.6M935.97 118.45h1.6M953.44 188.16h1.6M921.95 156.66h1.6M901.91 133.24h1.6M935.62 119.66h1.6M1006.3 152.36h1.6M958.94 184.99h1.6M966.06 103.21h1.6M979.72 168.84h1.6M998.77 145.49h1.6M979.67 166.85h1.6M982.57 168.13h1.6" stroke="#1E5689" stroke-width="2.4" stroke-linecap="round" fill="none"/>
<polygon points="900.74,126.6 904.57,122.77 914.15,122.77 923.72,119.9 938.09,118.94 946.7,118.94 950.53,109.36 957.24,105.53 965.85,101.7 972.56,104.58 976.39,113.19 978.3,122.77 981.17,131.39 985.96,138.09 990.75,141.92 996.49,144.79 1003.2,144.79 1009.9,140 1015.64,138.09 1019.47,140.96 1017.56,150.54 1009.9,153.41 995.54,155.32 989.79,161.07 985,164.9 976.39,171.6 967.77,179.26 957.24,185.96 948.62,187.88 944.79,184.05 948.62,176.39 954.36,169.69 954.36,155.32 948.62,151.49 940.96,150.54 931.38,153.41 922.77,157.24 917.98,155.32 912.23,149.58 907.45,140.96 902.66,133.3" fill="#1E5689"/>
<path d="M918.12 123.26h0.8M985.4 154.52h0.8M1015.57 145.05h0.8M961.19 138.2h0.8M968.16 131.66h0.8M956.22 163.7h0.8M991.15 145.53h0.8M922.93 149.44h0.8M970.36 156.16h0.8M976.94 134.99h0.8M966.08 165.72h0.8M977.53 166.71h0.8M915.86 148.52h0.8M942.44 149.53h0.8M963.45 165.98h0.8M983.29 138.58h0.8M968.95 129.46h0.8M907.56 122.81h0.8M948.95 141.27h0.8M913.72 127.53h0.8M973.42 124.63h0.8M971.29 105h0.8M941.36 124.42h0.8M932.75 135.8h0.8M916.64 148.41h0.8M929.24 140.51h0.8M987.24 158.74h0.8M938.64 137.86h0.8M990.15 157.94h0.8M908.81 129.72h0.8" stroke="#fff" stroke-width="1.2" stroke-linecap="round" fill="none"/>
<path d="M937.15 79.37h1.6M917.92 94.56h1.6M930.54 83.4h1.6M917.44 60.07h1.6M931.39 83.41h1.6M917.01 91.18h1.6M919.63 60.26h1.6M936.33 78.11h1.6M924.92 96.8h1.6M931.55 82.75h1.6M934.18 72.05h1.6M925.26 95.04h1.6M917.71 60.42h1.6M923.63 61.47h1.6M932.16 68.37h1.6M933.88 86.26h1.6M925.73 89.51h1.6M931.21 82.91h1.6M931.14 82.65h1.6M916.45 89.55h1.6M917.06 83.34h1.6M937 78.17h1.6M917.06 85.86h1.6M931.95 83.99h1.6M914.87 72.87h1.6M916.3 64.01h1.6M925.6 96.11h1.6M925.43 61.75h1.6M938.02 82.17h1.6M925.94 62.11h1.6M936.9 79.29h1.6M924.2 61.89h1.6M920.43 62.12h1.6M917.34 59.07h1.6M927.47 81.34h1.6M932.73 83.61h1.6M922.85 59.19h1.6M923.14 59.78h1.6M926.09 83.55h1.6M916.16 63.18h1.6" stroke="#1E5689" stroke-width="2.4" stroke-linecap="round" fill="none"/>
<path d="M920.59 79.01h1.6M935.55 79.94h1.6M924.62 72.51h1.6M917.46 91.1h1.6M918.45 72.21h1.6M926.26 78.95h1.6M925.6 79.73h1.6M917.92 60.63h1.6M919.53 74.34h1.6M930.48 70.9h1.6M935.24 76.36h1.6M935.47 83.98h1.6M932.14 81.48h1.6M925.96 80h1.6M920.3 69.98h1.6M921.9 85.49h1.6M931.49 81.57h1.6M931.7 80.72h1.6M923.55 92.59h1.6M919.08 79.35h1.6M924.76 83.91h1.6M920.2 87.87h1.6M932.42 80.07h1.6M920.64 90.35h1.6M934.93 84.2h1.6M917.45 75.97h1.6M934.45 72.83h1.6M922.68 80.9h1.6M937.04 79.54h1.6M920.99 78.36h1.6M920.19 80.19h1.6M920.71 63.08h1.6M928.58 80.87h1.6M925.32 64.91h1.6M924.81 76.88h1.6M925.27 77.45h1.6M923.85 72.99h1.6M925.34 77.74h1.6M921.45 79.21h1.6M919.66 88.23h1.6M933.77 79.42h1.6M937.49 79.7h1.6M931.03 78.09h1.6M928.02 78.57h1.6M923.56 67.6h1.6M933.87 72.51h1.6M916.65 61.32h1.6M929.28 79.48h1.6M924.51 72.86h1.6M922.29 96.05h1.6M920.38 96.41h1.6M918.19 69.02h1.6M924.73 79.71h1.6M921.69 78.09h1.6M932.95 75.76h1.6M930.82 67.4h1.6M921.98 71.77h1.6M922.57 96.67h1.6M933.56 71.85h1.6M933.63 77.69h1.6M921.1 75.14h1.6M924.62 65.4h1.6M937.2 84.24h1.6M918.06 84.53h1.6M922.7 69.03h1.6M931.86 82.54h1.6M925.77 80.29h1.6M923.59 70.36h1.6M924.82 95.04h1.6M917.86 78.36h1.6" stroke="#1E5689" stroke-width="2.4" stroke-linecap="round" fill="none"/>
<path d="M943.97 155.13h1.6M938.22 172.67h1.6M939.29 183.38h1.6M953.81 178.28h1.6M934.16 154.86h1.6M932.72 178.64h1.6M928.42 172.26h1.6M953.66 171.3h1.6M931.8 176.89h1.6M951.98 164.97h1.6M944.43 175.11h1.6M930.01 158.08h1.6M939.12 167.37h1.6M941.96 183.29h1.6M937.88 170.21h1.6M943.87 159.08h1.6M935.97 155h1.6M947.63 173.26h1.6M930.67 180.1h1.6M943.08 173.22h1.6M937.96 174.52h1.6M949.45 155.5h1.6M953.02 180.87h1.6M951.1 172.12h1.6M937.19 152.31h1.6M930.19 178.99h1.6M944.23 180.89h1.6M955.86 151.19h1.6M929.84 150.66h1.6M928.54 163.57h1.6M951.24 176.05h1.6M945.24 174.25h1.6M953.02 179.45h1.6M930.55 172.04h1.6M936.65 159.75h1.6M938.25 154.67h1.6M949.44 153.93h1.6M928.79 157.67h1.6M943.61 168.69h1.6M940.76 172.13h1.6" stroke="#1E5689" stroke-width="2.4" stroke-linecap="round" fill="none"/>
<path d="M922.66 115.06h1.6M932.71 115h1.6M932.55 113.59h1.6M935.86 117.97h1.6M922.94 86.73h1.6M913.9 103.39h1.6M913.33 111.88h1.6M945.83 116.38h1.6M912.34 92.61h1.6M929.35 91.7h1.6M916.2 103.15h1.6M911.68 90.35h1.6M932.62 96.64h1.6M947.23 114.84h1.6M929.47 105.71h1.6M917.92 104.74h1.6M922.29 109.16h1.6M919.57 118.56h1.6M925.21 118.28h1.6M944.76 86.91h1.6M944.17 112.46h1.6M946.39 104.39h1.6M915.05 97.61h1.6M925.64 90.97h1.6M942.73 115.5h1.6M913.99 111.47h1.6M913.16 96.48h1.6M933.23 106.73h1.6M924.15 112.59h1.6M913.15 102.62h1.6M930.31 107.41h1.6M939.14 96.62h1.6M915.65 86.69h1.6M926.17 90.66h1.6M920.86 98.98h1.6" stroke="#1E5689" stroke-width="2.4" stroke-linecap="round" fill="none"/>
<path d="M1036.62 127.71h1.6M1023.81 184.32h1.6M1007.15 174.16h1.6M1027.71 185.85h1.6M1060.11 143.3h1.6M995.74 151.63h1.6M1058.87 155.6h1.6M1026.54 183.41h1.6M1059.43 145.7h1.6M1026.46 134.95h1.6M1006.57 174.65h1.6M1033.63 190.99h1.6M1056.08 167.45h1.6M1031.04 129.12h1.6M1006.92 174.93h1.6M998.33 153.13h1.6M1006.14 149.74h1.6M1058.41 149.68h1.6M1060.05 140.83h1.6M1061.03 161.26h1.6M1007.38 177.14h1.6M1005.84 175.38h1.6M998.47 152.29h1.6M1031.24 129.1h1.6M1059.26 157.18h1.6M1014.01 177.56h1.6M1033.82 190.68h1.6M1043.86 185.36h1.6M1025.55 134.21h1.6M1017.01 180.64h1.6M997.45 173.08h1.6M1019.12 179.49h1.6M1038.87 128.65h1.6M1059.48 137.17h1.6M1047.86 172.39h1.6M1041.91 129.31h1.6M1038.42 189.5h1.6M1059.42 136.65h1.6M1051.6 170.58h1.6M990.27 163.41h1.6M1016.47 179.46h1.6M1043.42 189.21h1.6M1029.93 130.46h1.6M1037.44 191.2h1.6M1059.24 149.7h1.6M1051.54 128.12h1.6M1047.94 128.11h1.6M991.31 170.26h1.6M1002.33 174.55h1.6M992.91 169.78h1.6M1003.03 175.15h1.6M1013.98 148.61h1.6M1040.88 190.53h1.6M992.86 157.44h1.6M992.56 170.1h1.6M1054.97 129.72h1.6M1043.99 185.76h1.6M1042.82 128.86h1.6M1018.98 139.86h1.6M1011.89 177.1h1.6M1032.51 130.02h1.6M1038.94 189.78h1.6M1004.19 152.06h1.6M1032.26 189.53h1.6M1052.5 129.04h1.6M990.48 164.92h1.6M1043.57 130.05h1.6M1061.2 155.63h1.6M1023.91 137.29h1.6M1002.67 150.79h1.6M1061.25 163.41h1.6M1055.63 168.65h1.6M1019.21 181.64h1.6M1045.59 127.88h1.6M1027.54 185.9h1.6M1055.11 126.95h1.6M1043.27 188.56h1.6M1060.13 148.8h1.6M1012.13 176.1h1.6M1058.27 133.33h1.6" stroke="#A0221C" stroke-width="2.4" stroke-linecap="round" fill="none"/>
<polygon points="990.75,161.07 993.62,155.32 1000.32,151.49 1009.9,150.54 1017.56,145.75 1022.35,136.17 1030.96,130.43 1043.41,128.51 1055.86,128.51 1059.69,134.26 1061.6,141.92 1059.69,151.49 1061.6,158.2 1059.69,166.81 1052.03,170.64 1048.2,174.47 1046.28,184.05 1043.41,189.79 1033.84,190.75 1029.05,185.96 1021.39,182.13 1014.69,177.35 1005.11,174.47 995.54,173.52 991.71,168.73" fill="#A0221C"/>
<path d="M1053.21 140.26h1.6M1042.57 144.16h1.6M1046.7 138.7h1.6M1047.96 165.08h1.6M1044.04 179h1.6M1036.23 174.28h1.6M1049.37 140.47h1.6M1039.56 178.56h1.6M1036.73 167.64h1.6M1048.13 153.25h1.6M1040.57 145.71h1.6M1055.84 145.73h1.6M1036.37 139.47h1.6M1048.19 179.18h1.6M1048 143.92h1.6M1053.3 171.27h1.6M1038.32 134.71h1.6M1046.75 139.41h1.6M1038.97 146.9h1.6M1035.89 179.03h1.6M1056.27 138.06h1.6M1056.2 155.01h1.6M1041.97 150.23h1.6M1044.38 176.83h1.6M1056.13 170.56h1.6M1049.85 135.02h1.6M1054.4 169.81h1.6M1035.64 157.22h1.6M1045.1 140.33h1.6M1054.87 160.59h1.6M1041.4 147.92h1.6M1042.24 164.36h1.6M1046.87 142.37h1.6M1045.31 178.72h1.6M1056.23 163.46h1.6M1034.57 169.27h1.6M1041.96 159.21h1.6M1054.13 147.97h1.6M1054.53 138.25h1.6M1044.2 153.67h1.6M1052.16 143.47h1.6M1038.42 157.46h1.6M1051.41 175.9h1.6M1035.4 167.11h1.6M1043.67 160.3h1.6" stroke="#1E5689" stroke-width="2.4" stroke-linecap="round" fill="none"/>
<path d="M1001.77 157.56h1.6M1004.58 150.79h1.6M994.87 151.87h1.6M992.69 156.08h1.6M1003.95 156.35h1.6M999.12 153.08h1.6M1015.58 159.12h1.6M1008.39 157.1h1.6M1005.73 159.17h1.6M1015.54 151.92h1.6M995.99 155.28h1.6M998.76 149.65h1.6" stroke="#1E5689" stroke-width="2.4" stroke-linecap="round" fill="none"/>
<path d="M1055.94 139.41h1.6M1055.35 138.55h1.6M1057.72 152.52h1.6M1057.92 156.53h1.6M1060.58 133.19h1.6M1052.42 138.49h1.6M1053.03 156.6h1.6M1053.34 138.9h1.6M1058.4 141.92h1.6M1053.22 136.26h1.6" stroke="#F26A47" stroke-width="2.4" stroke-linecap="round" fill="none"/>
<path d="M1040.5 184.35h1.6M1037.83 188.03h1.6M1042.98 185.32h1.6M1043.96 186.62h1.6" stroke="#F26A47" stroke-width="2.4" stroke-linecap="round" fill="none"/>
<path d="M975.59 125.64h1.6M978.46 125.64h1.6M980.85 125.64h1.6M916.22 66.28h1.6M917.18 67.71h1.6M929.15 63.4h1.6" stroke="#A0221C" stroke-width="2.4" stroke-linecap="round" fill="none"/>
<path d="M1026.31 129.54h1.6M1024.01 128.77h1.6M1026.04 126.46h1.6M1031.97 127.16h1.6M1034.69 135.79h1.6M1034.93 126.46h1.6M1029.26 132.24h1.6M1020.17 131.21h1.6" stroke="#1E5689" stroke-width="2.4" stroke-linecap="round" fill="none"/>
<path d="M1131.79 135.11h1.6M1104.1 145.16h1.6M1118.05 127.64h1.6M1113.22 156.93h1.6M1130.14 142.63h1.6M1106.87 127.52h1.6M1124.91 151.41h1.6M1138.29 137.15h1.6M1106.05 128.43h1.6M1109.38 127.48h1.6M1103 131.65h1.6M1138.3 137.12h1.6M1114.23 153.98h1.6M1113.5 157.61h1.6M1106.88 129.25h1.6M1101.85 139.05h1.6M1103.11 129.84h1.6M1102.06 137.84h1.6M1106.54 148.32h1.6M1102.69 130.46h1.6M1118.45 126.85h1.6M1137.36 137.63h1.6M1116.22 155.36h1.6M1130.9 143.19h1.6M1121.59 151.04h1.6M1101.83 133.77h1.6M1114.74 156.11h1.6M1129.61 135.27h1.6M1119.35 152.23h1.6M1129.21 133.98h1.6M1103.77 129.64h1.6M1106.39 128.17h1.6M1103.89 144.75h1.6M1121.78 149.4h1.6M1132.66 140.86h1.6M1109.34 155.4h1.6M1100.4 131.56h1.6M1126.64 145.77h1.6M1108.61 128.35h1.6M1124.83 130.54h1.6" stroke="#F26A47" stroke-width="2.4" stroke-linecap="round" fill="none"/>
<polygon points="1102.55,131.17 1107.27,128.34 1118.6,128.34 1127.09,132.11 1134.64,135.89 1140.3,137.78 1134.64,140.61 1128.03,144.38 1127.09,150.05 1121.43,151.93 1116.71,153.82 1113.88,157.6 1109.16,153.82 1105.38,144.38 1102.55,138.72" fill="#F26A47"/>
<path d="M1110.35 137.54h0.8M1111.55 155.91h0.8M1117.4 140.93h0.8M1126.38 132.07h0.8M1136.49 139.45h0.8M1120.2 135.15h0.8M1126.78 146.21h0.8M1107.14 133.56h0.8M1102.68 131.96h0.8M1120.91 150.3h0.8M1129.61 135.48h0.8M1119.45 147.64h0.8M1115.93 154.14h0.8M1111.69 138.39h0.8M1128.31 138.44h0.8M1105.68 136.59h0.8M1133.49 139.06h0.8M1120.11 141.51h0.8M1103.94 131.06h0.8M1105.71 129.39h0.8M1108.97 134.15h0.8M1110.71 149.38h0.8M1123.27 136.71h0.8M1103.85 137.81h0.8M1114.69 146.82h0.8" stroke="#fff" stroke-width="1.2" stroke-linecap="round" fill="none"/>
<path d="M1108.2 134.41h1.6M1107.45 130.57h1.6M1106.85 137.74h1.6M1105.14 133.99h1.6M1105.61 141.05h1.6M1104.53 138.43h1.6M1106.98 134.01h1.6M1106.6 132.23h1.6M1106.5 134.05h1.6M1107.71 141.92h1.6M1108.59 142.16h1.6M1102.52 135.05h1.6M1105 137.42h1.6M1105.19 141.06h1.6M1103.63 133.67h1.6M1103.11 141.11h1.6M1102.97 135.39h1.6M1105.65 138.32h1.6M1103.83 132.5h1.6M1106.96 130.79h1.6M1105.01 139.77h1.6M1108.35 134.28h1.6M1106.63 134.01h1.6M1104.25 140.55h1.6M1104.98 137.52h1.6" stroke="#A0221C" stroke-width="2.4" stroke-linecap="round" fill="none"/>
<path d="M1104.29 141.23h1.6M1125.33 139.64h1.6M1112.78 136.27h1.6M1114.27 135.21h1.6M1123.12 145.45h1.6M1121.16 138.98h1.6M1105.34 140.74h1.6M1117.54 131.55h1.6M1108.35 150.53h1.6M1109.53 134.93h1.6" stroke="#A0221C" stroke-width="2.4" stroke-linecap="round" fill="none"/>
<path d="M1119.16 129.87h1.6M1116.45 132.34h1.6M1112.59 142.19h1.6M1107.1 134.62h1.6M1118.48 134.88h1.6M1120.24 129.57h1.6" stroke="#1E5689" stroke-width="2.4" stroke-linecap="round" fill="none"/>
<path d="M1159.09 158.52h1.6M1152.35 148.45h1.6M1156.21 164.19h1.6M1158.48 163.48h1.6M1148.99 145.06h1.6M1159.79 168.68h1.6M1161.46 175.07h1.6M1156.88 163.93h1.6M1154.79 148.92h1.6M1157.83 161.44h1.6M1154.08 150h1.6M1159.7 162.63h1.6M1160.18 159.86h1.6M1157.8 157.79h1.6M1157.97 174.51h1.6M1158.92 175.37h1.6M1160.72 174.84h1.6M1159.2 153.82h1.6M1159.94 159.32h1.6M1150.4 148.92h1.6M1160.24 155.72h1.6M1162.03 171.34h1.6M1157.3 160.43h1.6M1163.76 168.32h1.6M1161.8 160.01h1.6M1156 168.74h1.6M1164.25 172.59h1.6M1157.97 168.27h1.6M1161.65 175.56h1.6M1155.78 161.47h1.6M1154.51 154.67h1.6M1157.26 175.14h1.6M1153.05 154.28h1.6M1158.52 172.61h1.6M1158.5 164.24h1.6M1160.13 155.12h1.6M1157.19 166.89h1.6M1162.29 171.52h1.6M1159.04 153.52h1.6M1158.1 155.69h1.6M1159.99 159.26h1.6M1155.12 150.83h1.6M1155.75 158.29h1.6M1156.39 166.65h1.6M1149.82 148.63h1.6" stroke="#F26A47" stroke-width="2.4" stroke-linecap="round" fill="none"/>
<path d="M1128.14 204.59h1.6M1124.96 184.89h1.6M1133.01 196.56h1.6M1123.19 199.23h1.6M1137.62 202.16h1.6M1130.66 186.97h1.6M1132.38 216.71h1.6M1136.49 203.51h1.6M1129.31 184.7h1.6M1120.5 192.18h1.6M1139.27 201.75h1.6M1126.49 200.52h1.6M1125.22 188.95h1.6M1133.55 203.27h1.6M1126.29 195.31h1.6M1130.74 207.14h1.6M1128.56 188.3h1.6M1131.58 189.26h1.6M1136.36 201.38h1.6M1125.35 185.19h1.6M1125.59 182.49h1.6M1132.17 210.55h1.6M1131.67 199.02h1.6M1134.23 210.39h1.6M1139.08 197.5h1.6M1117.52 190.71h1.6M1129.85 210.71h1.6M1132.02 204.49h1.6M1116.76 196.98h1.6M1132.18 216.38h1.6M1132.78 197.07h1.6M1134.59 196.08h1.6M1126.16 183.42h1.6M1129.63 202.61h1.6M1116.46 181.49h1.6M1113.82 189.08h1.6M1112.34 186.31h1.6M1112.3 187.17h1.6M1127.26 185.47h1.6M1124.93 193.22h1.6M1122.09 198.76h1.6M1122.42 195.33h1.6M1119.93 184.61h1.6M1113.6 193.22h1.6M1134.27 194.92h1.6M1137.83 194.51h1.6M1132.56 185.29h1.6M1112.08 186.43h1.6M1139.07 203.19h1.6M1117.97 200.56h1.6M1127.72 183.61h1.6M1121.48 196.4h1.6M1130.74 196.27h1.6M1114.42 193.63h1.6M1132.57 194.13h1.6M1114.22 180.57h1.6M1127.75 211.13h1.6M1120.1 203.7h1.6M1130.66 187.37h1.6M1140 204.56h1.6M1124.76 206.8h1.6M1123.56 201.9h1.6M1135.54 195.63h1.6M1124.28 195.48h1.6M1122.05 199.36h1.6M1133.12 194.32h1.6M1119.34 184.32h1.6M1121.3 183h1.6M1118.51 199.03h1.6M1125.81 208.79h1.6M1113 181.71h1.6M1131.08 198.49h1.6M1123.13 207.4h1.6M1138.35 202.54h1.6M1116.96 196.45h1.6" stroke="#F26A47" stroke-width="2.4" stroke-linecap="round" fill="none"/>
<path d="M1113.45 196.9h1.6M1113.88 190.24h1.6M1114.66 196.97h1.6M1113.28 183.78h1.6M1117.56 195.06h1.6M1113.15 197.5h1.6M1113.34 193.14h1.6M1111.15 189.16h1.6M1113.63 186.53h1.6M1115.91 197.61h1.6M1112.6 186.26h1.6M1111.64 183.27h1.6M1117.28 193.67h1.6M1111.9 196.98h1.6" stroke="#A0221C" stroke-width="2.4" stroke-linecap="round" fill="none"/>
<path d="M1117.93 202.25h1.6M1117.73 197.83h1.6M1115.15 203.62h1.6M1120.11 191.99h1.6M1120.72 192.96h1.6M1114.54 195.49h1.6M1118.8 200.14h1.6M1121.08 200.48h1.6" stroke="#1E5689" stroke-width="2.4" stroke-linecap="round" fill="none"/>
<path d="M1118.86 166.92h1.6M1108.02 173.12h1.6M1104.71 170.35h1.6M1116.32 175.26h1.6M1120.63 174.09h1.6M1125.27 172.33h1.6M1115.35 158.74h1.6M1106.65 156.73h1.6M1107.13 171.99h1.6M1119.72 161.82h1.6M1115.07 154.18h1.6M1112.28 159.55h1.6M1112.1 166.77h1.6M1117.56 175.68h1.6M1117.86 173.2h1.6M1121.97 176.35h1.6M1104.03 156.82h1.6M1121.54 155.16h1.6M1121.07 170.9h1.6M1124.58 157.22h1.6M1110.4 175.87h1.6M1108.55 173.37h1.6M1121.97 154.91h1.6M1123.33 166.36h1.6M1121.34 174.2h1.6" stroke="#F26A47" stroke-width="2.4" stroke-linecap="round" fill="none"/>
<path d="M1139.86 218.22h1.6M1141.31 218.13h1.6M1142.05 218.44h1.6M1138.65 219.52h1.6M1140.14 222.53h1.6M1139.68 219.22h1.6M1137.48 222.67h1.6M1139.34 217.28h1.6" stroke="#F26A47" stroke-width="2.4" stroke-linecap="round" fill="none"/>
<path d="M1131.18 64.36h1.6M1135.77 73.54h1.6M1132.44 79.11h1.6M1129.07 68.74h1.6M1137.19 68.08h1.6M1137.27 79.38h1.6M1129.58 75.45h1.6M1132.71 75.34h1.6M1132.45 77.21h1.6M1134.52 74.14h1.6M1134.89 78.45h1.6M1133 65.01h1.6" stroke="#1E5689" stroke-width="2.4" stroke-linecap="round" fill="none"/>
<path d="M1148.47 59.44h1.6M1142.34 62.08h1.6M1131.01 68.69h1.6M1132.43 74.07h1.6M1139.5 73.78h1.6M1143.75 75.29h1.6M1145.64 78.5h1.6M1149.7 80.39h1.6M1149.89 85.68h1.6M1138.09 89.64h1.6M1154.13 90.77h1.6" stroke="#FDC84F" stroke-width="2.4" stroke-linecap="round" fill="none"/>
<path d="M1139.03 86.81h1.6M1123.46 138.72h1.6M1122.52 142.5h1.6M1124.4 147.22h1.6M1121.57 151.93h1.6" stroke="#A0221C" stroke-width="2.4" stroke-linecap="round" fill="none"/>
<path d="M1134.31 91.06h1.6M1131.48 104.27h1.6M1131.01 117.48h1.6M1125.82 119.37h1.6M1115.44 127.87h1.6M1143.28 139.66h1.6M1142.81 142.97h1.6M1146.11 144.38h1.6M1138.09 149.1h1.6M1144.22 152.41h1.6M1147.81 158.07h1.6M1104.58 164.68h1.6M1128.65 150.99h1.6M1140.45 224.61h1.6M1142.34 225.55h1.6M1141.39 223.19h1.6" stroke="#1E5689" stroke-width="2.4" stroke-linecap="round" fill="none"/>
<path d="M1127.23 79.73h1.6M1126.29 126.92h1.6M1131.01 128.34h1.6M1146.11 169.4h1.6M1139.5 182.14h1.6M1150.83 180.25h1.6M1152.72 193.46h1.6M1145.64 199.13h1.6M1145.17 207.15h1.6M1144.22 189.69h1.6M1138.56 191.58h1.6" stroke="#F26A47" stroke-width="2.4" stroke-linecap="round" fill="none"/>
<circle cx="1191.75" cy="57" r="5" fill="#1E5689"/>
<circle cx="1191.75" cy="103.75" r="5" fill="#A0221C"/>
<circle cx="1191.75" cy="151.25" r="5" fill="#F26A47"/>
<circle cx="1191.75" cy="199.25" r="5" fill="#FDC84F"/>
<text x="1211.25" y="61.95" font-size="20">CD163+MRC1+</text>
<text x="1211.25" y="85.7" font-size="20">Mac</text>
<text x="1211.25" y="109.45" font-size="20">CD163+MRC1+</text>
<text x="1211.25" y="133.2" font-size="20">TREM2+ Mac</text>
<text x="1211.25" y="156.95" font-size="20">CD163+MRC1−</text>
<text x="1211.25" y="180.7" font-size="20">Mac</text>
<text x="1211.25" y="204.45" font-size="20">CD16+ Mono</text>
<path d="M587 213.75V252.5H627.5" stroke="#111" stroke-width="2.6" fill="none"/>
<polygon points="574,213.75 600,213.75 587,191.25" fill="#111"/>
<polygon points="627.5,239.5 627.5,265.5 649.5,252.5" fill="#111"/>
<text transform="translate(567.5 231.25) rotate(-90)" font-size="20" text-anchor="middle">UMAP 2</text>
<text x="606.25" y="287.5" font-size="20" text-anchor="middle">UMAP 1</text>
</svg>
</body></html>
